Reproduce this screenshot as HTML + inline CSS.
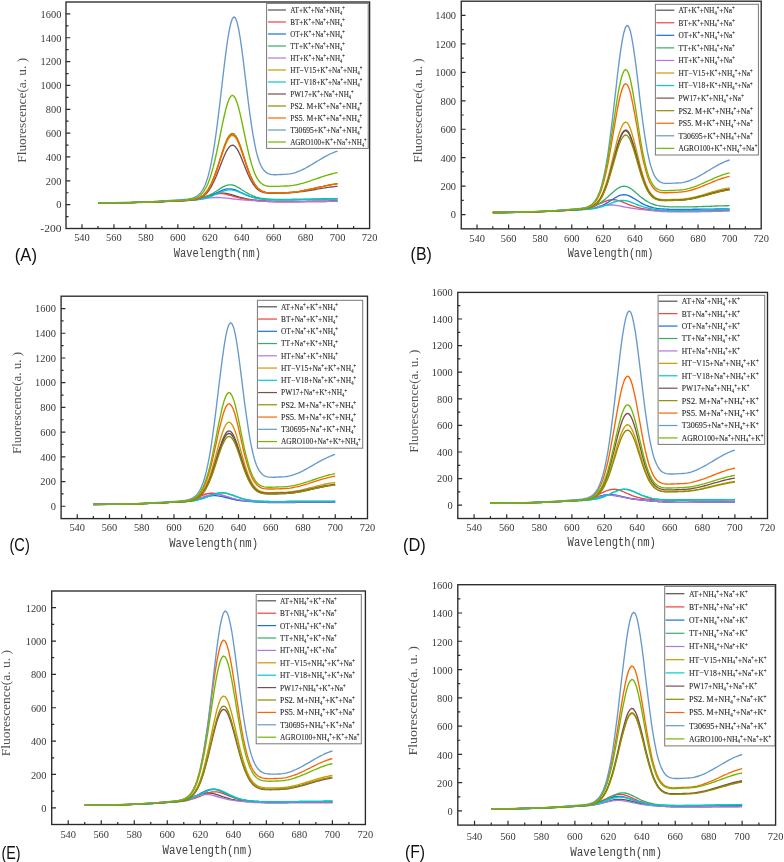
<!DOCTYPE html>
<html><head><meta charset="utf-8"><style>
html,body{margin:0;padding:0;background:#fff;}
svg{display:block;will-change:transform;}
.c{fill:none;stroke-width:1.35;stroke-linejoin:round;}
.fr{fill:none;stroke:#2a2a2a;stroke-width:1.35;}
.tk{fill:none;stroke:#2a2a2a;stroke-width:1.2;}
.tl{font-family:"Liberation Serif",serif;font-size:10px;fill:#383838;}
.yt{font-family:"Liberation Serif",serif;font-size:12.8px;fill:#505050;}
.xt{font-family:"Liberation Mono",monospace;font-size:12px;fill:#404040;}
.lab{font-family:"Liberation Sans",sans-serif;font-size:18.6px;fill:#111;}
.lg{fill:#fff;stroke:#787878;stroke-width:1;}
.ls{stroke-width:1.2;fill:none;}
.lt{font-family:"Liberation Serif",serif;fill:#2a2a2a;stroke:#2a2a2a;stroke-width:0.12px;}
.sp,.sb{font-size:62%;}
</style></head><body>
<svg width="784" height="862" viewBox="0 0 784 862">
<polyline class="c" stroke="#515151" points="98,203 105.9,202.9 113.9,202.9 121.9,202.8 129.9,202.6 137.9,202.4 145.9,202.2 153.9,201.9 161.9,201.6 169.9,201.3 177.9,200.8 179.5,200.7 181,200.7 182.6,200.6 184.2,200.5 185.8,200.4 187.4,200.3 189,200.2 190.6,200 192.2,199.9 193.8,199.6 195.4,199.4 197,199.1 198.6,198.8 200.2,198.5 201.8,198.1 203.4,197.7 205,197.2 206.6,196.7 208.2,196.2 209.8,195.7 211.4,195.2 213,194.7 214.6,194.2 216.2,193.8 217.8,193.5 219.4,193.3 221,193.1 222.6,193.1 224.2,193.2 225.8,193.4 227.4,193.7 229,194.1 230.6,194.5 232.2,194.9 233.8,195.4 235.4,195.9 237,196.4 238.6,196.9 240.2,197.3 241.8,197.7 243.4,198.1 245,198.5 246.6,198.8 248.2,199.1 249.8,199.4 251.4,199.6 253,199.9 254.6,200.1 256.1,200.2 257.7,200.4 259.3,200.5 260.9,200.7 262.5,200.8 264.1,200.9 265.7,201 267.3,201.1 268.9,201.1 270.5,201.2 272.1,201.3 273.7,201.3 275.3,201.3 276.9,201.4 278.5,201.4 280.1,201.4 281.7,201.4 283.3,201.4 284.9,201.4 286.5,201.4 288.1,201.4 289.7,201.4 291.3,201.4 292.9,201.4 294.5,201.4 296.1,201.4 297.7,201.3 299.3,201.3 300.9,201.3 302.5,201.3 304.1,201.3 305.7,201.3 307.3,201.2 308.9,201.2 310.5,201.2 312.1,201.2 313.7,201.2 315.3,201.2 316.9,201.2 318.5,201.1 320.1,201.1 321.7,201.1 323.3,201.1 324.9,201.1 326.5,201.1 328.1,201.1 329.7,201 331.3,201 332.8,201 334.4,201 336,200.9 337.6,200.9"/>
<polyline class="c" stroke="#F14040" points="98,203 105.9,202.9 113.9,202.9 121.9,202.8 129.9,202.6 137.9,202.4 145.9,202.2 153.9,201.9 161.9,201.6 169.9,201.2 177.9,200.8 179.5,200.7 181,200.6 182.6,200.5 184.2,200.4 185.8,200.3 187.4,200.2 189,200 190.6,199.8 192.2,199.6 193.8,199.4 195.4,199.1 197,198.8 198.6,198.4 200.2,198 201.8,197.6 203.4,197.2 205,196.7 206.6,196.2 208.2,195.7 209.8,195.2 211.4,194.8 213,194.3 214.6,194 216.2,193.7 217.8,193.5 219.4,193.5 221,193.5 222.6,193.6 224.2,193.9 225.8,194.2 227.4,194.6 229,195 230.6,195.4 232.2,195.9 233.8,196.4 235.4,196.8 237,197.3 238.6,197.7 240.2,198.1 241.8,198.4 243.4,198.7 245,199 246.6,199.3 248.2,199.6 249.8,199.8 251.4,200 253,200.2 254.6,200.4 256.1,200.5 257.7,200.7 259.3,200.8 260.9,201 262.5,201.1 264.1,201.2 265.7,201.3 267.3,201.4 268.9,201.5 270.5,201.5 272.1,201.6 273.7,201.6 275.3,201.7 276.9,201.7 278.5,201.7 280.1,201.8 281.7,201.8 283.3,201.8 284.9,201.8 286.5,201.8 288.1,201.8 289.7,201.8 291.3,201.8 292.9,201.7 294.5,201.7 296.1,201.7 297.7,201.7 299.3,201.7 300.9,201.7 302.5,201.6 304.1,201.6 305.7,201.6 307.3,201.6 308.9,201.6 310.5,201.6 312.1,201.6 313.7,201.5 315.3,201.5 316.9,201.5 318.5,201.5 320.1,201.5 321.7,201.5 323.3,201.5 324.9,201.5 326.5,201.4 328.1,201.4 329.7,201.4 331.3,201.4 332.8,201.4 334.4,201.3 336,201.3 337.6,201.3"/>
<polyline class="c" stroke="#1A6FDF" points="98,202.9 105.9,202.9 113.9,202.8 121.9,202.7 129.9,202.6 137.9,202.4 145.9,202.2 153.9,201.9 161.9,201.6 169.9,201.2 177.9,200.8 179.5,200.7 181,200.7 182.6,200.6 184.2,200.5 185.8,200.5 187.4,200.4 189,200.3 190.6,200.2 192.2,200.1 193.8,199.9 195.4,199.8 197,199.5 198.6,199.3 200.2,199 201.8,198.7 203.4,198.3 205,197.9 206.6,197.4 208.2,196.8 209.8,196.2 211.4,195.5 213,194.8 214.6,194 216.2,193.2 217.8,192.4 219.4,191.6 221,190.9 222.6,190.2 224.2,189.6 225.8,189.2 227.4,188.9 229,188.8 230.6,188.9 232.2,189.1 233.8,189.5 235.4,190 237,190.6 238.6,191.3 240.2,192.1 241.8,192.8 243.4,193.6 245,194.3 246.6,195 248.2,195.7 249.8,196.3 251.4,196.8 253,197.3 254.6,197.7 256.1,198.1 257.7,198.4 259.3,198.6 260.9,198.8 262.5,199 264.1,199.2 265.7,199.3 267.3,199.4 268.9,199.4 270.5,199.5 272.1,199.5 273.7,199.6 275.3,199.6 276.9,199.6 278.5,199.6 280.1,199.6 281.7,199.6 283.3,199.6 284.9,199.6 286.5,199.6 288.1,199.6 289.7,199.6 291.3,199.6 292.9,199.5 294.5,199.5 296.1,199.5 297.7,199.5 299.3,199.5 300.9,199.4 302.5,199.4 304.1,199.4 305.7,199.4 307.3,199.3 308.9,199.3 310.5,199.3 312.1,199.3 313.7,199.2 315.3,199.2 316.9,199.2 318.5,199.1 320.1,199.1 321.7,199.1 323.3,199 324.9,199 326.5,199 328.1,198.9 329.7,198.9 331.3,198.9 332.8,198.8 334.4,198.8 336,198.8 337.6,198.7"/>
<polyline class="c" stroke="#37AD6B" points="98,202.9 105.9,202.9 113.9,202.8 121.9,202.7 129.9,202.6 137.9,202.4 145.9,202.1 153.9,201.9 161.9,201.5 169.9,201.1 177.9,200.7 179.5,200.6 181,200.6 182.6,200.5 184.2,200.4 185.8,200.3 187.4,200.3 189,200.1 190.6,200 192.2,199.9 193.8,199.7 195.4,199.5 197,199.3 198.6,199 200.2,198.7 201.8,198.2 203.4,197.8 205,197.2 206.6,196.6 208.2,195.9 209.8,195.1 211.4,194.2 213,193.3 214.6,192.3 216.2,191.3 217.8,190.2 219.4,189.1 221,188.1 222.6,187.1 224.2,186.3 225.8,185.6 227.4,185.1 229,184.8 230.6,184.8 232.2,185 233.8,185.4 235.4,186 237,186.8 238.6,187.7 240.2,188.6 241.8,189.7 243.4,190.7 245,191.7 246.6,192.7 248.2,193.6 249.8,194.5 251.4,195.2 253,195.9 254.6,196.5 256.1,197.1 257.7,197.5 259.3,197.9 260.9,198.3 262.5,198.5 264.1,198.7 265.7,198.9 267.3,199.1 268.9,199.2 270.5,199.3 272.1,199.3 273.7,199.4 275.3,199.4 276.9,199.5 278.5,199.5 280.1,199.5 281.7,199.5 283.3,199.5 284.9,199.5 286.5,199.5 288.1,199.5 289.7,199.5 291.3,199.5 292.9,199.5 294.5,199.5 296.1,199.4 297.7,199.4 299.3,199.4 300.9,199.4 302.5,199.4 304.1,199.3 305.7,199.3 307.3,199.3 308.9,199.3 310.5,199.2 312.1,199.2 313.7,199.2 315.3,199.1 316.9,199.1 318.5,199.1 320.1,199.1 321.7,199 323.3,199 324.9,199 326.5,198.9 328.1,198.9 329.7,198.9 331.3,198.8 332.8,198.8 334.4,198.8 336,198.7 337.6,198.7"/>
<polyline class="c" stroke="#B177DE" points="98,203 105.9,203 113.9,202.9 121.9,202.8 129.9,202.7 137.9,202.5 145.9,202.3 153.9,202 161.9,201.7 169.9,201.3 177.9,200.9 179.5,200.9 181,200.8 182.6,200.7 184.2,200.7 185.8,200.6 187.4,200.5 189,200.4 190.6,200.3 192.2,200.1 193.8,200 195.4,199.8 197,199.6 198.6,199.4 200.2,199.2 201.8,199 203.4,198.8 205,198.6 206.6,198.3 208.2,198.1 209.8,197.9 211.4,197.8 213,197.6 214.6,197.6 216.2,197.5 217.8,197.5 219.4,197.5 221,197.6 222.6,197.8 224.2,197.9 225.8,198.1 227.4,198.2 229,198.4 230.6,198.6 232.2,198.8 233.8,199 235.4,199.2 237,199.3 238.6,199.5 240.2,199.6 241.8,199.8 243.4,199.9 245,200 246.6,200.2 248.2,200.3 249.8,200.4 251.4,200.5 253,200.6 254.6,200.7 256.1,200.8 257.7,201 259.3,201.1 260.9,201.2 262.5,201.3 264.1,201.4 265.7,201.4 267.3,201.5 268.9,201.6 270.5,201.6 272.1,201.7 273.7,201.7 275.3,201.8 276.9,201.8 278.5,201.8 280.1,201.8 281.7,201.8 283.3,201.9 284.9,201.9 286.5,201.9 288.1,201.8 289.7,201.8 291.3,201.8 292.9,201.8 294.5,201.8 296.1,201.8 297.7,201.7 299.3,201.7 300.9,201.7 302.5,201.7 304.1,201.7 305.7,201.7 307.3,201.6 308.9,201.6 310.5,201.6 312.1,201.6 313.7,201.6 315.3,201.6 316.9,201.6 318.5,201.5 320.1,201.5 321.7,201.5 323.3,201.5 324.9,201.5 326.5,201.5 328.1,201.4 329.7,201.4 331.3,201.4 332.8,201.4 334.4,201.4 336,201.3 337.6,201.3"/>
<polyline class="c" stroke="#CC9900" points="98,202.9 105.9,202.9 113.9,202.8 121.9,202.7 129.9,202.6 137.9,202.4 145.9,202.1 153.9,201.8 161.9,201.5 169.9,201.1 177.9,200.6 179.5,200.6 181,200.5 182.6,200.4 184.2,200.4 185.8,200.3 187.4,200.2 189,200 190.6,199.9 192.2,199.7 193.8,199.4 195.4,199.1 197,198.6 198.6,198 200.2,197.3 201.8,196.3 203.4,195.1 205,193.5 206.6,191.6 208.2,189.4 209.8,186.6 211.4,183.5 213,179.8 214.6,175.8 216.2,171.3 217.8,166.6 219.4,161.6 221,156.6 222.6,151.6 224.2,147 225.8,142.7 227.4,139.2 229,136.5 230.6,134.7 232.2,134 233.8,134.4 235.4,135.9 237,138.5 238.6,142 240.2,146.1 241.8,150.8 243.4,155.6 245,160.6 246.6,165.4 248.2,170 249.8,174.2 251.4,177.9 253,181.2 254.6,183.9 256.1,186.2 257.7,188 259.3,189.5 260.9,190.6 262.5,191.4 264.1,191.9 265.7,192.4 267.3,192.6 268.9,192.8 270.5,192.9 272.1,192.9 273.7,192.9 275.3,192.9 276.9,192.9 278.5,192.8 280.1,192.8 281.7,192.8 283.3,192.7 284.9,192.7 286.5,192.6 288.1,192.6 289.7,192.5 291.3,192.4 292.9,192.2 294.5,192.1 296.1,191.9 297.7,191.6 299.3,191.4 300.9,191.1 302.5,190.8 304.1,190.5 305.7,190.2 307.3,189.9 308.9,189.5 310.5,189.2 312.1,188.8 313.7,188.5 315.3,188.1 316.9,187.7 318.5,187.3 320.1,187 321.7,186.6 323.3,186.3 324.9,185.9 326.5,185.6 328.1,185.3 329.7,185 331.3,184.7 332.8,184.4 334.4,184.2 336,183.9 337.6,183.7"/>
<polyline class="c" stroke="#00CBCC" points="98,202.9 105.9,202.9 113.9,202.9 121.9,202.8 129.9,202.6 137.9,202.4 145.9,202.2 153.9,201.9 161.9,201.6 169.9,201.2 177.9,200.8 179.5,200.8 181,200.7 182.6,200.7 184.2,200.6 185.8,200.5 187.4,200.5 189,200.4 190.6,200.3 192.2,200.2 193.8,200.1 195.4,199.9 197,199.7 198.6,199.5 200.2,199.3 201.8,199 203.4,198.7 205,198.3 206.6,197.9 208.2,197.4 209.8,196.8 211.4,196.3 213,195.6 214.6,194.9 216.2,194.2 217.8,193.5 219.4,192.8 221,192.1 222.6,191.4 224.2,190.9 225.8,190.4 227.4,190.1 229,189.9 230.6,189.9 232.2,190 233.8,190.3 235.4,190.7 237,191.3 238.6,191.9 240.2,192.5 241.8,193.2 243.4,193.9 245,194.6 246.6,195.2 248.2,195.8 249.8,196.4 251.4,196.9 253,197.4 254.6,197.8 256.1,198.1 257.7,198.4 259.3,198.7 260.9,198.9 262.5,199.1 264.1,199.3 265.7,199.4 267.3,199.5 268.9,199.6 270.5,199.6 272.1,199.7 273.7,199.7 275.3,199.7 276.9,199.7 278.5,199.7 280.1,199.8 281.7,199.8 283.3,199.8 284.9,199.7 286.5,199.7 288.1,199.7 289.7,199.7 291.3,199.7 292.9,199.7 294.5,199.7 296.1,199.6 297.7,199.6 299.3,199.6 300.9,199.6 302.5,199.6 304.1,199.5 305.7,199.5 307.3,199.5 308.9,199.4 310.5,199.4 312.1,199.4 313.7,199.3 315.3,199.3 316.9,199.3 318.5,199.3 320.1,199.2 321.7,199.2 323.3,199.2 324.9,199.1 326.5,199.1 328.1,199.1 329.7,199 331.3,199 332.8,199 334.4,198.9 336,198.9 337.6,198.9"/>
<polyline class="c" stroke="#7D4E4E" points="98,202.9 105.9,202.9 113.9,202.8 121.9,202.7 129.9,202.6 137.9,202.4 145.9,202.1 153.9,201.9 161.9,201.5 169.9,201.2 177.9,200.7 179.5,200.7 181,200.6 182.6,200.5 184.2,200.5 185.8,200.4 187.4,200.3 189,200.2 190.6,200 192.2,199.9 193.8,199.6 195.4,199.3 197,199 198.6,198.5 200.2,197.8 201.8,197 203.4,196 205,194.7 206.6,193.2 208.2,191.3 209.8,189 211.4,186.4 213,183.3 214.6,180 216.2,176.3 217.8,172.3 219.4,168.2 221,164 222.6,159.9 224.2,156 225.8,152.5 227.4,149.6 229,147.3 230.6,145.8 232.2,145.2 233.8,145.5 235.4,146.8 237,148.9 238.6,151.7 240.2,155.1 241.8,158.9 243.4,162.9 245,167 246.6,170.9 248.2,174.7 249.8,178.1 251.4,181.2 253,183.8 254.6,186.1 256.1,187.9 257.7,189.4 259.3,190.6 260.9,191.4 262.5,192.1 264.1,192.5 265.7,192.8 267.3,193 268.9,193.2 270.5,193.2 272.1,193.2 273.7,193.2 275.3,193.2 276.9,193.2 278.5,193.1 280.1,193.1 281.7,193 283.3,193 284.9,193 286.5,192.9 288.1,192.9 289.7,192.8 291.3,192.7 292.9,192.6 294.5,192.4 296.1,192.3 297.7,192.1 299.3,191.9 300.9,191.7 302.5,191.5 304.1,191.3 305.7,191 307.3,190.8 308.9,190.5 310.5,190.3 312.1,190 313.7,189.8 315.3,189.5 316.9,189.2 318.5,188.9 320.1,188.7 321.7,188.4 323.3,188.1 324.9,187.9 326.5,187.6 328.1,187.4 329.7,187.2 331.3,187 332.8,186.8 334.4,186.6 336,186.4 337.6,186.3"/>
<polyline class="c" stroke="#8E8E00" points="98,202.9 105.9,202.9 113.9,202.8 121.9,202.7 129.9,202.6 137.9,202.4 145.9,202.1 153.9,201.8 161.9,201.5 169.9,201.1 177.9,200.6 179.5,200.6 181,200.5 182.6,200.4 184.2,200.4 185.8,200.3 187.4,200.2 189,200 190.6,199.9 192.2,199.7 193.8,199.4 195.4,199 197,198.6 198.6,198 200.2,197.2 201.8,196.3 203.4,195 205,193.5 206.6,191.6 208.2,189.3 209.8,186.5 211.4,183.3 213,179.6 214.6,175.6 216.2,171.1 217.8,166.3 219.4,161.2 221,156.2 222.6,151.2 224.2,146.5 225.8,142.2 227.4,138.6 229,135.9 230.6,134.1 232.2,133.4 233.8,133.8 235.4,135.4 237,138 238.6,141.5 240.2,145.7 241.8,150.3 243.4,155.3 245,160.3 246.6,165.1 248.2,169.7 249.8,174 251.4,177.7 253,181 254.6,183.8 256.1,186.1 257.7,188 259.3,189.4 260.9,190.5 262.5,191.3 264.1,191.9 265.7,192.3 267.3,192.6 268.9,192.8 270.5,192.9 272.1,192.9 273.7,192.9 275.3,192.9 276.9,192.9 278.5,192.8 280.1,192.8 281.7,192.8 283.3,192.7 284.9,192.7 286.5,192.6 288.1,192.6 289.7,192.5 291.3,192.4 292.9,192.2 294.5,192.1 296.1,191.9 297.7,191.6 299.3,191.4 300.9,191.1 302.5,190.8 304.1,190.5 305.7,190.2 307.3,189.9 308.9,189.5 310.5,189.2 312.1,188.8 313.7,188.4 315.3,188.1 316.9,187.7 318.5,187.3 320.1,187 321.7,186.6 323.3,186.3 324.9,185.9 326.5,185.6 328.1,185.3 329.7,185 331.3,184.7 332.8,184.4 334.4,184.2 336,183.9 337.6,183.7"/>
<polyline class="c" stroke="#FB6501" points="98,202.9 105.9,202.9 113.9,202.8 121.9,202.7 129.9,202.6 137.9,202.4 145.9,202.1 153.9,201.8 161.9,201.5 169.9,201.1 177.9,200.6 179.5,200.6 181,200.5 182.6,200.4 184.2,200.4 185.8,200.3 187.4,200.2 189,200 190.6,199.9 192.2,199.7 193.8,199.4 195.4,199.1 197,198.7 198.6,198.1 200.2,197.3 201.8,196.4 203.4,195.2 205,193.7 206.6,191.8 208.2,189.6 209.8,186.9 211.4,183.8 213,180.2 214.6,176.3 216.2,171.9 217.8,167.2 219.4,162.4 221,157.4 222.6,152.6 224.2,148 225.8,143.9 227.4,140.4 229,137.7 230.6,136 232.2,135.3 233.8,135.7 235.4,137.2 237,139.7 238.6,143.1 240.2,147.2 241.8,151.7 243.4,156.5 245,161.3 246.6,166.1 248.2,170.5 249.8,174.6 251.4,178.3 253,181.5 254.6,184.2 256.1,186.4 257.7,188.2 259.3,189.6 260.9,190.6 262.5,191.4 264.1,192 265.7,192.4 267.3,192.6 268.9,192.8 270.5,192.9 272.1,192.9 273.7,192.9 275.3,192.9 276.9,192.9 278.5,192.9 280.1,192.8 281.7,192.8 283.3,192.7 284.9,192.7 286.5,192.7 288.1,192.6 289.7,192.5 291.3,192.4 292.9,192.2 294.5,192.1 296.1,191.9 297.7,191.6 299.3,191.4 300.9,191.1 302.5,190.8 304.1,190.5 305.7,190.2 307.3,189.9 308.9,189.5 310.5,189.2 312.1,188.8 313.7,188.5 315.3,188.1 316.9,187.7 318.5,187.3 320.1,187 321.7,186.6 323.3,186.3 324.9,185.9 326.5,185.6 328.1,185.3 329.7,185 331.3,184.7 332.8,184.4 334.4,184.2 336,183.9 337.6,183.7"/>
<polyline class="c" stroke="#6699CC" points="98,202.8 105.9,202.7 113.9,202.6 121.9,202.5 129.9,202.3 137.9,202.1 145.9,201.8 153.9,201.5 161.9,201 169.9,200.5 177.9,199.9 179.5,199.8 181,199.7 182.6,199.6 184.2,199.4 185.8,199.3 187.4,199.1 189,198.8 190.6,198.5 192.2,198.1 193.8,197.6 195.4,196.9 197,196 198.6,194.8 200.2,193.3 201.8,191.2 203.4,188.6 205,185.3 206.6,181.1 208.2,175.9 209.8,169.7 211.4,162.2 213,153.5 214.6,143.6 216.2,132.5 217.8,120.2 219.4,107.2 221,93.5 222.6,79.7 224.2,66 225.8,53.2 227.4,41.5 229,31.7 230.6,24 232.2,19 233.8,16.9 235.4,17.9 237,21.9 238.6,28.8 240.2,38.1 241.8,49.2 243.4,61.6 245,74.8 246.6,88.1 248.2,101.1 249.8,113.4 251.4,124.6 253,134.7 254.6,143.4 256.1,150.8 257.7,156.8 259.3,161.7 260.9,165.5 262.5,168.4 264.1,170.6 265.7,172.1 267.3,173.2 268.9,173.9 270.5,174.3 272.1,174.6 273.7,174.7 275.3,174.7 276.9,174.7 278.5,174.6 280.1,174.5 281.7,174.5 283.3,174.4 284.9,174.3 286.5,174.2 288.1,174.1 289.7,173.9 291.3,173.6 292.9,173.3 294.5,172.8 296.1,172.3 297.7,171.7 299.3,171.1 300.9,170.4 302.5,169.6 304.1,168.8 305.7,168 307.3,167.1 308.9,166.2 310.5,165.3 312.1,164.3 313.7,163.4 315.3,162.4 316.9,161.4 318.5,160.5 320.1,159.5 321.7,158.6 323.3,157.6 324.9,156.7 326.5,155.9 328.1,155 329.7,154.2 331.3,153.5 332.8,152.8 334.4,152.2 336,151.6 337.6,151.1"/>
<polyline class="c" stroke="#6FB802" points="98,202.9 105.9,202.8 113.9,202.8 121.9,202.6 129.9,202.5 137.9,202.3 145.9,202 153.9,201.7 161.9,201.3 169.9,200.9 177.9,200.4 179.5,200.3 181,200.2 182.6,200.1 184.2,200 185.8,199.9 187.4,199.7 189,199.5 190.6,199.3 192.2,199 193.8,198.6 195.4,198.1 197,197.4 198.6,196.5 200.2,195.3 201.8,193.8 203.4,191.8 205,189.4 206.6,186.5 208.2,182.9 209.8,178.6 211.4,173.6 213,167.9 214.6,161.5 216.2,154.5 217.8,147 219.4,139.1 221,131.2 222.6,123.4 224.2,116 225.8,109.3 227.4,103.7 229,99.3 230.6,96.5 232.2,95.3 233.8,96 235.4,98.3 237,102.4 238.6,107.7 240.2,114.2 241.8,121.4 243.4,129 245,136.7 246.6,144.2 248.2,151.3 249.8,157.8 251.4,163.6 253,168.6 254.6,172.9 256.1,176.4 257.7,179.2 259.3,181.3 260.9,183 262.5,184.2 264.1,185.1 265.7,185.7 267.3,186 268.9,186.3 270.5,186.4 272.1,186.4 273.7,186.4 275.3,186.4 276.9,186.3 278.5,186.3 280.1,186.2 281.7,186.1 283.3,186.1 284.9,186 286.5,186 288.1,185.9 289.7,185.8 291.3,185.6 292.9,185.4 294.5,185.1 296.1,184.8 297.7,184.5 299.3,184.1 300.9,183.7 302.5,183.3 304.1,182.8 305.7,182.3 307.3,181.8 308.9,181.3 310.5,180.8 312.1,180.2 313.7,179.7 315.3,179.1 316.9,178.6 318.5,178 320.1,177.5 321.7,176.9 323.3,176.4 324.9,175.9 326.5,175.4 328.1,174.9 329.7,174.5 331.3,174 332.8,173.6 334.4,173.2 336,172.9 337.6,172.6"/>
<rect class="lg" x="266.60" y="3.40" width="101.60" height="145.00"/>
<path class="ls" stroke="#515151" d="M267.90 10.00H285.90"/>
<text class="lt" style="font-size:8.61px" x="290.20" y="12.90" textLength="54.5" lengthAdjust="spacingAndGlyphs"><tspan y="12.90">AT</tspan><tspan y="12.90">+K</tspan><tspan class="sp" y="10.00">+</tspan><tspan y="12.90">+Na</tspan><tspan class="sp" y="10.00">+</tspan><tspan y="12.90">+NH</tspan><tspan class="sb" y="14.50">4</tspan><tspan class="sp" y="10.00">+</tspan></text>
<path class="ls" stroke="#F14040" d="M267.90 22.00H285.90"/>
<text class="lt" style="font-size:8.61px" x="290.20" y="24.90" textLength="54.5" lengthAdjust="spacingAndGlyphs"><tspan y="24.90">BT</tspan><tspan y="24.90">+K</tspan><tspan class="sp" y="22.00">+</tspan><tspan y="24.90">+Na</tspan><tspan class="sp" y="22.00">+</tspan><tspan y="24.90">+NH</tspan><tspan class="sb" y="26.50">4</tspan><tspan class="sp" y="22.00">+</tspan></text>
<path class="ls" stroke="#1A6FDF" d="M267.90 34.00H285.90"/>
<text class="lt" style="font-size:8.61px" x="290.20" y="36.90" textLength="54.5" lengthAdjust="spacingAndGlyphs"><tspan y="36.90">OT</tspan><tspan y="36.90">+K</tspan><tspan class="sp" y="34.00">+</tspan><tspan y="36.90">+Na</tspan><tspan class="sp" y="34.00">+</tspan><tspan y="36.90">+NH</tspan><tspan class="sb" y="38.50">4</tspan><tspan class="sp" y="34.00">+</tspan></text>
<path class="ls" stroke="#37AD6B" d="M267.90 46.00H285.90"/>
<text class="lt" style="font-size:8.61px" x="290.20" y="48.90" textLength="54.5" lengthAdjust="spacingAndGlyphs"><tspan y="48.90">TT</tspan><tspan y="48.90">+K</tspan><tspan class="sp" y="46.00">+</tspan><tspan y="48.90">+Na</tspan><tspan class="sp" y="46.00">+</tspan><tspan y="48.90">+NH</tspan><tspan class="sb" y="50.50">4</tspan><tspan class="sp" y="46.00">+</tspan></text>
<path class="ls" stroke="#B177DE" d="M267.90 58.00H285.90"/>
<text class="lt" style="font-size:8.61px" x="290.20" y="60.90" textLength="54.5" lengthAdjust="spacingAndGlyphs"><tspan y="60.90">HT</tspan><tspan y="60.90">+K</tspan><tspan class="sp" y="58.00">+</tspan><tspan y="60.90">+Na</tspan><tspan class="sp" y="58.00">+</tspan><tspan y="60.90">+NH</tspan><tspan class="sb" y="62.50">4</tspan><tspan class="sp" y="58.00">+</tspan></text>
<path class="ls" stroke="#CC9900" d="M267.90 70.00H285.90"/>
<text class="lt" style="font-size:8.61px" x="290.20" y="72.90" textLength="72.0" lengthAdjust="spacingAndGlyphs"><tspan y="72.90">HT&#8722;V15</tspan><tspan y="72.90">+K</tspan><tspan class="sp" y="70.00">+</tspan><tspan y="72.90">+Na</tspan><tspan class="sp" y="70.00">+</tspan><tspan y="72.90">+NH</tspan><tspan class="sb" y="74.50">4</tspan><tspan class="sp" y="70.00">+</tspan></text>
<path class="ls" stroke="#00CBCC" d="M267.90 82.00H285.90"/>
<text class="lt" style="font-size:8.61px" x="290.20" y="84.90" textLength="72.0" lengthAdjust="spacingAndGlyphs"><tspan y="84.90">HT&#8722;V18</tspan><tspan y="84.90">+K</tspan><tspan class="sp" y="82.00">+</tspan><tspan y="84.90">+Na</tspan><tspan class="sp" y="82.00">+</tspan><tspan y="84.90">+NH</tspan><tspan class="sb" y="86.50">4</tspan><tspan class="sp" y="82.00">+</tspan></text>
<path class="ls" stroke="#7D4E4E" d="M267.90 94.00H285.90"/>
<text class="lt" style="font-size:8.61px" x="290.20" y="96.90" textLength="63.3" lengthAdjust="spacingAndGlyphs"><tspan y="96.90">PW17</tspan><tspan y="96.90">+K</tspan><tspan class="sp" y="94.00">+</tspan><tspan y="96.90">+Na</tspan><tspan class="sp" y="94.00">+</tspan><tspan y="96.90">+NH</tspan><tspan class="sb" y="98.50">4</tspan><tspan class="sp" y="94.00">+</tspan></text>
<path class="ls" stroke="#8E8E00" d="M267.90 106.00H285.90"/>
<text class="lt" style="font-size:8.61px" x="290.20" y="108.90" textLength="72.0" lengthAdjust="spacingAndGlyphs"><tspan y="108.90">PS2. M</tspan><tspan y="108.90">+K</tspan><tspan class="sp" y="106.00">+</tspan><tspan y="108.90">+Na</tspan><tspan class="sp" y="106.00">+</tspan><tspan y="108.90">+NH</tspan><tspan class="sb" y="110.50">4</tspan><tspan class="sp" y="106.00">+</tspan></text>
<path class="ls" stroke="#FB6501" d="M267.90 118.00H285.90"/>
<text class="lt" style="font-size:8.61px" x="290.20" y="120.90" textLength="72.0" lengthAdjust="spacingAndGlyphs"><tspan y="120.90">PS5. M</tspan><tspan y="120.90">+K</tspan><tspan class="sp" y="118.00">+</tspan><tspan y="120.90">+Na</tspan><tspan class="sp" y="118.00">+</tspan><tspan y="120.90">+NH</tspan><tspan class="sb" y="122.50">4</tspan><tspan class="sp" y="118.00">+</tspan></text>
<path class="ls" stroke="#6699CC" d="M267.90 130.00H285.90"/>
<text class="lt" style="font-size:8.61px" x="290.20" y="132.90" textLength="72.0" lengthAdjust="spacingAndGlyphs"><tspan y="132.90">T30695</tspan><tspan y="132.90">+K</tspan><tspan class="sp" y="130.00">+</tspan><tspan y="132.90">+Na</tspan><tspan class="sp" y="130.00">+</tspan><tspan y="132.90">+NH</tspan><tspan class="sb" y="134.50">4</tspan><tspan class="sp" y="130.00">+</tspan></text>
<path class="ls" stroke="#6FB802" d="M267.90 142.00H285.90"/>
<text class="lt" style="font-size:8.61px" x="290.20" y="144.90" textLength="76.4" lengthAdjust="spacingAndGlyphs"><tspan y="144.90">AGRO100</tspan><tspan y="144.90">+K</tspan><tspan class="sp" y="142.00">+</tspan><tspan y="144.90">+Na</tspan><tspan class="sp" y="142.00">+</tspan><tspan y="144.90">+NH</tspan><tspan class="sb" y="146.50">4</tspan><tspan class="sp" y="142.00">+</tspan></text>
<rect class="fr" x="66.00" y="2.00" width="303.60" height="226.50"/>
<path class="tk" d="M81.98 228.50v-4.3 M97.96 228.50v-2.5 M113.94 228.50v-4.3 M129.92 228.50v-2.5 M145.89 228.50v-4.3 M161.87 228.50v-2.5 M177.85 228.50v-4.3 M193.83 228.50v-2.5 M209.81 228.50v-4.3 M225.79 228.50v-2.5 M241.77 228.50v-4.3 M257.75 228.50v-2.5 M273.73 228.50v-4.3 M289.71 228.50v-2.5 M305.68 228.50v-4.3 M321.66 228.50v-2.5 M337.64 228.50v-4.3 M353.62 228.50v-2.5 M66.00 216.58h2.5 M66.00 204.66h4.3 M66.00 192.74h2.5 M66.00 180.82h4.3 M66.00 168.89h2.5 M66.00 156.97h4.3 M66.00 145.05h2.5 M66.00 133.13h4.3 M66.00 121.21h2.5 M66.00 109.29h4.3 M66.00 97.37h2.5 M66.00 85.45h4.3 M66.00 73.53h2.5 M66.00 61.61h4.3 M66.00 49.68h2.5 M66.00 37.76h4.3 M66.00 25.84h2.5 M66.00 13.92h4.3"/>
<text class="tl" style="font-size:10.0px" x="81.98" y="241.30" text-anchor="middle" textLength="15.6" lengthAdjust="spacingAndGlyphs">540</text>
<text class="tl" style="font-size:10.0px" x="113.94" y="241.30" text-anchor="middle" textLength="15.6" lengthAdjust="spacingAndGlyphs">560</text>
<text class="tl" style="font-size:10.0px" x="145.89" y="241.30" text-anchor="middle" textLength="15.6" lengthAdjust="spacingAndGlyphs">580</text>
<text class="tl" style="font-size:10.0px" x="177.85" y="241.30" text-anchor="middle" textLength="15.6" lengthAdjust="spacingAndGlyphs">600</text>
<text class="tl" style="font-size:10.0px" x="209.81" y="241.30" text-anchor="middle" textLength="15.6" lengthAdjust="spacingAndGlyphs">620</text>
<text class="tl" style="font-size:10.0px" x="241.77" y="241.30" text-anchor="middle" textLength="15.6" lengthAdjust="spacingAndGlyphs">640</text>
<text class="tl" style="font-size:10.0px" x="273.73" y="241.30" text-anchor="middle" textLength="15.6" lengthAdjust="spacingAndGlyphs">660</text>
<text class="tl" style="font-size:10.0px" x="305.68" y="241.30" text-anchor="middle" textLength="15.6" lengthAdjust="spacingAndGlyphs">680</text>
<text class="tl" style="font-size:10.0px" x="337.64" y="241.30" text-anchor="middle" textLength="15.6" lengthAdjust="spacingAndGlyphs">700</text>
<text class="tl" style="font-size:10.0px" x="369.60" y="241.30" text-anchor="middle" textLength="15.6" lengthAdjust="spacingAndGlyphs">720</text>
<text class="tl" style="font-size:10.0px" x="61.40" y="232.30" text-anchor="end" textLength="21.1" lengthAdjust="spacingAndGlyphs">-200</text>
<text class="tl" style="font-size:10.0px" x="61.40" y="208.46" text-anchor="end" textLength="5.2" lengthAdjust="spacingAndGlyphs">0</text>
<text class="tl" style="font-size:10.0px" x="61.40" y="184.62" text-anchor="end" textLength="15.6" lengthAdjust="spacingAndGlyphs">200</text>
<text class="tl" style="font-size:10.0px" x="61.40" y="160.77" text-anchor="end" textLength="15.6" lengthAdjust="spacingAndGlyphs">400</text>
<text class="tl" style="font-size:10.0px" x="61.40" y="136.93" text-anchor="end" textLength="15.6" lengthAdjust="spacingAndGlyphs">600</text>
<text class="tl" style="font-size:10.0px" x="61.40" y="113.09" text-anchor="end" textLength="15.6" lengthAdjust="spacingAndGlyphs">800</text>
<text class="tl" style="font-size:10.0px" x="61.40" y="89.25" text-anchor="end" textLength="20.8" lengthAdjust="spacingAndGlyphs">1000</text>
<text class="tl" style="font-size:10.0px" x="61.40" y="65.41" text-anchor="end" textLength="20.8" lengthAdjust="spacingAndGlyphs">1200</text>
<text class="tl" style="font-size:10.0px" x="61.40" y="41.56" text-anchor="end" textLength="20.8" lengthAdjust="spacingAndGlyphs">1400</text>
<text class="tl" style="font-size:10.0px" x="61.40" y="17.72" text-anchor="end" textLength="20.8" lengthAdjust="spacingAndGlyphs">1600</text>
<text class="yt" transform="translate(26.20 162.70) rotate(-90)" textLength="104.8" lengthAdjust="spacingAndGlyphs">Fluorescence(a. u. )</text>
<text class="xt" x="173.80" y="256.60" textLength="87.2" lengthAdjust="spacingAndGlyphs">Wavelength(nm)</text>
<text class="lab" x="14.80" y="260.50" textLength="22.2" lengthAdjust="spacingAndGlyphs">(A)</text>
<polyline class="c" stroke="#515151" points="492.8,212.5 500.7,212.5 508.6,212.4 516.5,212.3 524.4,212.1 532.3,211.9 540.2,211.6 548.1,211.3 556,210.8 563.9,210.4 571.8,209.8 573.3,209.7 574.9,209.7 576.5,209.6 578.1,209.5 579.7,209.4 581.2,209.3 582.8,209.1 584.4,208.9 586,208.7 587.5,208.4 589.1,208 590.7,207.4 592.3,206.7 593.9,205.8 595.4,204.7 597,203.2 598.6,201.4 600.2,199.1 601.8,196.4 603.3,193.2 604.9,189.4 606.5,185.1 608.1,180.3 609.6,175 611.2,169.4 612.8,163.5 614.4,157.5 616,151.7 617.5,146.1 619.1,141.1 620.7,136.9 622.3,133.6 623.9,131.5 625.4,130.7 627,131.2 628.6,133 630.2,136.1 631.7,140.2 633.3,145.1 634.9,150.5 636.5,156.3 638.1,162.2 639.6,167.9 641.2,173.3 642.8,178.2 644.4,182.7 646,186.5 647.5,189.8 649.1,192.5 650.7,194.6 652.3,196.3 653.8,197.6 655.4,198.5 657,199.2 658.6,199.7 660.2,200 661.7,200.2 663.3,200.3 664.9,200.4 666.5,200.4 668.1,200.3 669.6,200.3 671.2,200.3 672.8,200.2 674.4,200.2 676,200.1 677.5,200.1 679.1,200 680.7,199.9 682.3,199.8 683.8,199.7 685.4,199.5 687,199.3 688.6,199.1 690.2,198.8 691.7,198.5 693.3,198.2 694.9,197.9 696.5,197.5 698.1,197.1 699.6,196.7 701.2,196.3 702.8,195.9 704.4,195.5 705.9,195.1 707.5,194.6 709.1,194.2 710.7,193.8 712.3,193.3 713.8,192.9 715.4,192.5 717,192.1 718.6,191.7 720.2,191.3 721.7,191 723.3,190.6 724.9,190.3 726.5,190 728,189.7 729.6,189.5"/>
<polyline class="c" stroke="#F14040" points="492.8,212.6 500.7,212.5 508.6,212.5 516.5,212.3 524.4,212.2 532.3,212 540.2,211.7 548.1,211.3 556,211 563.9,210.5 571.8,209.9 573.3,209.8 574.9,209.7 576.5,209.6 578.1,209.5 579.7,209.3 581.2,209.1 582.8,208.9 584.4,208.7 586,208.4 587.5,208 589.1,207.6 590.7,207.2 592.3,206.7 593.9,206.1 595.4,205.5 597,204.9 598.6,204.2 600.2,203.5 601.8,202.8 603.3,202.2 604.9,201.5 606.5,200.9 608.1,200.4 609.6,200 611.2,199.8 612.8,199.7 614.4,199.7 616,199.9 617.5,200.3 619.1,200.7 620.7,201.3 622.3,201.9 623.9,202.5 625.4,203.2 627,203.8 628.6,204.5 630.2,205.1 631.7,205.7 633.3,206.2 634.9,206.7 636.5,207.2 638.1,207.6 639.6,208 641.2,208.3 642.8,208.6 644.4,208.9 646,209.2 647.5,209.4 649.1,209.6 650.7,209.8 652.3,210 653.8,210.1 655.4,210.3 657,210.4 658.6,210.5 660.2,210.7 661.7,210.8 663.3,210.8 664.9,210.9 666.5,211 668.1,211 669.6,211.1 671.2,211.1 672.8,211.1 674.4,211.1 676,211.2 677.5,211.2 679.1,211.2 680.7,211.2 682.3,211.2 683.8,211.1 685.4,211.1 687,211.1 688.6,211.1 690.2,211.1 691.7,211 693.3,211 694.9,211 696.5,211 698.1,210.9 699.6,210.9 701.2,210.9 702.8,210.9 704.4,210.8 705.9,210.8 707.5,210.8 709.1,210.7 710.7,210.7 712.3,210.7 713.8,210.6 715.4,210.6 717,210.6 718.6,210.5 720.2,210.5 721.7,210.5 723.3,210.4 724.9,210.4 726.5,210.4 728,210.3 729.6,210.3"/>
<polyline class="c" stroke="#1A6FDF" points="492.8,212.6 500.7,212.5 508.6,212.5 516.5,212.3 524.4,212.2 532.3,211.9 540.2,211.7 548.1,211.3 556,210.9 563.9,210.5 571.8,210 573.3,209.9 574.9,209.9 576.5,209.8 578.1,209.7 579.7,209.6 581.2,209.5 582.8,209.4 584.4,209.3 586,209.2 587.5,209 589.1,208.9 590.7,208.6 592.3,208.4 593.9,208.1 595.4,207.7 597,207.3 598.6,206.8 600.2,206.2 601.8,205.6 603.3,204.9 604.9,204.1 606.5,203.2 608.1,202.3 609.6,201.3 611.2,200.3 612.8,199.3 614.4,198.3 616,197.3 617.5,196.5 619.1,195.7 620.7,195.2 622.3,194.8 623.9,194.7 625.4,194.8 627,195.1 628.6,195.6 630.2,196.3 631.7,197.1 633.3,198.1 634.9,199 636.5,200 638.1,201 639.6,202 641.2,202.9 642.8,203.8 644.4,204.6 646,205.3 647.5,205.9 649.1,206.5 650.7,207 652.3,207.4 653.8,207.8 655.4,208.1 657,208.4 658.6,208.6 660.2,208.8 661.7,208.9 663.3,209 664.9,209.1 666.5,209.2 668.1,209.2 669.6,209.3 671.2,209.3 672.8,209.3 674.4,209.4 676,209.4 677.5,209.4 679.1,209.4 680.7,209.4 682.3,209.4 683.8,209.3 685.4,209.3 687,209.3 688.6,209.3 690.2,209.3 691.7,209.3 693.3,209.2 694.9,209.2 696.5,209.2 698.1,209.2 699.6,209.2 701.2,209.2 702.8,209.1 704.4,209.1 705.9,209.1 707.5,209.1 709.1,209.1 710.7,209.1 712.3,209.1 713.8,209.1 715.4,209 717,209 718.6,209 720.2,209 721.7,209 723.3,208.9 724.9,208.9 726.5,208.9 728,208.9 729.6,208.8"/>
<polyline class="c" stroke="#37AD6B" points="492.8,212.5 500.7,212.5 508.6,212.4 516.5,212.2 524.4,212.1 532.3,211.8 540.2,211.5 548.1,211.2 556,210.7 563.9,210.2 571.8,209.6 573.3,209.5 574.9,209.4 576.5,209.3 578.1,209.2 579.7,209.1 581.2,208.9 582.8,208.7 584.4,208.5 586,208.2 587.5,207.9 589.1,207.6 590.7,207.2 592.3,206.7 593.9,206.1 595.4,205.4 597,204.7 598.6,203.8 600.2,202.9 601.8,201.8 603.3,200.6 604.9,199.4 606.5,198.1 608.1,196.7 609.6,195.2 611.2,193.8 612.8,192.4 614.4,191 616,189.7 617.5,188.5 619.1,187.6 620.7,186.8 622.3,186.4 623.9,186.2 625.4,186.3 627,186.7 628.6,187.3 630.2,188.2 631.7,189.3 633.3,190.5 634.9,191.8 636.5,193.2 638.1,194.5 639.6,195.9 641.2,197.2 642.8,198.4 644.4,199.6 646,200.7 647.5,201.6 649.1,202.5 650.7,203.3 652.3,203.9 653.8,204.5 655.4,205 657,205.4 658.6,205.7 660.2,206 661.7,206.2 663.3,206.4 664.9,206.5 666.5,206.6 668.1,206.7 669.6,206.8 671.2,206.8 672.8,206.9 674.4,206.9 676,206.9 677.5,206.9 679.1,206.9 680.7,206.9 682.3,206.9 683.8,206.9 685.4,206.9 687,206.9 688.6,206.8 690.2,206.8 691.7,206.8 693.3,206.8 694.9,206.7 696.5,206.7 698.1,206.7 699.6,206.6 701.2,206.6 702.8,206.5 704.4,206.5 705.9,206.4 707.5,206.4 709.1,206.3 710.7,206.2 712.3,206.2 713.8,206.1 715.4,206 717,206 718.6,205.9 720.2,205.9 721.7,205.8 723.3,205.8 724.9,205.7 726.5,205.7 728,205.7 729.6,205.6"/>
<polyline class="c" stroke="#B177DE" points="492.8,212.6 500.7,212.6 508.6,212.5 516.5,212.4 524.4,212.2 532.3,212 540.2,211.7 548.1,211.4 556,211.1 563.9,210.6 571.8,210.1 573.3,210 574.9,209.9 576.5,209.8 578.1,209.7 579.7,209.6 581.2,209.5 582.8,209.3 584.4,209.1 586,208.9 587.5,208.7 589.1,208.5 590.7,208.2 592.3,207.9 593.9,207.6 595.4,207.2 597,206.9 598.6,206.5 600.2,206.2 601.8,205.9 603.3,205.6 604.9,205.3 606.5,205.1 608.1,205 609.6,204.9 611.2,205 612.8,205 614.4,205.2 616,205.4 617.5,205.6 619.1,205.9 620.7,206.2 622.3,206.5 623.9,206.8 625.4,207.1 627,207.4 628.6,207.7 630.2,208 631.7,208.2 633.3,208.5 634.9,208.7 636.5,208.9 638.1,209.1 639.6,209.3 641.2,209.5 642.8,209.6 644.4,209.8 646,210 647.5,210.2 649.1,210.3 650.7,210.5 652.3,210.7 653.8,210.8 655.4,211 657,211.1 658.6,211.2 660.2,211.4 661.7,211.5 663.3,211.6 664.9,211.6 666.5,211.7 668.1,211.8 669.6,211.8 671.2,211.9 672.8,211.9 674.4,211.9 676,211.9 677.5,211.9 679.1,211.9 680.7,211.9 682.3,211.9 683.8,211.9 685.4,211.9 687,211.9 688.6,211.9 690.2,211.8 691.7,211.8 693.3,211.8 694.9,211.8 696.5,211.7 698.1,211.7 699.6,211.7 701.2,211.6 702.8,211.6 704.4,211.6 705.9,211.5 707.5,211.5 709.1,211.5 710.7,211.5 712.3,211.4 713.8,211.4 715.4,211.4 717,211.3 718.6,211.3 720.2,211.2 721.7,211.2 723.3,211.2 724.9,211.1 726.5,211.1 728,211.1 729.6,211"/>
<polyline class="c" stroke="#CC9900" points="492.8,212.5 500.7,212.5 508.6,212.4 516.5,212.3 524.4,212.1 532.3,211.9 540.2,211.6 548.1,211.2 556,210.8 563.9,210.3 571.8,209.8 573.3,209.7 574.9,209.6 576.5,209.5 578.1,209.4 579.7,209.3 581.2,209.2 582.8,209 584.4,208.8 586,208.5 587.5,208.2 589.1,207.7 590.7,207.1 592.3,206.4 593.9,205.4 595.4,204.1 597,202.5 598.6,200.5 600.2,198 601.8,195 603.3,191.4 604.9,187.2 606.5,182.5 608.1,177.1 609.6,171.3 611.2,165 612.8,158.5 614.4,151.9 616,145.4 617.5,139.2 619.1,133.7 620.7,129 622.3,125.4 623.9,123.1 625.4,122.1 627,122.7 628.6,124.7 630.2,128.1 631.7,132.7 633.3,138.1 634.9,144.2 636.5,150.6 638.1,157.1 639.6,163.5 641.2,169.5 642.8,175 644.4,179.9 646,184.2 647.5,187.8 649.1,190.8 650.7,193.2 652.3,195.1 653.8,196.5 655.4,197.6 657,198.3 658.6,198.9 660.2,199.2 661.7,199.4 663.3,199.6 664.9,199.6 666.5,199.6 668.1,199.6 669.6,199.6 671.2,199.5 672.8,199.5 674.4,199.4 676,199.4 677.5,199.3 679.1,199.3 680.7,199.2 682.3,199.1 683.8,199 685.4,198.8 687,198.5 688.6,198.3 690.2,198 691.7,197.7 693.3,197.3 694.9,196.9 696.5,196.6 698.1,196.1 699.6,195.7 701.2,195.3 702.8,194.8 704.4,194.3 705.9,193.9 707.5,193.4 709.1,192.9 710.7,192.5 712.3,192 713.8,191.5 715.4,191.1 717,190.6 718.6,190.2 720.2,189.8 721.7,189.4 723.3,189 724.9,188.7 726.5,188.3 728,188.1 729.6,187.8"/>
<polyline class="c" stroke="#00CBCC" points="492.8,212.6 500.7,212.6 508.6,212.5 516.5,212.4 524.4,212.2 532.3,212 540.2,211.7 548.1,211.4 556,211 563.9,210.6 571.8,210.1 573.3,210.1 574.9,210 576.5,209.9 578.1,209.9 579.7,209.8 581.2,209.7 582.8,209.7 584.4,209.6 586,209.4 587.5,209.3 589.1,209.2 590.7,209 592.3,208.8 593.9,208.6 595.4,208.3 597,208 598.6,207.6 600.2,207.2 601.8,206.8 603.3,206.2 604.9,205.7 606.5,205.1 608.1,204.5 609.6,203.9 611.2,203.2 612.8,202.6 614.4,202 616,201.5 617.5,201 619.1,200.7 620.7,200.5 622.3,200.4 623.9,200.5 625.4,200.6 627,201 628.6,201.4 630.2,201.9 631.7,202.5 633.3,203.1 634.9,203.7 636.5,204.4 638.1,205 639.6,205.6 641.2,206.1 642.8,206.7 644.4,207.2 646,207.6 647.5,208 649.1,208.4 650.7,208.7 652.3,209 653.8,209.2 655.4,209.4 657,209.6 658.6,209.8 660.2,209.9 661.7,210 663.3,210.1 664.9,210.2 666.5,210.3 668.1,210.3 669.6,210.4 671.2,210.4 672.8,210.4 674.4,210.4 676,210.5 677.5,210.5 679.1,210.5 680.7,210.4 682.3,210.4 683.8,210.4 685.4,210.4 687,210.4 688.6,210.4 690.2,210.3 691.7,210.3 693.3,210.3 694.9,210.3 696.5,210.3 698.1,210.2 699.6,210.2 701.2,210.2 702.8,210.1 704.4,210.1 705.9,210.1 707.5,210 709.1,210 710.7,210 712.3,209.9 713.8,209.9 715.4,209.9 717,209.9 718.6,209.8 720.2,209.8 721.7,209.8 723.3,209.7 724.9,209.7 726.5,209.7 728,209.6 729.6,209.6"/>
<polyline class="c" stroke="#7D4E4E" points="492.8,212.5 500.7,212.5 508.6,212.4 516.5,212.3 524.4,212.1 532.3,211.9 540.2,211.6 548.1,211.2 556,210.8 563.9,210.4 571.8,209.8 573.3,209.7 574.9,209.7 576.5,209.6 578.1,209.5 579.7,209.4 581.2,209.3 582.8,209.1 584.4,208.9 586,208.7 587.5,208.3 589.1,207.9 590.7,207.4 592.3,206.7 593.9,205.8 595.4,204.6 597,203.2 598.6,201.3 600.2,199.1 601.8,196.3 603.3,193.1 604.9,189.3 606.5,184.9 608.1,180.1 609.6,174.7 611.2,169 612.8,163.1 614.4,157.1 616,151.1 617.5,145.5 619.1,140.5 620.7,136.2 622.3,132.9 623.9,130.8 625.4,130 627,130.5 628.6,132.3 630.2,135.4 631.7,139.5 633.3,144.5 634.9,150 636.5,155.9 638.1,161.8 639.6,167.5 641.2,173 642.8,178 644.4,182.5 646,186.4 647.5,189.6 649.1,192.4 650.7,194.5 652.3,196.2 653.8,197.5 655.4,198.5 657,199.2 658.6,199.7 660.2,200 661.7,200.2 663.3,200.3 664.9,200.3 666.5,200.4 668.1,200.3 669.6,200.3 671.2,200.3 672.8,200.2 674.4,200.2 676,200.1 677.5,200.1 679.1,200 680.7,199.9 682.3,199.8 683.8,199.7 685.4,199.5 687,199.3 688.6,199.1 690.2,198.8 691.7,198.5 693.3,198.2 694.9,197.8 696.5,197.4 698.1,197 699.6,196.6 701.2,196.2 702.8,195.8 704.4,195.4 705.9,194.9 707.5,194.5 709.1,194 710.7,193.6 712.3,193.2 713.8,192.7 715.4,192.3 717,191.9 718.6,191.5 720.2,191.1 721.7,190.7 723.3,190.4 724.9,190 726.5,189.7 728,189.5 729.6,189.2"/>
<polyline class="c" stroke="#8E8E00" points="492.8,212.5 500.7,212.5 508.6,212.4 516.5,212.3 524.4,212.1 532.3,211.9 540.2,211.6 548.1,211.3 556,210.9 563.9,210.4 571.8,209.8 573.3,209.8 574.9,209.7 576.5,209.6 578.1,209.5 579.7,209.4 581.2,209.3 582.8,209.2 584.4,209 586,208.7 587.5,208.4 589.1,208.1 590.7,207.6 592.3,206.9 593.9,206 595.4,205 597,203.6 598.6,201.8 600.2,199.7 601.8,197.2 603.3,194.1 604.9,190.5 606.5,186.5 608.1,181.9 609.6,176.9 611.2,171.6 612.8,166 614.4,160.4 616,154.8 617.5,149.6 619.1,144.8 620.7,140.8 622.3,137.8 623.9,135.8 625.4,134.9 627,135.4 628.6,137.1 630.2,140 631.7,143.9 633.3,148.5 634.9,153.7 636.5,159.1 638.1,164.7 639.6,170.1 641.2,175.2 642.8,179.8 644.4,184 646,187.6 647.5,190.7 649.1,193.2 650.7,195.3 652.3,196.9 653.8,198.1 655.4,199 657,199.6 658.6,200.1 660.2,200.3 661.7,200.5 663.3,200.6 664.9,200.7 666.5,200.7 668.1,200.6 669.6,200.6 671.2,200.5 672.8,200.5 674.4,200.4 676,200.4 677.5,200.4 679.1,200.3 680.7,200.2 682.3,200.1 683.8,200 685.4,199.8 687,199.6 688.6,199.4 690.2,199.1 691.7,198.8 693.3,198.5 694.9,198.2 696.5,197.8 698.1,197.5 699.6,197.1 701.2,196.7 702.8,196.3 704.4,195.8 705.9,195.4 707.5,195 709.1,194.6 710.7,194.1 712.3,193.7 713.8,193.3 715.4,192.9 717,192.5 718.6,192.1 720.2,191.7 721.7,191.4 723.3,191 724.9,190.7 726.5,190.4 728,190.2 729.6,189.9"/>
<polyline class="c" stroke="#FB6501" points="492.8,212.5 500.7,212.4 508.6,212.4 516.5,212.2 524.4,212 532.3,211.8 540.2,211.5 548.1,211.1 556,210.7 563.9,210.1 571.8,209.5 573.3,209.4 574.9,209.3 576.5,209.2 578.1,209.1 579.7,208.9 581.2,208.7 582.8,208.5 584.4,208.2 586,207.9 587.5,207.4 589.1,206.7 590.7,205.9 592.3,204.8 593.9,203.4 595.4,201.6 597,199.3 598.6,196.4 600.2,192.9 601.8,188.5 603.3,183.4 604.9,177.4 606.5,170.6 608.1,162.9 609.6,154.5 611.2,145.5 612.8,136.2 614.4,126.6 616,117.3 617.5,108.5 619.1,100.5 620.7,93.7 622.3,88.5 623.9,85.1 625.4,83.7 627,84.5 628.6,87.3 630.2,92.1 631.7,98.6 633.3,106.3 634.9,114.9 636.5,124 638.1,133.2 639.6,142.2 641.2,150.7 642.8,158.5 644.4,165.4 646,171.4 647.5,176.5 649.1,180.7 650.7,184 652.3,186.7 653.8,188.6 655.4,190.1 657,191.1 658.6,191.8 660.2,192.3 661.7,192.5 663.3,192.7 664.9,192.7 666.5,192.7 668.1,192.7 669.6,192.6 671.2,192.5 672.8,192.5 674.4,192.4 676,192.3 677.5,192.3 679.1,192.2 680.7,192.1 682.3,191.9 683.8,191.7 685.4,191.5 687,191.2 688.6,190.8 690.2,190.4 691.7,190 693.3,189.5 694.9,189 696.5,188.4 698.1,187.9 699.6,187.3 701.2,186.7 702.8,186 704.4,185.4 705.9,184.7 707.5,184.1 709.1,183.4 710.7,182.8 712.3,182.1 713.8,181.5 715.4,180.9 717,180.2 718.6,179.7 720.2,179.1 721.7,178.5 723.3,178 724.9,177.6 726.5,177.1 728,176.7 729.6,176.4"/>
<polyline class="c" stroke="#6699CC" points="492.8,212.4 500.7,212.4 508.6,212.3 516.5,212.1 524.4,211.9 532.3,211.6 540.2,211.3 548.1,210.9 556,210.5 563.9,209.9 571.8,209.2 573.3,209.1 574.9,208.9 576.5,208.8 578.1,208.7 579.7,208.5 581.2,208.3 582.8,208 584.4,207.7 586,207.3 587.5,206.8 589.1,206.1 590.7,205.2 592.3,204 593.9,202.4 595.4,200.4 597,197.8 598.6,194.4 600.2,190.2 601.8,185 603.3,178.7 604.9,171.3 606.5,162.5 608.1,152.6 609.6,141.4 611.2,129.1 612.8,116 614.4,102.3 616,88.4 617.5,74.7 619.1,61.8 620.7,50.1 622.3,40.2 623.9,32.5 625.4,27.5 627,25.4 628.6,26.4 630.2,30.4 631.7,37.3 633.3,46.6 634.9,57.8 636.5,70.2 638.1,83.4 639.6,96.7 641.2,109.7 642.8,122 644.4,133.3 646,143.4 647.5,152.1 649.1,159.5 650.7,165.6 652.3,170.5 653.8,174.3 655.4,177.2 657,179.3 658.6,180.9 660.2,181.9 661.7,182.6 663.3,183.1 664.9,183.3 666.5,183.4 668.1,183.4 669.6,183.4 671.2,183.3 672.8,183.2 674.4,183.1 676,183.1 677.5,183 679.1,182.9 680.7,182.8 682.3,182.6 683.8,182.3 685.4,181.9 687,181.5 688.6,181 690.2,180.4 691.7,179.7 693.3,179 694.9,178.3 696.5,177.5 698.1,176.7 699.6,175.8 701.2,174.9 702.8,174 704.4,173.1 705.9,172.1 707.5,171.2 709.1,170.2 710.7,169.3 712.3,168.3 713.8,167.4 715.4,166.5 717,165.6 718.6,164.7 720.2,163.9 721.7,163.1 723.3,162.4 724.9,161.7 726.5,161 728,160.5 729.6,160"/>
<polyline class="c" stroke="#6FB802" points="492.8,212.5 500.7,212.4 508.6,212.3 516.5,212.2 524.4,212 532.3,211.7 540.2,211.4 548.1,211 556,210.6 563.9,210.1 571.8,209.4 573.3,209.3 574.9,209.2 576.5,209.1 578.1,208.9 579.7,208.8 581.2,208.6 582.8,208.3 584.4,208 586,207.6 587.5,207.1 589.1,206.4 590.7,205.5 592.3,204.3 593.9,202.7 595.4,200.7 597,198.1 598.6,194.9 600.2,190.9 601.8,186.2 603.3,180.5 604.9,173.8 606.5,166.2 608.1,157.6 609.6,148.3 611.2,138.3 612.8,127.9 614.4,117.3 616,106.9 617.5,97 619.1,88.2 620.7,80.6 622.3,74.8 623.9,71.1 625.4,69.5 627,70.3 628.6,73.5 630.2,78.8 631.7,86 633.3,94.6 634.9,104.2 636.5,114.3 638.1,124.5 639.6,134.5 641.2,144 642.8,152.6 644.4,160.3 646,167 647.5,172.6 649.1,177.3 650.7,181 652.3,183.9 653.8,186.1 655.4,187.7 657,188.9 658.6,189.6 660.2,190.1 661.7,190.4 663.3,190.6 664.9,190.6 666.5,190.6 668.1,190.6 669.6,190.5 671.2,190.4 672.8,190.4 674.4,190.3 676,190.2 677.5,190.1 679.1,190.1 680.7,190 682.3,189.8 683.8,189.6 685.4,189.3 687,188.9 688.6,188.6 690.2,188.1 691.7,187.6 693.3,187.1 694.9,186.6 696.5,186 698.1,185.3 699.6,184.7 701.2,184 702.8,183.3 704.4,182.6 705.9,181.9 707.5,181.2 709.1,180.5 710.7,179.8 712.3,179.1 713.8,178.4 715.4,177.7 717,177 718.6,176.4 720.2,175.8 721.7,175.2 723.3,174.6 724.9,174.1 726.5,173.6 728,173.2 729.6,172.8"/>
<rect class="lg" x="655.40" y="4.30" width="103.00" height="150.70"/>
<path class="ls" stroke="#515151" d="M656.30 10.20H674.30"/>
<text class="lt" style="font-size:8.88px" x="678.40" y="13.10" textLength="56.3" lengthAdjust="spacingAndGlyphs"><tspan y="13.10">AT</tspan><tspan y="13.10">+K</tspan><tspan class="sp" y="10.20">+</tspan><tspan y="13.10">+NH</tspan><tspan class="sb" y="14.70">4</tspan><tspan class="sp" y="10.20">+</tspan><tspan y="13.10">+Na</tspan><tspan class="sp" y="10.20">+</tspan></text>
<path class="ls" stroke="#F14040" d="M656.30 22.76H674.30"/>
<text class="lt" style="font-size:8.88px" x="678.40" y="25.66" textLength="56.3" lengthAdjust="spacingAndGlyphs"><tspan y="25.66">BT</tspan><tspan y="25.66">+K</tspan><tspan class="sp" y="22.76">+</tspan><tspan y="25.66">+NH</tspan><tspan class="sb" y="27.26">4</tspan><tspan class="sp" y="22.76">+</tspan><tspan y="25.66">+Na</tspan><tspan class="sp" y="22.76">+</tspan></text>
<path class="ls" stroke="#1A6FDF" d="M656.30 35.32H674.30"/>
<text class="lt" style="font-size:8.88px" x="678.40" y="38.22" textLength="56.3" lengthAdjust="spacingAndGlyphs"><tspan y="38.22">OT</tspan><tspan y="38.22">+K</tspan><tspan class="sp" y="35.32">+</tspan><tspan y="38.22">+NH</tspan><tspan class="sb" y="39.82">4</tspan><tspan class="sp" y="35.32">+</tspan><tspan y="38.22">+Na</tspan><tspan class="sp" y="35.32">+</tspan></text>
<path class="ls" stroke="#37AD6B" d="M656.30 47.88H674.30"/>
<text class="lt" style="font-size:8.88px" x="678.40" y="50.78" textLength="56.3" lengthAdjust="spacingAndGlyphs"><tspan y="50.78">TT</tspan><tspan y="50.78">+K</tspan><tspan class="sp" y="47.88">+</tspan><tspan y="50.78">+NH</tspan><tspan class="sb" y="52.38">4</tspan><tspan class="sp" y="47.88">+</tspan><tspan y="50.78">+Na</tspan><tspan class="sp" y="47.88">+</tspan></text>
<path class="ls" stroke="#B177DE" d="M656.30 60.44H674.30"/>
<text class="lt" style="font-size:8.88px" x="678.40" y="63.34" textLength="56.3" lengthAdjust="spacingAndGlyphs"><tspan y="63.34">HT</tspan><tspan y="63.34">+K</tspan><tspan class="sp" y="60.44">+</tspan><tspan y="63.34">+NH</tspan><tspan class="sb" y="64.94">4</tspan><tspan class="sp" y="60.44">+</tspan><tspan y="63.34">+Na</tspan><tspan class="sp" y="60.44">+</tspan></text>
<path class="ls" stroke="#CC9900" d="M656.30 73.00H674.30"/>
<text class="lt" style="font-size:8.88px" x="678.40" y="75.90" textLength="74.3" lengthAdjust="spacingAndGlyphs"><tspan y="75.90">HT&#8722;V15</tspan><tspan y="75.90">+K</tspan><tspan class="sp" y="73.00">+</tspan><tspan y="75.90">+NH</tspan><tspan class="sb" y="77.50">4</tspan><tspan class="sp" y="73.00">+</tspan><tspan y="75.90">+Na</tspan><tspan class="sp" y="73.00">+</tspan></text>
<path class="ls" stroke="#00CBCC" d="M656.30 85.56H674.30"/>
<text class="lt" style="font-size:8.88px" x="678.40" y="88.46" textLength="74.3" lengthAdjust="spacingAndGlyphs"><tspan y="88.46">HT&#8722;V18</tspan><tspan y="88.46">+K</tspan><tspan class="sp" y="85.56">+</tspan><tspan y="88.46">+NH</tspan><tspan class="sb" y="90.06">4</tspan><tspan class="sp" y="85.56">+</tspan><tspan y="88.46">+Na</tspan><tspan class="sp" y="85.56">+</tspan></text>
<path class="ls" stroke="#7D4E4E" d="M656.30 98.12H674.30"/>
<text class="lt" style="font-size:8.88px" x="678.40" y="101.02" textLength="65.3" lengthAdjust="spacingAndGlyphs"><tspan y="101.02">PW17</tspan><tspan y="101.02">+K</tspan><tspan class="sp" y="98.12">+</tspan><tspan y="101.02">+NH</tspan><tspan class="sb" y="102.62">4</tspan><tspan class="sp" y="98.12">+</tspan><tspan y="101.02">+Na</tspan><tspan class="sp" y="98.12">+</tspan></text>
<path class="ls" stroke="#8E8E00" d="M656.30 110.68H674.30"/>
<text class="lt" style="font-size:8.88px" x="678.40" y="113.58" textLength="74.3" lengthAdjust="spacingAndGlyphs"><tspan y="113.58">PS2. M</tspan><tspan y="113.58">+K</tspan><tspan class="sp" y="110.68">+</tspan><tspan y="113.58">+NH</tspan><tspan class="sb" y="115.18">4</tspan><tspan class="sp" y="110.68">+</tspan><tspan y="113.58">+Na</tspan><tspan class="sp" y="110.68">+</tspan></text>
<path class="ls" stroke="#FB6501" d="M656.30 123.24H674.30"/>
<text class="lt" style="font-size:8.88px" x="678.40" y="126.14" textLength="74.3" lengthAdjust="spacingAndGlyphs"><tspan y="126.14">PS5. M</tspan><tspan y="126.14">+K</tspan><tspan class="sp" y="123.24">+</tspan><tspan y="126.14">+NH</tspan><tspan class="sb" y="127.74">4</tspan><tspan class="sp" y="123.24">+</tspan><tspan y="126.14">+Na</tspan><tspan class="sp" y="123.24">+</tspan></text>
<path class="ls" stroke="#6699CC" d="M656.30 135.80H674.30"/>
<text class="lt" style="font-size:8.88px" x="678.40" y="138.70" textLength="74.3" lengthAdjust="spacingAndGlyphs"><tspan y="138.70">T30695</tspan><tspan y="138.70">+K</tspan><tspan class="sp" y="135.80">+</tspan><tspan y="138.70">+NH</tspan><tspan class="sb" y="140.30">4</tspan><tspan class="sp" y="135.80">+</tspan><tspan y="138.70">+Na</tspan><tspan class="sp" y="135.80">+</tspan></text>
<path class="ls" stroke="#6FB802" d="M656.30 148.36H674.30"/>
<text class="lt" style="font-size:8.88px" x="678.40" y="151.26" textLength="78.8" lengthAdjust="spacingAndGlyphs"><tspan y="151.26">AGRO100</tspan><tspan y="151.26">+K</tspan><tspan class="sp" y="148.36">+</tspan><tspan y="151.26">+NH</tspan><tspan class="sb" y="152.86">4</tspan><tspan class="sp" y="148.36">+</tspan><tspan y="151.26">+Na</tspan><tspan class="sp" y="148.36">+</tspan></text>
<rect class="fr" x="461.25" y="1.20" width="299.95" height="227.65"/>
<path class="tk" d="M477.04 228.85v-4.3 M492.82 228.85v-2.5 M508.61 228.85v-4.3 M524.40 228.85v-2.5 M540.18 228.85v-4.3 M555.97 228.85v-2.5 M571.76 228.85v-4.3 M587.54 228.85v-2.5 M603.33 228.85v-4.3 M619.12 228.85v-2.5 M634.91 228.85v-4.3 M650.69 228.85v-2.5 M666.48 228.85v-4.3 M682.27 228.85v-2.5 M698.05 228.85v-4.3 M713.84 228.85v-2.5 M729.63 228.85v-4.3 M745.41 228.85v-2.5 M461.25 214.62h4.3 M461.25 200.39h2.5 M461.25 186.17h4.3 M461.25 171.94h2.5 M461.25 157.71h4.3 M461.25 143.48h2.5 M461.25 129.25h4.3 M461.25 115.02h2.5 M461.25 100.80h4.3 M461.25 86.57h2.5 M461.25 72.34h4.3 M461.25 58.11h2.5 M461.25 43.88h4.3 M461.25 29.66h2.5 M461.25 15.43h4.3"/>
<text class="tl" style="font-size:10.0px" x="477.04" y="241.65" text-anchor="middle" textLength="15.6" lengthAdjust="spacingAndGlyphs">540</text>
<text class="tl" style="font-size:10.0px" x="508.61" y="241.65" text-anchor="middle" textLength="15.6" lengthAdjust="spacingAndGlyphs">560</text>
<text class="tl" style="font-size:10.0px" x="540.18" y="241.65" text-anchor="middle" textLength="15.6" lengthAdjust="spacingAndGlyphs">580</text>
<text class="tl" style="font-size:10.0px" x="571.76" y="241.65" text-anchor="middle" textLength="15.6" lengthAdjust="spacingAndGlyphs">600</text>
<text class="tl" style="font-size:10.0px" x="603.33" y="241.65" text-anchor="middle" textLength="15.6" lengthAdjust="spacingAndGlyphs">620</text>
<text class="tl" style="font-size:10.0px" x="634.91" y="241.65" text-anchor="middle" textLength="15.6" lengthAdjust="spacingAndGlyphs">640</text>
<text class="tl" style="font-size:10.0px" x="666.48" y="241.65" text-anchor="middle" textLength="15.6" lengthAdjust="spacingAndGlyphs">660</text>
<text class="tl" style="font-size:10.0px" x="698.05" y="241.65" text-anchor="middle" textLength="15.6" lengthAdjust="spacingAndGlyphs">680</text>
<text class="tl" style="font-size:10.0px" x="729.63" y="241.65" text-anchor="middle" textLength="15.6" lengthAdjust="spacingAndGlyphs">700</text>
<text class="tl" style="font-size:10.0px" x="761.20" y="241.65" text-anchor="middle" textLength="15.6" lengthAdjust="spacingAndGlyphs">720</text>
<text class="tl" style="font-size:10.0px" x="456.05" y="218.42" text-anchor="end" textLength="5.2" lengthAdjust="spacingAndGlyphs">0</text>
<text class="tl" style="font-size:10.0px" x="456.05" y="189.97" text-anchor="end" textLength="15.6" lengthAdjust="spacingAndGlyphs">200</text>
<text class="tl" style="font-size:10.0px" x="456.05" y="161.51" text-anchor="end" textLength="15.6" lengthAdjust="spacingAndGlyphs">400</text>
<text class="tl" style="font-size:10.0px" x="456.05" y="133.05" text-anchor="end" textLength="15.6" lengthAdjust="spacingAndGlyphs">600</text>
<text class="tl" style="font-size:10.0px" x="456.05" y="104.60" text-anchor="end" textLength="15.6" lengthAdjust="spacingAndGlyphs">800</text>
<text class="tl" style="font-size:10.0px" x="456.05" y="76.14" text-anchor="end" textLength="20.8" lengthAdjust="spacingAndGlyphs">1000</text>
<text class="tl" style="font-size:10.0px" x="456.05" y="47.68" text-anchor="end" textLength="20.8" lengthAdjust="spacingAndGlyphs">1200</text>
<text class="tl" style="font-size:10.0px" x="456.05" y="19.23" text-anchor="end" textLength="20.8" lengthAdjust="spacingAndGlyphs">1400</text>
<text class="yt" transform="translate(421.50 162.70) rotate(-90)" textLength="104.5" lengthAdjust="spacingAndGlyphs">Fluorescence(a. u. )</text>
<text class="xt" x="567.70" y="257.20" textLength="85.7" lengthAdjust="spacingAndGlyphs">Wavelength(nm)</text>
<text class="lab" x="410.60" y="260.10" textLength="21.2" lengthAdjust="spacingAndGlyphs">(B)</text>
<polyline class="c" stroke="#515151" points="93.4,504.4 101.4,504.4 109.5,504.3 117.5,504.2 125.6,504.1 133.7,503.9 141.7,503.6 149.8,503.3 157.9,503 165.9,502.6 174,502.1 175.6,502 177.2,501.9 178.8,501.9 180.4,501.8 182,501.7 183.7,501.6 185.3,501.5 186.9,501.3 188.5,501.1 190.1,500.8 191.7,500.5 193.3,500 194.9,499.4 196.6,498.6 198.2,497.6 199.8,496.3 201.4,494.8 203,492.8 204.6,490.5 206.2,487.6 207.8,484.4 209.5,480.6 211.1,476.5 212.7,471.9 214.3,467 215.9,461.8 217.5,456.7 219.1,451.6 220.8,446.8 222.4,442.4 224,438.7 225.6,435.9 227.2,434.1 228.8,433.3 230.4,433.8 232,435.4 233.7,438 235.3,441.6 236.9,445.8 238.5,450.6 240.1,455.6 241.7,460.7 243.3,465.7 244.9,470.4 246.6,474.7 248.2,478.5 249.8,481.8 251.4,484.7 253,487 254.6,488.9 256.2,490.3 257.8,491.5 259.5,492.3 261.1,492.9 262.7,493.3 264.3,493.6 265.9,493.7 267.5,493.8 269.1,493.9 270.7,493.9 272.4,493.8 274,493.8 275.6,493.8 277.2,493.7 278.8,493.7 280.4,493.6 282,493.6 283.6,493.6 285.3,493.5 286.9,493.4 288.5,493.3 290.1,493.1 291.7,493 293.3,492.8 294.9,492.5 296.5,492.3 298.2,492 299.8,491.8 301.4,491.5 303,491.1 304.6,490.8 306.2,490.5 307.8,490.1 309.4,489.8 311.1,489.4 312.7,489.1 314.3,488.7 315.9,488.3 317.5,488 319.1,487.6 320.7,487.3 322.3,487 324,486.6 325.6,486.3 327.2,486 328.8,485.7 330.4,485.5 332,485.2 333.6,485 335.2,484.8"/>
<polyline class="c" stroke="#F14040" points="93.4,504.5 101.4,504.4 109.5,504.4 117.5,504.3 125.6,504.1 133.7,503.9 141.7,503.7 149.8,503.4 157.9,503 165.9,502.6 174,502 175.6,501.9 177.2,501.8 178.8,501.6 180.4,501.4 182,501.2 183.7,501 185.3,500.7 186.9,500.4 188.5,500 190.1,499.6 191.7,499.1 193.3,498.6 194.9,498.1 196.6,497.5 198.2,496.9 199.8,496.3 201.4,495.7 203,495.1 204.6,494.5 206.2,494 207.8,493.6 209.5,493.3 211.1,493.2 212.7,493.2 214.3,493.3 215.9,493.5 217.5,493.8 219.1,494.3 220.8,494.8 222.4,495.3 224,495.9 225.6,496.4 227.2,497 228.8,497.5 230.4,498 232,498.5 233.7,498.9 235.3,499.3 236.9,499.6 238.5,499.9 240.1,500.2 241.7,500.4 243.3,500.6 244.9,500.7 246.6,500.8 248.2,501 249.8,501.1 251.4,501.2 253,501.2 254.6,501.3 256.2,501.4 257.8,501.4 259.5,501.5 261.1,501.5 262.7,501.5 264.3,501.6 265.9,501.6 267.5,501.6 269.1,501.6 270.7,501.6 272.4,501.7 274,501.7 275.6,501.7 277.2,501.7 278.8,501.6 280.4,501.6 282,501.6 283.6,501.6 285.3,501.6 286.9,501.6 288.5,501.6 290.1,501.5 291.7,501.5 293.3,501.5 294.9,501.5 296.5,501.4 298.2,501.4 299.8,501.4 301.4,501.4 303,501.4 304.6,501.4 306.2,501.4 307.8,501.4 309.4,501.4 311.1,501.4 312.7,501.4 314.3,501.4 315.9,501.4 317.5,501.4 319.1,501.4 320.7,501.4 322.3,501.4 324,501.4 325.6,501.4 327.2,501.4 328.8,501.3 330.4,501.3 332,501.3 333.6,501.3 335.2,501.3"/>
<polyline class="c" stroke="#1A6FDF" points="93.4,504.5 101.4,504.5 109.5,504.4 117.5,504.3 125.6,504.1 133.7,503.9 141.7,503.7 149.8,503.4 157.9,503.1 165.9,502.7 174,502.2 175.6,502.1 177.2,502 178.8,501.9 180.4,501.8 182,501.7 183.7,501.5 185.3,501.3 186.9,501.1 188.5,500.9 190.1,500.6 191.7,500.3 193.3,500 194.9,499.6 196.6,499.2 198.2,498.8 199.8,498.3 201.4,497.9 203,497.5 204.6,497 206.2,496.6 207.8,496.3 209.5,496 211.1,495.8 212.7,495.6 214.3,495.6 215.9,495.7 217.5,495.9 219.1,496.1 220.8,496.4 222.4,496.7 224,497.1 225.6,497.5 227.2,497.9 228.8,498.3 230.4,498.7 232,499.1 233.7,499.4 235.3,499.8 236.9,500 238.5,500.3 240.1,500.5 241.7,500.8 243.3,500.9 244.9,501.1 246.6,501.3 248.2,501.4 249.8,501.5 251.4,501.7 253,501.8 254.6,501.9 256.2,502 257.8,502.1 259.5,502.1 261.1,502.2 262.7,502.3 264.3,502.3 265.9,502.4 267.5,502.5 269.1,502.5 270.7,502.5 272.4,502.5 274,502.6 275.6,502.6 277.2,502.6 278.8,502.6 280.4,502.6 282,502.6 283.6,502.6 285.3,502.6 286.9,502.6 288.5,502.5 290.1,502.5 291.7,502.5 293.3,502.5 294.9,502.5 296.5,502.4 298.2,502.4 299.8,502.4 301.4,502.4 303,502.4 304.6,502.4 306.2,502.4 307.8,502.4 309.4,502.4 311.1,502.4 312.7,502.4 314.3,502.4 315.9,502.4 317.5,502.4 319.1,502.4 320.7,502.4 322.3,502.4 324,502.4 325.6,502.4 327.2,502.4 328.8,502.3 330.4,502.3 332,502.3 333.6,502.3 335.2,502.3"/>
<polyline class="c" stroke="#37AD6B" points="93.4,504.5 101.4,504.4 109.5,504.4 117.5,504.3 125.6,504.1 133.7,503.9 141.7,503.7 149.8,503.4 157.9,503.1 165.9,502.7 174,502.2 175.6,502.2 177.2,502.1 178.8,502.1 180.4,502 182,501.9 183.7,501.8 185.3,501.7 186.9,501.6 188.5,501.4 190.1,501.2 191.7,501 193.3,500.7 194.9,500.5 196.6,500.1 198.2,499.7 199.8,499.3 201.4,498.8 203,498.3 204.6,497.7 206.2,497.1 207.8,496.5 209.5,495.9 211.1,495.2 212.7,494.6 214.3,494.1 215.9,493.6 217.5,493.1 219.1,492.8 220.8,492.7 222.4,492.7 224,492.8 225.6,493 227.2,493.4 228.8,493.8 230.4,494.4 232,494.9 233.7,495.5 235.3,496.1 236.9,496.7 238.5,497.3 240.1,497.8 241.7,498.3 243.3,498.8 244.9,499.2 246.6,499.6 248.2,499.9 249.8,500.2 251.4,500.4 253,500.6 254.6,500.8 256.2,501 257.8,501.1 259.5,501.2 261.1,501.3 262.7,501.4 264.3,501.4 265.9,501.5 267.5,501.5 269.1,501.5 270.7,501.6 272.4,501.6 274,501.6 275.6,501.6 277.2,501.6 278.8,501.6 280.4,501.6 282,501.6 283.6,501.6 285.3,501.5 286.9,501.5 288.5,501.5 290.1,501.5 291.7,501.5 293.3,501.5 294.9,501.4 296.5,501.4 298.2,501.4 299.8,501.4 301.4,501.4 303,501.4 304.6,501.4 306.2,501.4 307.8,501.4 309.4,501.4 311.1,501.4 312.7,501.4 314.3,501.4 315.9,501.4 317.5,501.4 319.1,501.4 320.7,501.4 322.3,501.4 324,501.4 325.6,501.4 327.2,501.3 328.8,501.3 330.4,501.3 332,501.3 333.6,501.3 335.2,501.2"/>
<polyline class="c" stroke="#B177DE" points="93.4,504.5 101.4,504.5 109.5,504.4 117.5,504.3 125.6,504.1 133.7,503.9 141.7,503.7 149.8,503.4 157.9,503.1 165.9,502.7 174,502.2 175.6,502.1 177.2,502 178.8,501.9 180.4,501.8 182,501.7 183.7,501.5 185.3,501.3 186.9,501.1 188.5,500.9 190.1,500.6 191.7,500.2 193.3,499.9 194.9,499.5 196.6,499 198.2,498.6 199.8,498 201.4,497.5 203,497 204.6,496.4 206.2,495.9 207.8,495.5 209.5,495 211.1,494.7 212.7,494.4 214.3,494.3 215.9,494.3 217.5,494.4 219.1,494.6 220.8,494.8 222.4,495.2 224,495.7 225.6,496.1 227.2,496.6 228.8,497.1 230.4,497.6 232,498.1 233.7,498.5 235.3,498.9 236.9,499.3 238.5,499.6 240.1,500 241.7,500.2 243.3,500.5 244.9,500.7 246.6,500.9 248.2,501 249.8,501.2 251.4,501.3 253,501.4 254.6,501.5 256.2,501.6 257.8,501.7 259.5,501.8 261.1,501.8 262.7,501.9 264.3,501.9 265.9,502 267.5,502 269.1,502 270.7,502.1 272.4,502.1 274,502.1 275.6,502.1 277.2,502.1 278.8,502.1 280.4,502.1 282,502.1 283.6,502.1 285.3,502.1 286.9,502.1 288.5,502 290.1,502 291.7,502 293.3,502 294.9,502 296.5,501.9 298.2,501.9 299.8,501.9 301.4,501.9 303,501.9 304.6,501.9 306.2,501.9 307.8,501.9 309.4,501.9 311.1,501.9 312.7,501.9 314.3,501.9 315.9,501.9 317.5,501.9 319.1,501.9 320.7,501.9 322.3,501.9 324,501.9 325.6,501.9 327.2,501.9 328.8,501.8 330.4,501.8 332,501.8 333.6,501.8 335.2,501.8"/>
<polyline class="c" stroke="#CC9900" points="93.4,504.4 101.4,504.4 109.5,504.3 117.5,504.2 125.6,504 133.7,503.8 141.7,503.6 149.8,503.3 157.9,502.9 165.9,502.5 174,502 175.6,501.9 177.2,501.9 178.8,501.8 180.4,501.7 182,501.6 183.7,501.5 185.3,501.3 186.9,501.1 188.5,500.9 190.1,500.6 191.7,500.2 193.3,499.6 194.9,498.9 196.6,498 198.2,496.9 199.8,495.4 201.4,493.6 203,491.3 204.6,488.6 206.2,485.3 207.8,481.5 209.5,477.2 211.1,472.3 212.7,467 214.3,461.3 215.9,455.3 217.5,449.3 219.1,443.4 220.8,437.8 222.4,432.8 224,428.5 225.6,425.2 227.2,423.1 228.8,422.2 230.4,422.7 232,424.6 233.7,427.7 235.3,431.8 236.9,436.8 238.5,442.3 240.1,448.1 241.7,454 243.3,459.8 244.9,465.3 246.6,470.3 248.2,474.7 249.8,478.6 251.4,481.9 253,484.6 254.6,486.8 256.2,488.5 257.8,489.8 259.5,490.8 261.1,491.5 262.7,491.9 264.3,492.3 265.9,492.5 267.5,492.6 269.1,492.6 270.7,492.6 272.4,492.6 274,492.6 275.6,492.5 277.2,492.5 278.8,492.4 280.4,492.4 282,492.4 283.6,492.3 285.3,492.3 286.9,492.2 288.5,492 290.1,491.9 291.7,491.7 293.3,491.4 294.9,491.2 296.5,490.9 298.2,490.6 299.8,490.3 301.4,489.9 303,489.6 304.6,489.2 306.2,488.8 307.8,488.4 309.4,488 311.1,487.6 312.7,487.2 314.3,486.8 315.9,486.4 317.5,486 319.1,485.6 320.7,485.2 322.3,484.8 324,484.4 325.6,484 327.2,483.7 328.8,483.4 330.4,483.1 332,482.8 333.6,482.6 335.2,482.3"/>
<polyline class="c" stroke="#00CBCC" points="93.4,504.5 101.4,504.4 109.5,504.4 117.5,504.3 125.6,504.1 133.7,503.9 141.7,503.7 149.8,503.4 157.9,503.1 165.9,502.7 174,502.3 175.6,502.2 177.2,502.1 178.8,502.1 180.4,502 182,501.9 183.7,501.8 185.3,501.7 186.9,501.6 188.5,501.4 190.1,501.2 191.7,501 193.3,500.8 194.9,500.5 196.6,500.2 198.2,499.8 199.8,499.4 201.4,498.9 203,498.4 204.6,497.8 206.2,497.3 207.8,496.7 209.5,496 211.1,495.4 212.7,494.8 214.3,494.3 215.9,493.8 217.5,493.4 219.1,493.1 220.8,492.9 222.4,492.9 224,493 225.6,493.3 227.2,493.6 228.8,494.1 230.4,494.6 232,495.1 233.7,495.7 235.3,496.3 236.9,496.9 238.5,497.4 240.1,497.9 241.7,498.4 243.3,498.9 244.9,499.3 246.6,499.6 248.2,499.9 249.8,500.2 251.4,500.5 253,500.7 254.6,500.8 256.2,501 257.8,501.1 259.5,501.2 261.1,501.3 262.7,501.4 264.3,501.4 265.9,501.5 267.5,501.5 269.1,501.5 270.7,501.6 272.4,501.6 274,501.6 275.6,501.6 277.2,501.6 278.8,501.6 280.4,501.6 282,501.6 283.6,501.6 285.3,501.6 286.9,501.5 288.5,501.5 290.1,501.5 291.7,501.5 293.3,501.5 294.9,501.4 296.5,501.4 298.2,501.4 299.8,501.4 301.4,501.4 303,501.4 304.6,501.4 306.2,501.4 307.8,501.4 309.4,501.4 311.1,501.4 312.7,501.4 314.3,501.4 315.9,501.4 317.5,501.4 319.1,501.4 320.7,501.4 322.3,501.4 324,501.4 325.6,501.4 327.2,501.3 328.8,501.3 330.4,501.3 332,501.3 333.6,501.3 335.2,501.3"/>
<polyline class="c" stroke="#7D4E4E" points="93.4,504.4 101.4,504.4 109.5,504.3 117.5,504.2 125.6,504.1 133.7,503.9 141.7,503.6 149.8,503.3 157.9,503 165.9,502.5 174,502.1 175.6,502 177.2,501.9 178.8,501.9 180.4,501.8 182,501.7 183.7,501.6 185.3,501.4 186.9,501.3 188.5,501 190.1,500.8 191.7,500.4 193.3,499.9 194.9,499.3 196.6,498.5 198.2,497.4 199.8,496.1 201.4,494.5 203,492.5 204.6,490 206.2,487.1 207.8,483.8 209.5,479.9 211.1,475.5 212.7,470.8 214.3,465.7 215.9,460.4 217.5,455 219.1,449.8 220.8,444.8 222.4,440.3 224,436.5 225.6,433.5 227.2,431.6 228.8,430.9 230.4,431.3 232,432.9 233.7,435.7 235.3,439.4 236.9,443.8 238.5,448.7 240.1,453.9 241.7,459.1 243.3,464.2 244.9,469.1 246.6,473.5 248.2,477.5 249.8,480.9 251.4,483.8 253,486.2 254.6,488.2 256.2,489.7 257.8,490.8 259.5,491.7 261.1,492.3 262.7,492.7 264.3,493 265.9,493.1 267.5,493.2 269.1,493.3 270.7,493.3 272.4,493.2 274,493.2 275.6,493.2 277.2,493.1 278.8,493.1 280.4,493 282,493 283.6,492.9 285.3,492.9 286.9,492.8 288.5,492.7 290.1,492.5 291.7,492.4 293.3,492.2 294.9,491.9 296.5,491.7 298.2,491.4 299.8,491.1 301.4,490.8 303,490.5 304.6,490.2 306.2,489.9 307.8,489.5 309.4,489.2 311.1,488.8 312.7,488.4 314.3,488.1 315.9,487.7 317.5,487.4 319.1,487 320.7,486.7 322.3,486.3 324,486 325.6,485.7 327.2,485.4 328.8,485.1 330.4,484.9 332,484.6 333.6,484.4 335.2,484.2"/>
<polyline class="c" stroke="#8E8E00" points="93.4,504.4 101.4,504.4 109.5,504.3 117.5,504.2 125.6,504.1 133.7,503.9 141.7,503.6 149.8,503.3 157.9,503 165.9,502.6 174,502.1 175.6,502 177.2,502 178.8,501.9 180.4,501.8 182,501.7 183.7,501.6 185.3,501.5 186.9,501.3 188.5,501.1 190.1,500.9 191.7,500.5 193.3,500.1 194.9,499.5 196.6,498.8 198.2,497.8 199.8,496.6 201.4,495.1 203,493.2 204.6,491 206.2,488.3 207.8,485.2 209.5,481.6 211.1,477.6 212.7,473.2 214.3,468.6 215.9,463.7 217.5,458.7 219.1,453.9 220.8,449.3 222.4,445.1 224,441.6 225.6,438.9 227.2,437.1 228.8,436.4 230.4,436.8 232,438.3 233.7,440.9 235.3,444.2 236.9,448.3 238.5,452.8 240.1,457.6 241.7,462.4 243.3,467.2 244.9,471.6 246.6,475.7 248.2,479.4 249.8,482.5 251.4,485.2 253,487.4 254.6,489.2 256.2,490.6 257.8,491.6 259.5,492.4 261.1,493 262.7,493.4 264.3,493.6 265.9,493.8 267.5,493.8 269.1,493.9 270.7,493.9 272.4,493.9 274,493.8 275.6,493.8 277.2,493.7 278.8,493.7 280.4,493.6 282,493.6 283.6,493.6 285.3,493.5 286.9,493.4 288.5,493.3 290.1,493.2 291.7,493 293.3,492.8 294.9,492.6 296.5,492.3 298.2,492 299.8,491.8 301.4,491.5 303,491.1 304.6,490.8 306.2,490.5 307.8,490.1 309.4,489.8 311.1,489.4 312.7,489.1 314.3,488.7 315.9,488.4 317.5,488 319.1,487.6 320.7,487.3 322.3,487 324,486.6 325.6,486.3 327.2,486 328.8,485.7 330.4,485.5 332,485.2 333.6,485 335.2,484.8"/>
<polyline class="c" stroke="#FB6501" points="93.4,504.4 101.4,504.4 109.5,504.3 117.5,504.2 125.6,504 133.7,503.8 141.7,503.5 149.8,503.2 157.9,502.8 165.9,502.4 174,501.9 175.6,501.8 177.2,501.7 178.8,501.6 180.4,501.5 182,501.4 183.7,501.3 185.3,501.1 186.9,500.9 188.5,500.6 190.1,500.2 191.7,499.7 193.3,499 194.9,498.2 196.6,497.1 198.2,495.7 199.8,493.9 201.4,491.6 203,488.8 204.6,485.5 206.2,481.5 207.8,476.8 209.5,471.5 211.1,465.5 212.7,458.9 214.3,451.9 215.9,444.6 217.5,437.2 219.1,429.9 220.8,423 222.4,416.8 224,411.5 225.6,407.4 227.2,404.8 228.8,403.7 230.4,404.3 232,406.5 233.7,410.3 235.3,415.3 236.9,421.4 238.5,428.1 240.1,435.2 241.7,442.4 243.3,449.5 244.9,456.1 246.6,462.2 248.2,467.6 249.8,472.3 251.4,476.3 253,479.6 254.6,482.2 256.2,484.2 257.8,485.8 259.5,486.9 261.1,487.8 262.7,488.3 264.3,488.7 265.9,488.9 267.5,489 269.1,489 270.7,489 272.4,489 274,489 275.6,488.9 277.2,488.8 278.8,488.8 280.4,488.7 282,488.7 283.6,488.6 285.3,488.5 286.9,488.4 288.5,488.3 290.1,488.1 291.7,487.8 293.3,487.5 294.9,487.2 296.5,486.9 298.2,486.5 299.8,486.1 301.4,485.6 303,485.2 304.6,484.7 306.2,484.2 307.8,483.8 309.4,483.2 311.1,482.7 312.7,482.2 314.3,481.7 315.9,481.2 317.5,480.7 319.1,480.2 320.7,479.7 322.3,479.2 324,478.7 325.6,478.3 327.2,477.8 328.8,477.4 330.4,477.1 332,476.7 333.6,476.4 335.2,476.1"/>
<polyline class="c" stroke="#6699CC" points="93.4,504.3 101.4,504.3 109.5,504.2 117.5,504 125.6,503.9 133.7,503.6 141.7,503.3 149.8,503 157.9,502.5 165.9,502 174,501.4 175.6,501.3 177.2,501.2 178.8,501.1 180.4,500.9 182,500.8 183.7,500.6 185.3,500.3 186.9,500 188.5,499.6 190.1,499.1 191.7,498.5 193.3,497.6 194.9,496.4 196.6,494.9 198.2,492.9 199.8,490.3 201.4,487.1 203,483 204.6,478 206.2,471.9 207.8,464.6 209.5,456.1 211.1,446.4 212.7,435.5 214.3,423.6 215.9,410.8 217.5,397.5 219.1,384 220.8,370.7 222.4,358.1 224,346.8 225.6,337.1 227.2,329.7 228.8,324.8 230.4,322.8 232,323.7 233.7,327.7 235.3,334.4 236.9,343.5 238.5,354.4 240.1,366.6 241.7,379.4 243.3,392.4 244.9,405.1 246.6,417.2 248.2,428.2 249.8,438 251.4,446.5 253,453.7 254.6,459.7 256.2,464.5 257.8,468.2 259.5,471.1 261.1,473.2 262.7,474.7 264.3,475.8 265.9,476.4 267.5,476.9 269.1,477.1 270.7,477.2 272.4,477.3 274,477.2 275.6,477.2 277.2,477.1 278.8,477 280.4,477 282,476.9 283.6,476.8 285.3,476.7 286.9,476.5 288.5,476.2 290.1,475.9 291.7,475.4 293.3,474.9 294.9,474.4 296.5,473.7 298.2,473.1 299.8,472.3 301.4,471.6 303,470.8 304.6,469.9 306.2,469.1 307.8,468.2 309.4,467.2 311.1,466.3 312.7,465.4 314.3,464.4 315.9,463.5 317.5,462.6 319.1,461.7 320.7,460.8 322.3,459.9 324,459.1 325.6,458.3 327.2,457.5 328.8,456.8 330.4,456.1 332,455.5 333.6,454.9 335.2,454.4"/>
<polyline class="c" stroke="#6FB802" points="93.4,504.4 101.4,504.4 109.5,504.3 117.5,504.2 125.6,504 133.7,503.8 141.7,503.5 149.8,503.2 157.9,502.8 165.9,502.3 174,501.8 175.6,501.7 177.2,501.6 178.8,501.5 180.4,501.4 182,501.3 183.7,501.1 185.3,500.9 186.9,500.7 188.5,500.4 190.1,500 191.7,499.4 193.3,498.7 194.9,497.7 196.6,496.5 198.2,494.9 199.8,492.9 201.4,490.4 203,487.3 204.6,483.6 206.2,479.1 207.8,474 209.5,468 211.1,461.4 212.7,454.1 214.3,446.2 215.9,438.1 217.5,429.8 219.1,421.7 220.8,414.1 222.4,407.1 224,401.3 225.6,396.7 227.2,393.8 228.8,392.6 230.4,393.2 232,395.7 233.7,399.9 235.3,405.5 236.9,412.2 238.5,419.7 240.1,427.6 241.7,435.6 243.3,443.4 244.9,450.8 246.6,457.5 248.2,463.5 249.8,468.7 251.4,473.2 253,476.8 254.6,479.7 256.2,482 257.8,483.7 259.5,484.9 261.1,485.8 262.7,486.4 264.3,486.8 265.9,487.1 267.5,487.2 269.1,487.2 270.7,487.2 272.4,487.2 274,487.1 275.6,487.1 277.2,487 278.8,486.9 280.4,486.9 282,486.8 283.6,486.8 285.3,486.7 286.9,486.6 288.5,486.4 290.1,486.2 291.7,485.9 293.3,485.6 294.9,485.3 296.5,484.9 298.2,484.5 299.8,484.1 301.4,483.6 303,483.2 304.6,482.7 306.2,482.2 307.8,481.7 309.4,481.1 311.1,480.6 312.7,480 314.3,479.5 315.9,479 317.5,478.4 319.1,477.9 320.7,477.4 322.3,476.9 324,476.4 325.6,475.9 327.2,475.5 328.8,475 330.4,474.6 332,474.3 333.6,473.9 335.2,473.7"/>
<rect class="lg" x="257.40" y="300.30" width="105.30" height="147.90"/>
<path class="ls" stroke="#515151" d="M258.10 306.80H277.00"/>
<text class="lt" style="font-size:8.98px" x="281.00" y="309.70" textLength="56.9" lengthAdjust="spacingAndGlyphs"><tspan y="309.70">AT</tspan><tspan y="309.70">+Na</tspan><tspan class="sp" y="306.80">+</tspan><tspan y="309.70">+K</tspan><tspan class="sp" y="306.80">+</tspan><tspan y="309.70">+NH</tspan><tspan class="sb" y="311.30">4</tspan><tspan class="sp" y="306.80">+</tspan></text>
<path class="ls" stroke="#F14040" d="M258.10 319.05H277.00"/>
<text class="lt" style="font-size:8.98px" x="281.00" y="321.95" textLength="56.9" lengthAdjust="spacingAndGlyphs"><tspan y="321.95">BT</tspan><tspan y="321.95">+Na</tspan><tspan class="sp" y="319.05">+</tspan><tspan y="321.95">+K</tspan><tspan class="sp" y="319.05">+</tspan><tspan y="321.95">+NH</tspan><tspan class="sb" y="323.55">4</tspan><tspan class="sp" y="319.05">+</tspan></text>
<path class="ls" stroke="#1A6FDF" d="M258.10 331.30H277.00"/>
<text class="lt" style="font-size:8.98px" x="281.00" y="334.20" textLength="56.9" lengthAdjust="spacingAndGlyphs"><tspan y="334.20">OT</tspan><tspan y="334.20">+Na</tspan><tspan class="sp" y="331.30">+</tspan><tspan y="334.20">+K</tspan><tspan class="sp" y="331.30">+</tspan><tspan y="334.20">+NH</tspan><tspan class="sb" y="335.80">4</tspan><tspan class="sp" y="331.30">+</tspan></text>
<path class="ls" stroke="#37AD6B" d="M258.10 343.55H277.00"/>
<text class="lt" style="font-size:8.98px" x="281.00" y="346.45" textLength="56.9" lengthAdjust="spacingAndGlyphs"><tspan y="346.45">TT</tspan><tspan y="346.45">+Na</tspan><tspan class="sp" y="343.55">+</tspan><tspan y="346.45">+K</tspan><tspan class="sp" y="343.55">+</tspan><tspan y="346.45">+NH</tspan><tspan class="sb" y="348.05">4</tspan><tspan class="sp" y="343.55">+</tspan></text>
<path class="ls" stroke="#B177DE" d="M258.10 355.80H277.00"/>
<text class="lt" style="font-size:8.98px" x="281.00" y="358.70" textLength="56.9" lengthAdjust="spacingAndGlyphs"><tspan y="358.70">HT</tspan><tspan y="358.70">+Na</tspan><tspan class="sp" y="355.80">+</tspan><tspan y="358.70">+K</tspan><tspan class="sp" y="355.80">+</tspan><tspan y="358.70">+NH</tspan><tspan class="sb" y="360.30">4</tspan><tspan class="sp" y="355.80">+</tspan></text>
<path class="ls" stroke="#CC9900" d="M258.10 368.05H277.00"/>
<text class="lt" style="font-size:8.98px" x="281.00" y="370.95" textLength="75.1" lengthAdjust="spacingAndGlyphs"><tspan y="370.95">HT&#8722;V15</tspan><tspan y="370.95">+Na</tspan><tspan class="sp" y="368.05">+</tspan><tspan y="370.95">+K</tspan><tspan class="sp" y="368.05">+</tspan><tspan y="370.95">+NH</tspan><tspan class="sb" y="372.55">4</tspan><tspan class="sp" y="368.05">+</tspan></text>
<path class="ls" stroke="#00CBCC" d="M258.10 380.30H277.00"/>
<text class="lt" style="font-size:8.98px" x="281.00" y="383.20" textLength="75.1" lengthAdjust="spacingAndGlyphs"><tspan y="383.20">HT&#8722;V18</tspan><tspan y="383.20">+Na</tspan><tspan class="sp" y="380.30">+</tspan><tspan y="383.20">+K</tspan><tspan class="sp" y="380.30">+</tspan><tspan y="383.20">+NH</tspan><tspan class="sb" y="384.80">4</tspan><tspan class="sp" y="380.30">+</tspan></text>
<path class="ls" stroke="#7D4E4E" d="M258.10 392.55H277.00"/>
<text class="lt" style="font-size:8.98px" x="281.00" y="395.45" textLength="66.0" lengthAdjust="spacingAndGlyphs"><tspan y="395.45">PW17</tspan><tspan y="395.45">+Na</tspan><tspan class="sp" y="392.55">+</tspan><tspan y="395.45">+K</tspan><tspan class="sp" y="392.55">+</tspan><tspan y="395.45">+NH</tspan><tspan class="sb" y="397.05">4</tspan><tspan class="sp" y="392.55">+</tspan></text>
<path class="ls" stroke="#8E8E00" d="M258.10 404.80H277.00"/>
<text class="lt" style="font-size:8.98px" x="281.00" y="407.70" textLength="75.1" lengthAdjust="spacingAndGlyphs"><tspan y="407.70">PS2. M</tspan><tspan y="407.70">+Na</tspan><tspan class="sp" y="404.80">+</tspan><tspan y="407.70">+K</tspan><tspan class="sp" y="404.80">+</tspan><tspan y="407.70">+NH</tspan><tspan class="sb" y="409.30">4</tspan><tspan class="sp" y="404.80">+</tspan></text>
<path class="ls" stroke="#FB6501" d="M258.10 417.05H277.00"/>
<text class="lt" style="font-size:8.98px" x="281.00" y="419.95" textLength="75.1" lengthAdjust="spacingAndGlyphs"><tspan y="419.95">PS5. M</tspan><tspan y="419.95">+Na</tspan><tspan class="sp" y="417.05">+</tspan><tspan y="419.95">+K</tspan><tspan class="sp" y="417.05">+</tspan><tspan y="419.95">+NH</tspan><tspan class="sb" y="421.55">4</tspan><tspan class="sp" y="417.05">+</tspan></text>
<path class="ls" stroke="#6699CC" d="M258.10 429.30H277.00"/>
<text class="lt" style="font-size:8.98px" x="281.00" y="432.20" textLength="75.1" lengthAdjust="spacingAndGlyphs"><tspan y="432.20">T30695</tspan><tspan y="432.20">+Na</tspan><tspan class="sp" y="429.30">+</tspan><tspan y="432.20">+K</tspan><tspan class="sp" y="429.30">+</tspan><tspan y="432.20">+NH</tspan><tspan class="sb" y="433.80">4</tspan><tspan class="sp" y="429.30">+</tspan></text>
<path class="ls" stroke="#6FB802" d="M258.10 441.55H277.00"/>
<text class="lt" style="font-size:8.98px" x="281.00" y="444.45" textLength="79.7" lengthAdjust="spacingAndGlyphs"><tspan y="444.45">AGRO100</tspan><tspan y="444.45">+Na</tspan><tspan class="sp" y="441.55">+</tspan><tspan y="444.45">+K</tspan><tspan class="sp" y="441.55">+</tspan><tspan y="444.45">+NH</tspan><tspan class="sb" y="446.05">4</tspan><tspan class="sp" y="441.55">+</tspan></text>
<rect class="fr" x="61.10" y="296.20" width="306.40" height="222.40"/>
<path class="tk" d="M77.23 518.60v-4.3 M93.35 518.60v-2.5 M109.48 518.60v-4.3 M125.61 518.60v-2.5 M141.73 518.60v-4.3 M157.86 518.60v-2.5 M173.98 518.60v-4.3 M190.11 518.60v-2.5 M206.24 518.60v-4.3 M222.36 518.60v-2.5 M238.49 518.60v-4.3 M254.62 518.60v-2.5 M270.74 518.60v-4.3 M286.87 518.60v-2.5 M302.99 518.60v-4.3 M319.12 518.60v-2.5 M335.25 518.60v-4.3 M351.37 518.60v-2.5 M61.10 506.24h4.3 M61.10 493.89h2.5 M61.10 481.53h4.3 M61.10 469.18h2.5 M61.10 456.82h4.3 M61.10 444.47h2.5 M61.10 432.11h4.3 M61.10 419.76h2.5 M61.10 407.40h4.3 M61.10 395.04h2.5 M61.10 382.69h4.3 M61.10 370.33h2.5 M61.10 357.98h4.3 M61.10 345.62h2.5 M61.10 333.27h4.3 M61.10 320.91h2.5 M61.10 308.56h4.3"/>
<text class="tl" style="font-size:10.0px" x="77.23" y="531.40" text-anchor="middle" textLength="15.6" lengthAdjust="spacingAndGlyphs">540</text>
<text class="tl" style="font-size:10.0px" x="109.48" y="531.40" text-anchor="middle" textLength="15.6" lengthAdjust="spacingAndGlyphs">560</text>
<text class="tl" style="font-size:10.0px" x="141.73" y="531.40" text-anchor="middle" textLength="15.6" lengthAdjust="spacingAndGlyphs">580</text>
<text class="tl" style="font-size:10.0px" x="173.98" y="531.40" text-anchor="middle" textLength="15.6" lengthAdjust="spacingAndGlyphs">600</text>
<text class="tl" style="font-size:10.0px" x="206.24" y="531.40" text-anchor="middle" textLength="15.6" lengthAdjust="spacingAndGlyphs">620</text>
<text class="tl" style="font-size:10.0px" x="238.49" y="531.40" text-anchor="middle" textLength="15.6" lengthAdjust="spacingAndGlyphs">640</text>
<text class="tl" style="font-size:10.0px" x="270.74" y="531.40" text-anchor="middle" textLength="15.6" lengthAdjust="spacingAndGlyphs">660</text>
<text class="tl" style="font-size:10.0px" x="302.99" y="531.40" text-anchor="middle" textLength="15.6" lengthAdjust="spacingAndGlyphs">680</text>
<text class="tl" style="font-size:10.0px" x="335.25" y="531.40" text-anchor="middle" textLength="15.6" lengthAdjust="spacingAndGlyphs">700</text>
<text class="tl" style="font-size:10.0px" x="367.50" y="531.40" text-anchor="middle" textLength="15.6" lengthAdjust="spacingAndGlyphs">720</text>
<text class="tl" style="font-size:10.0px" x="55.90" y="510.04" text-anchor="end" textLength="5.2" lengthAdjust="spacingAndGlyphs">0</text>
<text class="tl" style="font-size:10.0px" x="55.90" y="485.33" text-anchor="end" textLength="15.6" lengthAdjust="spacingAndGlyphs">200</text>
<text class="tl" style="font-size:10.0px" x="55.90" y="460.62" text-anchor="end" textLength="15.6" lengthAdjust="spacingAndGlyphs">400</text>
<text class="tl" style="font-size:10.0px" x="55.90" y="435.91" text-anchor="end" textLength="15.6" lengthAdjust="spacingAndGlyphs">600</text>
<text class="tl" style="font-size:10.0px" x="55.90" y="411.20" text-anchor="end" textLength="15.6" lengthAdjust="spacingAndGlyphs">800</text>
<text class="tl" style="font-size:10.0px" x="55.90" y="386.49" text-anchor="end" textLength="20.8" lengthAdjust="spacingAndGlyphs">1000</text>
<text class="tl" style="font-size:10.0px" x="55.90" y="361.78" text-anchor="end" textLength="20.8" lengthAdjust="spacingAndGlyphs">1200</text>
<text class="tl" style="font-size:10.0px" x="55.90" y="337.07" text-anchor="end" textLength="20.8" lengthAdjust="spacingAndGlyphs">1400</text>
<text class="tl" style="font-size:10.0px" x="55.90" y="312.36" text-anchor="end" textLength="20.8" lengthAdjust="spacingAndGlyphs">1600</text>
<text class="yt" transform="translate(20.90 454.00) rotate(-90)" textLength="102.1" lengthAdjust="spacingAndGlyphs">Fluorescence(a. u. )</text>
<text class="xt" x="169.20" y="546.50" textLength="88.8" lengthAdjust="spacingAndGlyphs">Wavelength(nm)</text>
<text class="lab" x="9.50" y="550.60" textLength="20.3" lengthAdjust="spacingAndGlyphs">(C)</text>
<polyline class="c" stroke="#515151" points="490.4,503.3 498.6,503.3 506.7,503.2 514.9,503.1 523,502.9 531.1,502.7 539.3,502.5 547.5,502.2 555.6,501.8 563.8,501.4 571.9,500.9 573.5,500.8 575.2,500.7 576.8,500.6 578.4,500.4 580,500.3 581.7,500.1 583.3,499.9 584.9,499.7 586.6,499.4 588.2,499.2 589.8,498.8 591.5,498.5 593.1,498.2 594.7,497.8 596.4,497.4 598,497 599.6,496.6 601.2,496.3 602.9,495.9 604.5,495.7 606.1,495.4 607.8,495.3 609.4,495.2 611,495.2 612.6,495.3 614.3,495.5 615.9,495.7 617.5,496 619.2,496.3 620.8,496.7 622.4,497 624.1,497.3 625.7,497.7 627.3,498 629,498.3 630.6,498.6 632.2,498.9 633.8,499.1 635.5,499.3 637.1,499.5 638.7,499.7 640.4,499.9 642,500.1 643.6,500.2 645.2,500.4 646.9,500.6 648.5,500.7 650.1,500.8 651.8,501 653.4,501.1 655,501.3 656.7,501.4 658.3,501.5 659.9,501.6 661.5,501.7 663.2,501.8 664.8,501.9 666.4,502 668.1,502.1 669.7,502.1 671.3,502.2 673,502.2 674.6,502.2 676.2,502.3 677.9,502.3 679.5,502.3 681.1,502.3 682.7,502.3 684.4,502.3 686,502.3 687.6,502.3 689.3,502.3 690.9,502.2 692.5,502.2 694.1,502.2 695.8,502.2 697.4,502.2 699,502.1 700.7,502.1 702.3,502.1 703.9,502.1 705.6,502.1 707.2,502.1 708.8,502.1 710.5,502.1 712.1,502.1 713.7,502.1 715.3,502 717,502 718.6,502 720.2,502 721.9,502 723.5,502 725.1,502 726.8,502 728.4,501.9 730,501.9 731.6,501.9 733.3,501.9 734.9,501.8"/>
<polyline class="c" stroke="#F14040" points="490.4,503.3 498.6,503.3 506.7,503.2 514.9,503.1 523,502.9 531.1,502.7 539.3,502.4 547.5,502.1 555.6,501.7 563.8,501.3 571.9,500.7 573.5,500.6 575.2,500.5 576.8,500.3 578.4,500.2 580,500 581.7,499.8 583.3,499.5 584.9,499.2 586.6,498.8 588.2,498.4 589.8,498 591.5,497.4 593.1,496.8 594.7,496.2 596.4,495.5 598,494.8 599.6,494 601.2,493.2 602.9,492.4 604.5,491.7 606.1,491 607.8,490.3 609.4,489.8 611,489.5 612.6,489.3 614.3,489.2 615.9,489.4 617.5,489.7 619.2,490.1 620.8,490.7 622.4,491.3 624.1,492 625.7,492.8 627.3,493.5 629,494.2 630.6,494.9 632.2,495.6 633.8,496.2 635.5,496.7 637.1,497.2 638.7,497.6 640.4,498 642,498.3 643.6,498.6 645.2,498.9 646.9,499.1 648.5,499.2 650.1,499.4 651.8,499.5 653.4,499.6 655,499.7 656.7,499.8 658.3,499.8 659.9,499.9 661.5,499.9 663.2,500 664.8,500 666.4,500 668.1,500.1 669.7,500.1 671.3,500.1 673,500.1 674.6,500.1 676.2,500.1 677.9,500.1 679.5,500.1 681.1,500.1 682.7,500 684.4,500 686,500 687.6,500 689.3,500 690.9,499.9 692.5,499.9 694.1,499.9 695.8,499.9 697.4,499.9 699,499.8 700.7,499.8 702.3,499.8 703.9,499.8 705.6,499.8 707.2,499.8 708.8,499.8 710.5,499.9 712.1,499.9 713.7,499.9 715.3,499.9 717,499.9 718.6,499.9 720.2,499.9 721.9,499.9 723.5,499.9 725.1,499.9 726.8,499.9 728.4,499.9 730,499.9 731.6,499.9 733.3,499.8 734.9,499.8"/>
<polyline class="c" stroke="#1A6FDF" points="490.4,503.3 498.6,503.3 506.7,503.2 514.9,503.1 523,502.9 531.1,502.7 539.3,502.5 547.5,502.2 555.6,501.8 563.8,501.4 571.9,500.8 573.5,500.7 575.2,500.6 576.8,500.5 578.4,500.4 580,500.2 581.7,500 583.3,499.8 584.9,499.5 586.6,499.2 588.2,498.9 589.8,498.6 591.5,498.2 593.1,497.8 594.7,497.4 596.4,497 598,496.5 599.6,496.1 601.2,495.7 602.9,495.4 604.5,495 606.1,494.8 607.8,494.6 609.4,494.6 611,494.6 612.6,494.7 614.3,494.9 615.9,495.1 617.5,495.5 619.2,495.8 620.8,496.2 622.4,496.6 624.1,497 625.7,497.3 627.3,497.7 629,498.1 630.6,498.4 632.2,498.7 633.8,499 635.5,499.2 637.1,499.4 638.7,499.6 640.4,499.8 642,500 643.6,500.2 645.2,500.4 646.9,500.5 648.5,500.7 650.1,500.8 651.8,501 653.4,501.1 655,501.2 656.7,501.4 658.3,501.5 659.9,501.6 661.5,501.7 663.2,501.8 664.8,501.9 666.4,502 668.1,502.1 669.7,502.1 671.3,502.2 673,502.2 674.6,502.2 676.2,502.3 677.9,502.3 679.5,502.3 681.1,502.3 682.7,502.3 684.4,502.3 686,502.3 687.6,502.3 689.3,502.2 690.9,502.2 692.5,502.2 694.1,502.2 695.8,502.2 697.4,502.1 699,502.1 700.7,502.1 702.3,502.1 703.9,502.1 705.6,502.1 707.2,502.1 708.8,502.1 710.5,502.1 712.1,502.1 713.7,502 715.3,502 717,502 718.6,502 720.2,502 721.9,502 723.5,502 725.1,502 726.8,502 728.4,501.9 730,501.9 731.6,501.9 733.3,501.9 734.9,501.8"/>
<polyline class="c" stroke="#37AD6B" points="490.4,503.3 498.6,503.3 506.7,503.2 514.9,503.1 523,502.9 531.1,502.7 539.3,502.5 547.5,502.2 555.6,501.8 563.8,501.4 571.9,500.9 573.5,500.9 575.2,500.8 576.8,500.7 578.4,500.7 580,500.6 581.7,500.5 583.3,500.4 584.9,500.3 586.6,500.2 588.2,500 589.8,499.9 591.5,499.7 593.1,499.4 594.7,499.2 596.4,498.8 598,498.5 599.6,498 601.2,497.5 602.9,497 604.5,496.4 606.1,495.7 607.8,495 609.4,494.3 611,493.5 612.6,492.7 614.3,492 615.9,491.3 617.5,490.6 619.2,490.1 620.8,489.6 622.4,489.3 624.1,489.2 625.7,489.3 627.3,489.5 629,489.9 630.6,490.4 632.2,491 633.8,491.7 635.5,492.4 637.1,493.2 638.7,493.9 640.4,494.6 642,495.3 643.6,495.9 645.2,496.5 646.9,497 648.5,497.5 650.1,497.9 651.8,498.3 653.4,498.6 655,498.9 656.7,499.1 658.3,499.3 659.9,499.5 661.5,499.6 663.2,499.7 664.8,499.8 666.4,499.8 668.1,499.9 669.7,499.9 671.3,500 673,500 674.6,500 676.2,500 677.9,500 679.5,500 681.1,500 682.7,500 684.4,500 686,500 687.6,499.9 689.3,499.9 690.9,499.9 692.5,499.9 694.1,499.9 695.8,499.8 697.4,499.8 699,499.8 700.7,499.8 702.3,499.8 703.9,499.8 705.6,499.8 707.2,499.7 708.8,499.7 710.5,499.7 712.1,499.7 713.7,499.7 715.3,499.7 717,499.7 718.6,499.7 720.2,499.7 721.9,499.7 723.5,499.7 725.1,499.7 726.8,499.7 728.4,499.6 730,499.6 731.6,499.6 733.3,499.6 734.9,499.5"/>
<polyline class="c" stroke="#B177DE" points="490.4,503.3 498.6,503.3 506.7,503.2 514.9,503.1 523,502.9 531.1,502.7 539.3,502.5 547.5,502.2 555.6,501.8 563.8,501.4 571.9,500.9 573.5,500.8 575.2,500.7 576.8,500.6 578.4,500.4 580,500.3 581.7,500.1 583.3,499.9 584.9,499.7 586.6,499.4 588.2,499.2 589.8,498.8 591.5,498.5 593.1,498.2 594.7,497.8 596.4,497.4 598,497 599.6,496.6 601.2,496.3 602.9,495.9 604.5,495.7 606.1,495.4 607.8,495.3 609.4,495.2 611,495.2 612.6,495.3 614.3,495.5 615.9,495.7 617.5,496 619.2,496.3 620.8,496.7 622.4,497 624.1,497.3 625.7,497.7 627.3,498 629,498.3 630.6,498.6 632.2,498.9 633.8,499.1 635.5,499.3 637.1,499.5 638.7,499.7 640.4,499.9 642,500.1 643.6,500.2 645.2,500.4 646.9,500.6 648.5,500.7 650.1,500.8 651.8,501 653.4,501.1 655,501.3 656.7,501.4 658.3,501.5 659.9,501.6 661.5,501.7 663.2,501.8 664.8,501.9 666.4,502 668.1,502.1 669.7,502.1 671.3,502.2 673,502.2 674.6,502.2 676.2,502.3 677.9,502.3 679.5,502.3 681.1,502.3 682.7,502.3 684.4,502.3 686,502.3 687.6,502.3 689.3,502.3 690.9,502.2 692.5,502.2 694.1,502.2 695.8,502.2 697.4,502.2 699,502.1 700.7,502.1 702.3,502.1 703.9,502.1 705.6,502.1 707.2,502.1 708.8,502.1 710.5,502.1 712.1,502.1 713.7,502.1 715.3,502 717,502 718.6,502 720.2,502 721.9,502 723.5,502 725.1,502 726.8,502 728.4,501.9 730,501.9 731.6,501.9 733.3,501.9 734.9,501.8"/>
<polyline class="c" stroke="#CC9900" points="490.4,503.3 498.6,503.2 506.7,503.1 514.9,503 523,502.8 531.1,502.6 539.3,502.4 547.5,502 555.6,501.7 563.8,501.2 571.9,500.7 573.5,500.6 575.2,500.6 576.8,500.5 578.4,500.4 580,500.3 581.7,500.2 583.3,500 584.9,499.8 586.6,499.6 588.2,499.3 589.8,498.9 591.5,498.4 593.1,497.7 594.7,496.9 596.4,495.8 598,494.4 599.6,492.6 601.2,490.5 602.9,487.9 604.5,484.8 606.1,481.2 607.8,477 609.4,472.4 611,467.3 612.6,461.9 614.3,456.2 615.9,450.5 617.5,444.9 619.2,439.6 620.8,434.8 622.4,430.7 624.1,427.6 625.7,425.6 627.3,424.7 629,425.2 630.6,427 632.2,429.9 633.8,433.8 635.5,438.5 637.1,443.8 638.7,449.3 640.4,455 642,460.5 643.6,465.6 645.2,470.4 646.9,474.6 648.5,478.3 650.1,481.4 651.8,484 653.4,486.1 655,487.7 656.7,489 658.3,489.9 659.9,490.5 661.5,491 663.2,491.3 664.8,491.5 666.4,491.6 668.1,491.6 669.7,491.6 671.3,491.6 673,491.5 674.6,491.5 676.2,491.5 677.9,491.4 679.5,491.4 681.1,491.3 682.7,491.3 684.4,491.2 686,491.1 687.6,491 689.3,490.8 690.9,490.6 692.5,490.4 694.1,490.2 695.8,489.9 697.4,489.6 699,489.3 700.7,488.9 702.3,488.6 703.9,488.2 705.6,487.8 707.2,487.4 708.8,487 710.5,486.6 712.1,486.2 713.7,485.8 715.3,485.4 717,485 718.6,484.6 720.2,484.2 721.9,483.9 723.5,483.5 725.1,483.2 726.8,482.8 728.4,482.5 730,482.2 731.6,481.9 733.3,481.7 734.9,481.5"/>
<polyline class="c" stroke="#00CBCC" points="490.4,503.3 498.6,503.3 506.7,503.2 514.9,503.1 523,502.9 531.1,502.7 539.3,502.5 547.5,502.2 555.6,501.8 563.8,501.4 571.9,500.9 573.5,500.9 575.2,500.8 576.8,500.7 578.4,500.7 580,500.6 581.7,500.5 583.3,500.4 584.9,500.3 586.6,500.2 588.2,500 589.8,499.9 591.5,499.7 593.1,499.4 594.7,499.2 596.4,498.8 598,498.5 599.6,498 601.2,497.5 602.9,497 604.5,496.4 606.1,495.7 607.8,495 609.4,494.3 611,493.5 612.6,492.7 614.3,492 615.9,491.3 617.5,490.6 619.2,490.1 620.8,489.6 622.4,489.3 624.1,489.2 625.7,489.3 627.3,489.5 629,489.9 630.6,490.4 632.2,491 633.8,491.7 635.5,492.4 637.1,493.2 638.7,493.9 640.4,494.6 642,495.3 643.6,495.9 645.2,496.5 646.9,497 648.5,497.5 650.1,497.9 651.8,498.3 653.4,498.6 655,498.9 656.7,499.1 658.3,499.3 659.9,499.5 661.5,499.6 663.2,499.7 664.8,499.8 666.4,499.8 668.1,499.9 669.7,499.9 671.3,500 673,500 674.6,500 676.2,500 677.9,500 679.5,500 681.1,500 682.7,500 684.4,500 686,500 687.6,499.9 689.3,499.9 690.9,499.9 692.5,499.9 694.1,499.9 695.8,499.8 697.4,499.8 699,499.8 700.7,499.8 702.3,499.8 703.9,499.8 705.6,499.8 707.2,499.7 708.8,499.7 710.5,499.7 712.1,499.7 713.7,499.7 715.3,499.7 717,499.7 718.6,499.7 720.2,499.7 721.9,499.7 723.5,499.7 725.1,499.7 726.8,499.7 728.4,499.6 730,499.6 731.6,499.6 733.3,499.6 734.9,499.5"/>
<polyline class="c" stroke="#7D4E4E" points="490.4,503.2 498.6,503.2 506.7,503.1 514.9,503 523,502.8 531.1,502.6 539.3,502.3 547.5,502 555.6,501.6 563.8,501.2 571.9,500.6 573.5,500.5 575.2,500.5 576.8,500.4 578.4,500.3 580,500.2 581.7,500 583.3,499.9 584.9,499.7 586.6,499.4 588.2,499.1 589.8,498.6 591.5,498 593.1,497.3 594.7,496.3 596.4,495 598,493.4 599.6,491.4 601.2,489 602.9,486 604.5,482.4 606.1,478.3 607.8,473.5 609.4,468.2 611,462.4 612.6,456.1 614.3,449.7 615.9,443.1 617.5,436.6 619.2,430.5 620.8,425 622.4,420.3 624.1,416.7 625.7,414.4 627.3,413.4 629,414 630.6,416 632.2,419.3 633.8,423.8 635.5,429.2 637.1,435.3 638.7,441.6 640.4,448 642,454.3 643.6,460.3 645.2,465.7 646.9,470.6 648.5,474.8 650.1,478.4 651.8,481.3 653.4,483.7 655,485.5 656.7,486.9 658.3,488 659.9,488.7 661.5,489.2 663.2,489.5 664.8,489.8 666.4,489.9 668.1,489.9 669.7,489.9 671.3,489.9 673,489.8 674.6,489.8 676.2,489.7 677.9,489.7 679.5,489.6 681.1,489.6 682.7,489.5 684.4,489.5 686,489.4 687.6,489.2 689.3,489 690.9,488.8 692.5,488.5 694.1,488.2 695.8,487.9 697.4,487.6 699,487.2 700.7,486.8 702.3,486.4 703.9,486 705.6,485.5 707.2,485.1 708.8,484.6 710.5,484.2 712.1,483.7 713.7,483.2 715.3,482.7 717,482.3 718.6,481.8 720.2,481.4 721.9,480.9 723.5,480.5 725.1,480.1 726.8,479.7 728.4,479.3 730,479 731.6,478.7 733.3,478.4 734.9,478.1"/>
<polyline class="c" stroke="#8E8E00" points="490.4,503.3 498.6,503.2 506.7,503.1 514.9,503 523,502.9 531.1,502.6 539.3,502.4 547.5,502.1 555.6,501.7 563.8,501.2 571.9,500.7 573.5,500.7 575.2,500.6 576.8,500.5 578.4,500.4 580,500.3 581.7,500.2 583.3,500.1 584.9,499.9 586.6,499.7 588.2,499.4 589.8,499.1 591.5,498.6 593.1,498 594.7,497.2 596.4,496.1 598,494.8 599.6,493.2 601.2,491.2 602.9,488.8 604.5,485.9 606.1,482.5 607.8,478.7 609.4,474.4 611,469.7 612.6,464.6 614.3,459.4 615.9,454 617.5,448.8 619.2,443.9 620.8,439.4 622.4,435.6 624.1,432.7 625.7,430.8 627.3,430.1 629,430.5 630.6,432.1 632.2,434.8 633.8,438.5 635.5,442.8 637.1,447.7 638.7,452.8 640.4,458 642,463.1 643.6,467.9 645.2,472.3 646.9,476.3 648.5,479.7 650.1,482.6 651.8,484.9 653.4,486.9 655,488.3 656.7,489.5 658.3,490.3 659.9,490.9 661.5,491.3 663.2,491.6 664.8,491.8 666.4,491.9 668.1,491.9 669.7,491.9 671.3,491.9 673,491.8 674.6,491.8 676.2,491.7 677.9,491.7 679.5,491.6 681.1,491.6 682.7,491.6 684.4,491.5 686,491.4 687.6,491.3 689.3,491.1 690.9,490.9 692.5,490.7 694.1,490.5 695.8,490.2 697.4,489.9 699,489.6 700.7,489.3 702.3,489 703.9,488.6 705.6,488.2 707.2,487.9 708.8,487.5 710.5,487.1 712.1,486.7 713.7,486.3 715.3,485.9 717,485.6 718.6,485.2 720.2,484.8 721.9,484.4 723.5,484.1 725.1,483.8 726.8,483.4 728.4,483.1 730,482.8 731.6,482.6 733.3,482.3 734.9,482.1"/>
<polyline class="c" stroke="#FB6501" points="490.4,503.2 498.6,503.2 506.7,503.1 514.9,502.9 523,502.8 531.1,502.5 539.3,502.2 547.5,501.9 555.6,501.5 563.8,501 571.9,500.4 573.5,500.3 575.2,500.2 576.8,500.1 578.4,499.9 580,499.8 581.7,499.6 583.3,499.4 584.9,499.1 586.6,498.8 588.2,498.3 589.8,497.7 591.5,496.9 593.1,495.8 594.7,494.4 596.4,492.6 598,490.3 599.6,487.5 601.2,484 602.9,479.7 604.5,474.6 606.1,468.7 607.8,462 609.4,454.4 611,446.1 612.6,437.2 614.3,428 615.9,418.6 617.5,409.3 619.2,400.6 620.8,392.7 622.4,386.1 624.1,380.9 625.7,377.6 627.3,376.2 629,376.9 630.6,379.7 632.2,384.5 633.8,390.9 635.5,398.5 637.1,407 638.7,416 640.4,425.2 642,434.1 643.6,442.5 645.2,450.2 646.9,457 648.5,463 650.1,468 651.8,472.1 653.4,475.4 655,478 656.7,480 658.3,481.4 659.9,482.4 661.5,483.1 663.2,483.6 664.8,483.9 666.4,484 668.1,484.1 669.7,484.1 671.3,484 673,484 674.6,483.9 676.2,483.8 677.9,483.7 679.5,483.7 681.1,483.6 682.7,483.6 684.4,483.5 686,483.3 687.6,483.1 689.3,482.9 690.9,482.6 692.5,482.2 694.1,481.8 695.8,481.4 697.4,480.9 699,480.4 700.7,479.9 702.3,479.3 703.9,478.8 705.6,478.2 707.2,477.6 708.8,476.9 710.5,476.3 712.1,475.6 713.7,475 715.3,474.4 717,473.7 718.6,473.1 720.2,472.5 721.9,471.9 723.5,471.3 725.1,470.8 726.8,470.2 728.4,469.7 730,469.3 731.6,468.8 733.3,468.5 734.9,468.1"/>
<polyline class="c" stroke="#6699CC" points="490.4,503.1 498.6,503.1 506.7,503 514.9,502.8 523,502.6 531.1,502.4 539.3,502.1 547.5,501.7 555.6,501.2 563.8,500.7 571.9,500 573.5,499.9 575.2,499.8 576.8,499.6 578.4,499.5 580,499.3 581.7,499.1 583.3,498.9 584.9,498.5 586.6,498.1 588.2,497.6 589.8,496.9 591.5,496 593.1,494.7 594.7,493.1 596.4,491 598,488.3 599.6,484.9 601.2,480.5 602.9,475.2 604.5,468.7 606.1,461.1 607.8,452.1 609.4,441.8 611,430.3 612.6,417.7 614.3,404.2 615.9,390.1 617.5,375.8 619.2,361.7 620.8,348.4 622.4,336.4 624.1,326.2 625.7,318.4 627.3,313.2 629,311 630.6,312 632.2,316.2 633.8,323.3 635.5,332.9 637.1,344.4 638.7,357.2 640.4,370.8 642,384.6 643.6,398 645.2,410.7 646.9,422.3 648.5,432.7 650.1,441.7 651.8,449.3 653.4,455.6 655,460.6 656.7,464.5 658.3,467.5 659.9,469.8 661.5,471.4 663.2,472.5 664.8,473.2 666.4,473.6 668.1,473.9 669.7,474 671.3,474 673,474 674.6,473.9 676.2,473.9 677.9,473.8 679.5,473.7 681.1,473.6 682.7,473.5 684.4,473.4 686,473.2 687.6,472.9 689.3,472.5 690.9,472.1 692.5,471.6 694.1,471 695.8,470.3 697.4,469.6 699,468.8 700.7,468 702.3,467.2 703.9,466.3 705.6,465.4 707.2,464.5 708.8,463.5 710.5,462.5 712.1,461.6 713.7,460.6 715.3,459.6 717,458.6 718.6,457.7 720.2,456.7 721.9,455.8 723.5,454.9 725.1,454.1 726.8,453.3 728.4,452.5 730,451.8 731.6,451.2 733.3,450.6 734.9,450.1"/>
<polyline class="c" stroke="#6FB802" points="490.4,503.2 498.6,503.2 506.7,503.1 514.9,503 523,502.8 531.1,502.6 539.3,502.3 547.5,502 555.6,501.6 563.8,501.1 571.9,500.6 573.5,500.5 575.2,500.4 576.8,500.3 578.4,500.2 580,500.1 581.7,499.9 583.3,499.8 584.9,499.5 586.6,499.3 588.2,498.9 589.8,498.4 591.5,497.8 593.1,496.9 594.7,495.9 596.4,494.5 598,492.7 599.6,490.5 601.2,487.8 602.9,484.5 604.5,480.6 606.1,476.1 607.8,470.8 609.4,465 611,458.6 612.6,451.8 614.3,444.6 615.9,437.4 617.5,430.3 619.2,423.6 620.8,417.5 622.4,412.4 624.1,408.4 625.7,405.8 627.3,404.8 629,405.3 630.6,407.5 632.2,411.2 633.8,416.1 635.5,422 637.1,428.6 638.7,435.5 640.4,442.5 642,449.4 643.6,455.9 645.2,461.8 646.9,467.1 648.5,471.7 650.1,475.6 651.8,478.8 653.4,481.3 655,483.3 656.7,484.8 658.3,486 659.9,486.7 661.5,487.3 663.2,487.6 664.8,487.8 666.4,488 668.1,488 669.7,488 671.3,488 673,487.9 674.6,487.8 676.2,487.8 677.9,487.7 679.5,487.7 681.1,487.6 682.7,487.6 684.4,487.5 686,487.4 687.6,487.2 689.3,487 690.9,486.8 692.5,486.5 694.1,486.2 695.8,485.8 697.4,485.5 699,485.1 700.7,484.7 702.3,484.2 703.9,483.8 705.6,483.3 707.2,482.8 708.8,482.3 710.5,481.9 712.1,481.4 713.7,480.9 715.3,480.4 717,479.9 718.6,479.4 720.2,478.9 721.9,478.4 723.5,478 725.1,477.5 726.8,477.1 728.4,476.7 730,476.4 731.6,476 733.3,475.7 734.9,475.5"/>
<rect class="lg" x="658.10" y="295.30" width="106.60" height="149.10"/>
<path class="ls" stroke="#515151" d="M658.70 301.20H677.50"/>
<text class="lt" style="font-size:9.18px" x="681.80" y="304.10" textLength="58.2" lengthAdjust="spacingAndGlyphs"><tspan y="304.10">AT</tspan><tspan y="304.10">+Na</tspan><tspan class="sp" y="301.20">+</tspan><tspan y="304.10">+NH</tspan><tspan class="sb" y="305.70">4</tspan><tspan class="sp" y="301.20">+</tspan><tspan y="304.10">+K</tspan><tspan class="sp" y="301.20">+</tspan></text>
<path class="ls" stroke="#F14040" d="M658.70 313.63H677.50"/>
<text class="lt" style="font-size:9.18px" x="681.80" y="316.53" textLength="58.2" lengthAdjust="spacingAndGlyphs"><tspan y="316.53">BT</tspan><tspan y="316.53">+Na</tspan><tspan class="sp" y="313.63">+</tspan><tspan y="316.53">+NH</tspan><tspan class="sb" y="318.13">4</tspan><tspan class="sp" y="313.63">+</tspan><tspan y="316.53">+K</tspan><tspan class="sp" y="313.63">+</tspan></text>
<path class="ls" stroke="#1A6FDF" d="M658.70 326.06H677.50"/>
<text class="lt" style="font-size:9.18px" x="681.80" y="328.96" textLength="58.2" lengthAdjust="spacingAndGlyphs"><tspan y="328.96">OT</tspan><tspan y="328.96">+Na</tspan><tspan class="sp" y="326.06">+</tspan><tspan y="328.96">+NH</tspan><tspan class="sb" y="330.56">4</tspan><tspan class="sp" y="326.06">+</tspan><tspan y="328.96">+K</tspan><tspan class="sp" y="326.06">+</tspan></text>
<path class="ls" stroke="#37AD6B" d="M658.70 338.49H677.50"/>
<text class="lt" style="font-size:9.18px" x="681.80" y="341.39" textLength="58.2" lengthAdjust="spacingAndGlyphs"><tspan y="341.39">TT</tspan><tspan y="341.39">+Na</tspan><tspan class="sp" y="338.49">+</tspan><tspan y="341.39">+NH</tspan><tspan class="sb" y="342.99">4</tspan><tspan class="sp" y="338.49">+</tspan><tspan y="341.39">+K</tspan><tspan class="sp" y="338.49">+</tspan></text>
<path class="ls" stroke="#B177DE" d="M658.70 350.92H677.50"/>
<text class="lt" style="font-size:9.18px" x="681.80" y="353.82" textLength="58.2" lengthAdjust="spacingAndGlyphs"><tspan y="353.82">HT</tspan><tspan y="353.82">+Na</tspan><tspan class="sp" y="350.92">+</tspan><tspan y="353.82">+NH</tspan><tspan class="sb" y="355.42">4</tspan><tspan class="sp" y="350.92">+</tspan><tspan y="353.82">+K</tspan><tspan class="sp" y="350.92">+</tspan></text>
<path class="ls" stroke="#CC9900" d="M658.70 363.35H677.50"/>
<text class="lt" style="font-size:9.18px" x="681.80" y="366.25" textLength="76.8" lengthAdjust="spacingAndGlyphs"><tspan y="366.25">HT&#8722;V15</tspan><tspan y="366.25">+Na</tspan><tspan class="sp" y="363.35">+</tspan><tspan y="366.25">+NH</tspan><tspan class="sb" y="367.85">4</tspan><tspan class="sp" y="363.35">+</tspan><tspan y="366.25">+K</tspan><tspan class="sp" y="363.35">+</tspan></text>
<path class="ls" stroke="#00CBCC" d="M658.70 375.78H677.50"/>
<text class="lt" style="font-size:9.18px" x="681.80" y="378.68" textLength="76.8" lengthAdjust="spacingAndGlyphs"><tspan y="378.68">HT&#8722;V18</tspan><tspan y="378.68">+Na</tspan><tspan class="sp" y="375.78">+</tspan><tspan y="378.68">+NH</tspan><tspan class="sb" y="380.28">4</tspan><tspan class="sp" y="375.78">+</tspan><tspan y="378.68">+K</tspan><tspan class="sp" y="375.78">+</tspan></text>
<path class="ls" stroke="#7D4E4E" d="M658.70 388.21H677.50"/>
<text class="lt" style="font-size:9.18px" x="681.80" y="391.11" textLength="67.5" lengthAdjust="spacingAndGlyphs"><tspan y="391.11">PW17</tspan><tspan y="391.11">+Na</tspan><tspan class="sp" y="388.21">+</tspan><tspan y="391.11">+NH</tspan><tspan class="sb" y="392.71">4</tspan><tspan class="sp" y="388.21">+</tspan><tspan y="391.11">+K</tspan><tspan class="sp" y="388.21">+</tspan></text>
<path class="ls" stroke="#8E8E00" d="M658.70 400.64H677.50"/>
<text class="lt" style="font-size:9.18px" x="681.80" y="403.54" textLength="76.8" lengthAdjust="spacingAndGlyphs"><tspan y="403.54">PS2. M</tspan><tspan y="403.54">+Na</tspan><tspan class="sp" y="400.64">+</tspan><tspan y="403.54">+NH</tspan><tspan class="sb" y="405.14">4</tspan><tspan class="sp" y="400.64">+</tspan><tspan y="403.54">+K</tspan><tspan class="sp" y="400.64">+</tspan></text>
<path class="ls" stroke="#FB6501" d="M658.70 413.07H677.50"/>
<text class="lt" style="font-size:9.18px" x="681.80" y="415.97" textLength="76.8" lengthAdjust="spacingAndGlyphs"><tspan y="415.97">PS5. M</tspan><tspan y="415.97">+Na</tspan><tspan class="sp" y="413.07">+</tspan><tspan y="415.97">+NH</tspan><tspan class="sb" y="417.57">4</tspan><tspan class="sp" y="413.07">+</tspan><tspan y="415.97">+K</tspan><tspan class="sp" y="413.07">+</tspan></text>
<path class="ls" stroke="#6699CC" d="M658.70 425.50H677.50"/>
<text class="lt" style="font-size:9.18px" x="681.80" y="428.40" textLength="76.8" lengthAdjust="spacingAndGlyphs"><tspan y="428.40">T30695</tspan><tspan y="428.40">+Na</tspan><tspan class="sp" y="425.50">+</tspan><tspan y="428.40">+NH</tspan><tspan class="sb" y="430.00">4</tspan><tspan class="sp" y="425.50">+</tspan><tspan y="428.40">+K</tspan><tspan class="sp" y="425.50">+</tspan></text>
<path class="ls" stroke="#6FB802" d="M658.70 437.93H677.50"/>
<text class="lt" style="font-size:9.18px" x="681.80" y="440.83" textLength="81.5" lengthAdjust="spacingAndGlyphs"><tspan y="440.83">AGRO100</tspan><tspan y="440.83">+Na</tspan><tspan class="sp" y="437.93">+</tspan><tspan y="440.83">+NH</tspan><tspan class="sb" y="442.43">4</tspan><tspan class="sp" y="437.93">+</tspan><tspan y="440.83">+K</tspan><tspan class="sp" y="437.93">+</tspan></text>
<rect class="fr" x="457.80" y="292.40" width="309.70" height="226.10"/>
<path class="tk" d="M474.10 518.50v-4.3 M490.40 518.50v-2.5 M506.70 518.50v-4.3 M523.00 518.50v-2.5 M539.30 518.50v-4.3 M555.60 518.50v-2.5 M571.90 518.50v-4.3 M588.20 518.50v-2.5 M604.50 518.50v-4.3 M620.80 518.50v-2.5 M637.10 518.50v-4.3 M653.40 518.50v-2.5 M669.70 518.50v-4.3 M686.00 518.50v-2.5 M702.30 518.50v-4.3 M718.60 518.50v-2.5 M734.90 518.50v-4.3 M751.20 518.50v-2.5 M457.80 505.20h4.3 M457.80 491.90h2.5 M457.80 478.60h4.3 M457.80 465.30h2.5 M457.80 452.00h4.3 M457.80 438.70h2.5 M457.80 425.40h4.3 M457.80 412.10h2.5 M457.80 398.80h4.3 M457.80 385.50h2.5 M457.80 372.20h4.3 M457.80 358.90h2.5 M457.80 345.60h4.3 M457.80 332.30h2.5 M457.80 319.00h4.3 M457.80 305.70h2.5"/>
<text class="tl" style="font-size:10.0px" x="474.10" y="531.30" text-anchor="middle" textLength="15.6" lengthAdjust="spacingAndGlyphs">540</text>
<text class="tl" style="font-size:10.0px" x="506.70" y="531.30" text-anchor="middle" textLength="15.6" lengthAdjust="spacingAndGlyphs">560</text>
<text class="tl" style="font-size:10.0px" x="539.30" y="531.30" text-anchor="middle" textLength="15.6" lengthAdjust="spacingAndGlyphs">580</text>
<text class="tl" style="font-size:10.0px" x="571.90" y="531.30" text-anchor="middle" textLength="15.6" lengthAdjust="spacingAndGlyphs">600</text>
<text class="tl" style="font-size:10.0px" x="604.50" y="531.30" text-anchor="middle" textLength="15.6" lengthAdjust="spacingAndGlyphs">620</text>
<text class="tl" style="font-size:10.0px" x="637.10" y="531.30" text-anchor="middle" textLength="15.6" lengthAdjust="spacingAndGlyphs">640</text>
<text class="tl" style="font-size:10.0px" x="669.70" y="531.30" text-anchor="middle" textLength="15.6" lengthAdjust="spacingAndGlyphs">660</text>
<text class="tl" style="font-size:10.0px" x="702.30" y="531.30" text-anchor="middle" textLength="15.6" lengthAdjust="spacingAndGlyphs">680</text>
<text class="tl" style="font-size:10.0px" x="734.90" y="531.30" text-anchor="middle" textLength="15.6" lengthAdjust="spacingAndGlyphs">700</text>
<text class="tl" style="font-size:10.0px" x="767.50" y="531.30" text-anchor="middle" textLength="15.6" lengthAdjust="spacingAndGlyphs">720</text>
<text class="tl" style="font-size:10.0px" x="452.60" y="509.00" text-anchor="end" textLength="5.2" lengthAdjust="spacingAndGlyphs">0</text>
<text class="tl" style="font-size:10.0px" x="452.60" y="482.40" text-anchor="end" textLength="15.6" lengthAdjust="spacingAndGlyphs">200</text>
<text class="tl" style="font-size:10.0px" x="452.60" y="455.80" text-anchor="end" textLength="15.6" lengthAdjust="spacingAndGlyphs">400</text>
<text class="tl" style="font-size:10.0px" x="452.60" y="429.20" text-anchor="end" textLength="15.6" lengthAdjust="spacingAndGlyphs">600</text>
<text class="tl" style="font-size:10.0px" x="452.60" y="402.60" text-anchor="end" textLength="15.6" lengthAdjust="spacingAndGlyphs">800</text>
<text class="tl" style="font-size:10.0px" x="452.60" y="376.00" text-anchor="end" textLength="20.8" lengthAdjust="spacingAndGlyphs">1000</text>
<text class="tl" style="font-size:10.0px" x="452.60" y="349.40" text-anchor="end" textLength="20.8" lengthAdjust="spacingAndGlyphs">1200</text>
<text class="tl" style="font-size:10.0px" x="452.60" y="322.80" text-anchor="end" textLength="20.8" lengthAdjust="spacingAndGlyphs">1400</text>
<text class="tl" style="font-size:10.0px" x="452.60" y="296.20" text-anchor="end" textLength="20.8" lengthAdjust="spacingAndGlyphs">1600</text>
<text class="yt" transform="translate(417.50 452.80) rotate(-90)" textLength="103.1" lengthAdjust="spacingAndGlyphs">Fluorescence(a. u. )</text>
<text class="xt" x="567.60" y="546.20" textLength="88.2" lengthAdjust="spacingAndGlyphs">Wavelength(nm)</text>
<text class="lab" x="403.00" y="550.50" textLength="22.8" lengthAdjust="spacingAndGlyphs">(D)</text>
<polyline class="c" stroke="#515151" points="84.7,805.4 93,805.4 101.2,805.3 109.5,805.2 117.7,805 126,804.7 134.3,804.4 142.5,804 150.8,803.6 159,803 167.3,802.3 168.9,802.2 170.6,802.1 172.2,802 173.9,801.8 175.5,801.6 177.2,801.4 178.8,801.1 180.5,800.8 182.1,800.5 183.8,800.1 185.4,799.7 187.1,799.2 188.7,798.7 190.4,798.1 192,797.5 193.7,796.9 195.3,796.2 197,795.6 198.6,795 200.3,794.4 201.9,793.9 203.6,793.5 205.2,793.2 206.9,793 208.6,793 210.2,793.1 211.9,793.3 213.5,793.7 215.2,794.1 216.8,794.6 218.5,795.1 220.1,795.7 221.8,796.3 223.4,796.9 225.1,797.4 226.7,797.9 228.4,798.4 230,798.9 231.7,799.3 233.3,799.6 235,800 236.6,800.3 238.3,800.5 239.9,800.7 241.6,801 243.2,801.1 244.9,801.3 246.5,801.5 248.2,801.6 249.8,801.7 251.5,801.8 253.1,802 254.8,802.1 256.4,802.2 258.1,802.2 259.7,802.3 261.4,802.4 263,802.4 264.7,802.5 266.3,802.5 268,802.5 269.6,802.6 271.3,802.6 272.9,802.6 274.6,802.6 276.2,802.6 277.9,802.6 279.5,802.5 281.2,802.5 282.8,802.5 284.5,802.5 286.1,802.5 287.8,802.4 289.5,802.4 291.1,802.4 292.8,802.4 294.4,802.3 296.1,802.3 297.7,802.3 299.4,802.3 301,802.3 302.7,802.3 304.3,802.3 306,802.3 307.6,802.3 309.3,802.3 310.9,802.3 312.6,802.4 314.2,802.4 315.9,802.4 317.5,802.4 319.2,802.4 320.8,802.4 322.5,802.4 324.1,802.4 325.8,802.4 327.4,802.4 329.1,802.3 330.7,802.3 332.4,802.3"/>
<polyline class="c" stroke="#F14040" points="84.7,805.4 93,805.4 101.2,805.3 109.5,805.2 117.7,805 126,804.7 134.3,804.4 142.5,804 150.8,803.6 159,803.1 167.3,802.5 168.9,802.4 170.6,802.3 172.2,802.2 173.9,802.1 175.5,802 177.2,801.9 178.8,801.7 180.5,801.5 182.1,801.3 183.8,801.1 185.4,800.8 187.1,800.5 188.7,800.1 190.4,799.7 192,799.2 193.7,798.7 195.3,798.1 197,797.4 198.6,796.8 200.3,796.1 201.9,795.4 203.6,794.7 205.2,794 206.9,793.4 208.6,792.8 210.2,792.4 211.9,792 213.5,791.8 215.2,791.8 216.8,791.9 218.5,792.2 220.1,792.6 221.8,793.1 223.4,793.7 225.1,794.3 226.7,795 228.4,795.6 230,796.3 231.7,796.9 233.3,797.5 235,798.1 236.6,798.6 238.3,799.1 239.9,799.5 241.6,799.9 243.2,800.2 244.9,800.5 246.5,800.7 248.2,801 249.8,801.2 251.5,801.3 253.1,801.5 254.8,801.6 256.4,801.7 258.1,801.8 259.7,801.9 261.4,802 263,802.1 264.7,802.1 266.3,802.1 268,802.2 269.6,802.2 271.3,802.2 272.9,802.2 274.6,802.2 276.2,802.2 277.9,802.2 279.5,802.2 281.2,802.2 282.8,802.2 284.5,802.1 286.1,802.1 287.8,802.1 289.5,802.1 291.1,802 292.8,802 294.4,802 296.1,802 297.7,801.9 299.4,801.9 301,801.9 302.7,801.9 304.3,801.9 306,801.9 307.6,801.9 309.3,801.9 310.9,801.9 312.6,801.9 314.2,801.9 315.9,801.9 317.5,801.9 319.2,801.9 320.8,801.9 322.5,801.9 324.1,801.9 325.8,801.9 327.4,801.9 329.1,801.8 330.7,801.8 332.4,801.8"/>
<polyline class="c" stroke="#1A6FDF" points="84.7,805.4 93,805.4 101.2,805.3 109.5,805.2 117.7,804.9 126,804.7 134.3,804.4 142.5,804 150.8,803.5 159,803 167.3,802.3 168.9,802.2 170.6,802.1 172.2,802 173.9,801.9 175.5,801.7 177.2,801.5 178.8,801.3 180.5,801.1 182.1,800.8 183.8,800.4 185.4,800 187.1,799.5 188.7,799 190.4,798.4 192,797.7 193.7,797 195.3,796.2 197,795.4 198.6,794.5 200.3,793.6 201.9,792.7 203.6,791.9 205.2,791.1 206.9,790.4 208.6,789.8 210.2,789.4 211.9,789.2 213.5,789.1 215.2,789.3 216.8,789.7 218.5,790.2 220.1,790.8 221.8,791.5 223.4,792.3 225.1,793.1 226.7,794 228.4,794.8 230,795.6 231.7,796.3 233.3,797 235,797.7 236.6,798.3 238.3,798.8 239.9,799.2 241.6,799.6 243.2,800 244.9,800.3 246.5,800.5 248.2,800.7 249.8,800.9 251.5,801.1 253.1,801.2 254.8,801.4 256.4,801.5 258.1,801.5 259.7,801.6 261.4,801.7 263,801.7 264.7,801.8 266.3,801.8 268,801.8 269.6,801.8 271.3,801.9 272.9,801.9 274.6,801.9 276.2,801.9 277.9,801.8 279.5,801.8 281.2,801.8 282.8,801.8 284.5,801.8 286.1,801.7 287.8,801.7 289.5,801.7 291.1,801.7 292.8,801.6 294.4,801.6 296.1,801.6 297.7,801.6 299.4,801.6 301,801.6 302.7,801.6 304.3,801.6 306,801.6 307.6,801.6 309.3,801.6 310.9,801.6 312.6,801.6 314.2,801.6 315.9,801.6 317.5,801.6 319.2,801.6 320.8,801.6 322.5,801.6 324.1,801.5 325.8,801.5 327.4,801.5 329.1,801.5 330.7,801.4 332.4,801.4"/>
<polyline class="c" stroke="#37AD6B" points="84.7,805.4 93,805.4 101.2,805.3 109.5,805.2 117.7,805 126,804.7 134.3,804.4 142.5,804 150.8,803.5 159,803 167.3,802.4 168.9,802.3 170.6,802.2 172.2,802.1 173.9,802 175.5,801.8 177.2,801.6 178.8,801.4 180.5,801.2 182.1,800.9 183.8,800.6 185.4,800.3 187.1,799.8 188.7,799.4 190.4,798.8 192,798.2 193.7,797.5 195.3,796.8 197,796 198.6,795.1 200.3,794.3 201.9,793.4 203.6,792.6 205.2,791.7 206.9,791 208.6,790.4 210.2,789.9 211.9,789.6 213.5,789.5 215.2,789.5 216.8,789.8 218.5,790.2 220.1,790.8 221.8,791.4 223.4,792.2 225.1,793 226.7,793.8 228.4,794.6 230,795.4 231.7,796.1 233.3,796.8 235,797.5 236.6,798.1 238.3,798.6 239.9,799.1 241.6,799.5 243.2,799.9 244.9,800.2 246.5,800.5 248.2,800.7 249.8,800.9 251.5,801.1 253.1,801.2 254.8,801.3 256.4,801.4 258.1,801.5 259.7,801.6 261.4,801.7 263,801.7 264.7,801.8 266.3,801.8 268,801.8 269.6,801.8 271.3,801.9 272.9,801.9 274.6,801.9 276.2,801.9 277.9,801.8 279.5,801.8 281.2,801.8 282.8,801.8 284.5,801.8 286.1,801.7 287.8,801.7 289.5,801.7 291.1,801.7 292.8,801.6 294.4,801.6 296.1,801.6 297.7,801.6 299.4,801.5 301,801.5 302.7,801.5 304.3,801.5 306,801.5 307.6,801.4 309.3,801.4 310.9,801.4 312.6,801.4 314.2,801.4 315.9,801.4 317.5,801.3 319.2,801.3 320.8,801.3 322.5,801.3 324.1,801.2 325.8,801.2 327.4,801.2 329.1,801.2 330.7,801.1 332.4,801.1"/>
<polyline class="c" stroke="#B177DE" points="84.7,805.4 93,805.4 101.2,805.3 109.5,805.2 117.7,805 126,804.7 134.3,804.4 142.5,804 150.8,803.6 159,803.1 167.3,802.3 168.9,802.2 170.6,802.1 172.2,801.9 173.9,801.7 175.5,801.5 177.2,801.3 178.8,801 180.5,800.7 182.1,800.4 183.8,800 185.4,799.5 187.1,799.1 188.7,798.6 190.4,798.1 192,797.5 193.7,797 195.3,796.4 197,795.9 198.6,795.5 200.3,795.1 201.9,794.8 203.6,794.6 205.2,794.5 206.9,794.5 208.6,794.6 210.2,794.9 211.9,795.2 213.5,795.6 215.2,796 216.8,796.5 218.5,797 220.1,797.5 221.8,797.9 223.4,798.4 225.1,798.8 226.7,799.2 228.4,799.5 230,799.9 231.7,800.1 233.3,800.4 235,800.6 236.6,800.9 238.3,801 239.9,801.2 241.6,801.4 243.2,801.5 244.9,801.7 246.5,801.8 248.2,802 249.8,802.1 251.5,802.2 253.1,802.3 254.8,802.5 256.4,802.6 258.1,802.6 259.7,802.7 261.4,802.8 263,802.9 264.7,802.9 266.3,803 268,803 269.6,803 271.3,803.1 272.9,803.1 274.6,803.1 276.2,803.1 277.9,803.1 279.5,803.1 281.2,803 282.8,803 284.5,803 286.1,803 287.8,803 289.5,802.9 291.1,802.9 292.8,802.9 294.4,802.8 296.1,802.8 297.7,802.8 299.4,802.8 301,802.8 302.7,802.8 304.3,802.8 306,802.8 307.6,802.8 309.3,802.8 310.9,802.9 312.6,802.9 314.2,802.9 315.9,802.9 317.5,802.9 319.2,802.9 320.8,802.9 322.5,802.9 324.1,802.9 325.8,802.9 327.4,802.9 329.1,802.8 330.7,802.8 332.4,802.8"/>
<polyline class="c" stroke="#CC9900" points="84.7,805.4 93,805.3 101.2,805.2 109.5,805.1 117.7,804.8 126,804.6 134.3,804.2 142.5,803.8 150.8,803.3 159,802.8 167.3,802.1 168.9,802 170.6,801.9 172.2,801.8 173.9,801.7 175.5,801.5 177.2,801.4 178.8,801.2 180.5,800.9 182.1,800.6 183.8,800.2 185.4,799.7 187.1,798.9 188.7,798 190.4,796.8 192,795.3 193.7,793.3 195.3,790.9 197,787.9 198.6,784.2 200.3,779.9 201.9,774.9 203.6,769.1 205.2,762.6 206.9,755.5 208.6,748 210.2,740.1 211.9,732.1 213.5,724.2 215.2,716.8 216.8,710.1 218.5,704.4 220.1,700 221.8,697.2 223.4,696.1 225.1,696.7 226.7,698.9 228.4,702.5 230,707.5 231.7,713.4 233.3,720.1 235,727.1 236.6,734.4 238.3,741.5 239.9,748.4 241.6,754.8 243.2,760.6 244.9,765.8 246.5,770.4 248.2,774.3 249.8,777.5 251.5,780.1 253.1,782.2 254.8,783.9 256.4,785.1 258.1,786.1 259.7,786.7 261.4,787.2 263,787.5 264.7,787.7 266.3,787.8 268,787.9 269.6,787.9 271.3,787.9 272.9,787.9 274.6,787.9 276.2,787.8 277.9,787.8 279.5,787.8 281.2,787.7 282.8,787.6 284.5,787.4 286.1,787.2 287.8,787 289.5,786.7 291.1,786.4 292.8,786 294.4,785.7 296.1,785.3 297.7,784.9 299.4,784.4 301,783.9 302.7,783.5 304.3,783 306,782.5 307.6,782 309.3,781.5 310.9,780.9 312.6,780.4 314.2,779.9 315.9,779.4 317.5,778.9 319.2,778.4 320.8,778 322.5,777.5 324.1,777.1 325.8,776.7 327.4,776.3 329.1,776 330.7,775.7 332.4,775.4"/>
<polyline class="c" stroke="#00CBCC" points="84.7,805.4 93,805.4 101.2,805.3 109.5,805.2 117.7,805 126,804.7 134.3,804.4 142.5,804 150.8,803.5 159,803 167.3,802.4 168.9,802.3 170.6,802.2 172.2,802.1 173.9,802 175.5,801.8 177.2,801.7 178.8,801.5 180.5,801.3 182.1,801 183.8,800.7 185.4,800.4 187.1,800 188.7,799.5 190.4,799 192,798.4 193.7,797.7 195.3,797 197,796.2 198.6,795.4 200.3,794.5 201.9,793.6 203.6,792.7 205.2,791.9 206.9,791.1 208.6,790.4 210.2,789.8 211.9,789.4 213.5,789.2 215.2,789.2 216.8,789.3 218.5,789.7 220.1,790.2 221.8,790.8 223.4,791.5 225.1,792.3 226.7,793.2 228.4,794 230,794.8 231.7,795.6 233.3,796.4 235,797.1 236.6,797.7 238.3,798.3 239.9,798.8 241.6,799.3 243.2,799.7 244.9,800 246.5,800.3 248.2,800.6 249.8,800.8 251.5,801 253.1,801.1 254.8,801.3 256.4,801.4 258.1,801.5 259.7,801.6 261.4,801.7 263,801.7 264.7,801.8 266.3,801.8 268,801.8 269.6,801.8 271.3,801.8 272.9,801.8 274.6,801.8 276.2,801.8 277.9,801.8 279.5,801.8 281.2,801.8 282.8,801.8 284.5,801.8 286.1,801.7 287.8,801.7 289.5,801.7 291.1,801.7 292.8,801.6 294.4,801.6 296.1,801.6 297.7,801.6 299.4,801.5 301,801.5 302.7,801.5 304.3,801.5 306,801.5 307.6,801.4 309.3,801.4 310.9,801.4 312.6,801.4 314.2,801.4 315.9,801.3 317.5,801.3 319.2,801.3 320.8,801.3 322.5,801.3 324.1,801.2 325.8,801.2 327.4,801.2 329.1,801.2 330.7,801.1 332.4,801.1"/>
<polyline class="c" stroke="#7D4E4E" points="84.7,805.4 93,805.3 101.2,805.2 109.5,805.1 117.7,804.9 126,804.6 134.3,804.3 142.5,803.9 150.8,803.4 159,802.8 167.3,802.2 168.9,802.1 170.6,802 172.2,801.9 173.9,801.8 175.5,801.7 177.2,801.5 178.8,801.4 180.5,801.1 182.1,800.8 183.8,800.5 185.4,800 187.1,799.4 188.7,798.6 190.4,797.5 192,796.1 193.7,794.4 195.3,792.3 197,789.7 198.6,786.5 200.3,782.7 201.9,778.3 203.6,773.2 205.2,767.6 206.9,761.4 208.6,754.8 210.2,747.9 211.9,740.9 213.5,734 215.2,727.5 216.8,721.6 218.5,716.7 220.1,712.9 221.8,710.4 223.4,709.4 225.1,709.9 226.7,711.8 228.4,715.1 230,719.4 231.7,724.6 233.3,730.4 235,736.5 236.6,742.9 238.3,749.1 239.9,755.1 241.6,760.7 243.2,765.8 244.9,770.4 246.5,774.3 248.2,777.7 249.8,780.6 251.5,782.9 253.1,784.7 254.8,786.1 256.4,787.2 258.1,788 259.7,788.6 261.4,789 263,789.3 264.7,789.5 266.3,789.6 268,789.6 269.6,789.7 271.3,789.7 272.9,789.6 274.6,789.6 276.2,789.6 277.9,789.5 279.5,789.5 281.2,789.4 282.8,789.3 284.5,789.2 286.1,789 287.8,788.8 289.5,788.5 291.1,788.2 292.8,787.9 294.4,787.5 296.1,787.2 297.7,786.8 299.4,786.3 301,785.9 302.7,785.5 304.3,785 306,784.5 307.6,784.1 309.3,783.6 310.9,783.1 312.6,782.6 314.2,782.2 315.9,781.7 317.5,781.2 319.2,780.8 320.8,780.3 322.5,779.9 324.1,779.5 325.8,779.2 327.4,778.8 329.1,778.5 330.7,778.2 332.4,777.9"/>
<polyline class="c" stroke="#8E8E00" points="84.7,805.4 93,805.3 101.2,805.2 109.5,805.1 117.7,804.9 126,804.6 134.3,804.3 142.5,803.9 150.8,803.4 159,802.8 167.3,802.2 168.9,802.1 170.6,802 172.2,801.9 173.9,801.8 175.5,801.6 177.2,801.5 178.8,801.3 180.5,801.1 182.1,800.8 183.8,800.4 185.4,799.9 187.1,799.3 188.7,798.4 190.4,797.3 192,795.9 193.7,794.2 195.3,791.9 197,789.2 198.6,785.9 200.3,782 201.9,777.4 203.6,772.2 205.2,766.3 206.9,759.9 208.6,753.1 210.2,745.9 211.9,738.7 213.5,731.5 215.2,724.8 216.8,718.7 218.5,713.6 220.1,709.7 221.8,707.1 223.4,706.1 225.1,706.6 226.7,708.6 228.4,711.9 230,716.4 231.7,721.8 233.3,727.8 235,734.2 236.6,740.7 238.3,747.2 239.9,753.4 241.6,759.2 243.2,764.5 244.9,769.2 246.5,773.3 248.2,776.8 249.8,779.7 251.5,782.1 253.1,784 254.8,785.5 256.4,786.6 258.1,787.5 259.7,788.1 261.4,788.5 263,788.8 264.7,789 266.3,789.1 268,789.1 269.6,789.2 271.3,789.1 272.9,789.1 274.6,789.1 276.2,789 277.9,789 279.5,789 281.2,788.9 282.8,788.8 284.5,788.6 286.1,788.5 287.8,788.2 289.5,788 291.1,787.7 292.8,787.3 294.4,787 296.1,786.6 297.7,786.2 299.4,785.7 301,785.3 302.7,784.8 304.3,784.4 306,783.9 307.6,783.4 309.3,782.9 310.9,782.4 312.6,781.9 314.2,781.4 315.9,781 317.5,780.5 319.2,780 320.8,779.6 322.5,779.1 324.1,778.7 325.8,778.3 327.4,778 329.1,777.7 330.7,777.3 332.4,777.1"/>
<polyline class="c" stroke="#FB6501" points="84.7,805.3 93,805.2 101.2,805.1 109.5,805 117.7,804.7 126,804.4 134.3,804.1 142.5,803.6 150.8,803.1 159,802.5 167.3,801.7 168.9,801.6 170.6,801.5 172.2,801.3 173.9,801.2 175.5,801 177.2,800.8 178.8,800.5 180.5,800.1 182.1,799.6 183.8,799 185.4,798.2 187.1,797.1 188.7,795.8 190.4,793.9 192,791.6 193.7,788.6 195.3,784.9 197,780.4 198.6,774.8 200.3,768.2 201.9,760.5 203.6,751.7 205.2,741.9 206.9,731.1 208.6,719.5 210.2,707.5 211.9,695.2 213.5,683.2 215.2,671.9 216.8,661.6 218.5,653 220.1,646.3 221.8,642 223.4,640.2 225.1,641 226.7,644.4 228.4,649.9 230,657.4 231.7,666.4 233.3,676.5 235,687.2 236.6,698.1 238.3,708.9 239.9,719.3 241.6,729 243.2,737.9 244.9,745.7 246.5,752.6 248.2,758.4 249.8,763.2 251.5,767.2 253.1,770.3 254.8,772.8 256.4,774.6 258.1,776 259.7,777 261.4,777.6 263,778.1 264.7,778.4 266.3,778.5 268,778.6 269.6,778.6 271.3,778.6 272.9,778.6 274.6,778.5 276.2,778.5 277.9,778.4 279.5,778.4 281.2,778.3 282.8,778.1 284.5,777.9 286.1,777.6 287.8,777.2 289.5,776.7 291.1,776.2 292.8,775.7 294.4,775.1 296.1,774.5 297.7,773.8 299.4,773.1 301,772.3 302.7,771.5 304.3,770.8 306,770 307.6,769.1 309.3,768.3 310.9,767.5 312.6,766.6 314.2,765.8 315.9,765 317.5,764.2 319.2,763.5 320.8,762.7 322.5,762 324.1,761.3 325.8,760.7 327.4,760.1 329.1,759.5 330.7,759 332.4,758.6"/>
<polyline class="c" stroke="#6699CC" points="84.7,805.3 93,805.2 101.2,805.1 109.5,804.9 117.7,804.7 126,804.4 134.3,804 142.5,803.6 150.8,803 159,802.4 167.3,801.6 168.9,801.5 170.6,801.3 172.2,801.2 173.9,801 175.5,800.9 177.2,800.6 178.8,800.4 180.5,800 182.1,799.6 183.8,799.1 185.4,798.4 187.1,797.4 188.7,796.2 190.4,794.5 192,792.4 193.7,789.6 195.3,786.2 197,781.8 198.6,776.4 200.3,769.9 201.9,762.1 203.6,753.1 205.2,742.7 206.9,731.1 208.6,718.3 210.2,704.7 211.9,690.5 213.5,676.1 215.2,661.9 216.8,648.5 218.5,636.4 220.1,626.2 221.8,618.3 223.4,613.1 225.1,611 226.7,611.9 228.4,615.8 230,622.3 231.7,631 233.3,641.5 235,653.3 236.6,665.9 238.3,678.7 239.9,691.4 241.6,703.6 243.2,715 244.9,725.4 246.5,734.7 248.2,742.8 249.8,749.6 251.5,755.4 253.1,760.1 254.8,763.8 256.4,766.7 258.1,769 259.7,770.6 261.4,771.9 263,772.7 264.7,773.3 266.3,773.7 268,773.9 269.6,774 271.3,774.1 272.9,774.1 274.6,774.1 276.2,774.1 277.9,774 279.5,774 281.2,773.9 282.8,773.7 284.5,773.4 286.1,773.1 287.8,772.6 289.5,772.1 291.1,771.6 292.8,770.9 294.4,770.2 296.1,769.5 297.7,768.7 299.4,767.9 301,767 302.7,766.1 304.3,765.2 306,764.2 307.6,763.3 309.3,762.3 310.9,761.4 312.6,760.4 314.2,759.4 315.9,758.5 317.5,757.6 319.2,756.7 320.8,755.8 322.5,755 324.1,754.2 325.8,753.4 327.4,752.7 329.1,752.1 330.7,751.5 332.4,751"/>
<polyline class="c" stroke="#6FB802" points="84.7,805.3 93,805.3 101.2,805.2 109.5,805 117.7,804.8 126,804.5 134.3,804.1 142.5,803.7 150.8,803.2 159,802.6 167.3,801.8 168.9,801.7 170.6,801.6 172.2,801.5 173.9,801.3 175.5,801.1 177.2,800.9 178.8,800.7 180.5,800.3 182.1,799.9 183.8,799.4 185.4,798.6 187.1,797.7 188.7,796.4 190.4,794.8 192,792.6 193.7,790 195.3,786.6 197,782.5 198.6,777.5 200.3,771.5 201.9,764.6 203.6,756.7 205.2,747.8 206.9,738 208.6,727.6 210.2,716.7 211.9,705.7 213.5,694.8 215.2,684.6 216.8,675.4 218.5,667.6 220.1,661.5 221.8,657.6 223.4,656 225.1,656.8 226.7,659.8 228.4,664.8 230,671.6 231.7,679.7 233.3,688.8 235,698.5 236.6,708.4 238.3,718.1 239.9,727.5 241.6,736.3 243.2,744.3 244.9,751.4 246.5,757.6 248.2,762.8 249.8,767.2 251.5,770.8 253.1,773.6 254.8,775.8 256.4,777.5 258.1,778.8 259.7,779.7 261.4,780.3 263,780.7 264.7,780.9 266.3,781.1 268,781.2 269.6,781.2 271.3,781.2 272.9,781.1 274.6,781.1 276.2,781 277.9,781 279.5,780.9 281.2,780.9 282.8,780.7 284.5,780.5 286.1,780.2 287.8,779.9 289.5,779.5 291.1,779.1 292.8,778.6 294.4,778.1 296.1,777.5 297.7,776.9 299.4,776.3 301,775.6 302.7,775 304.3,774.3 306,773.6 307.6,772.8 309.3,772.1 310.9,771.4 312.6,770.7 314.2,770 315.9,769.3 317.5,768.6 319.2,767.9 320.8,767.2 322.5,766.6 324.1,766 325.8,765.4 327.4,764.9 329.1,764.4 330.7,764 332.4,763.6"/>
<rect class="lg" x="256.20" y="594.50" width="105.10" height="149.30"/>
<path class="ls" stroke="#515151" d="M257.40 600.80H276.10"/>
<text class="lt" style="font-size:8.94px" x="280.00" y="603.70" textLength="56.7" lengthAdjust="spacingAndGlyphs"><tspan y="603.70">AT</tspan><tspan y="603.70">+NH</tspan><tspan class="sb" y="605.30">4</tspan><tspan class="sp" y="600.80">+</tspan><tspan y="603.70">+K</tspan><tspan class="sp" y="600.80">+</tspan><tspan y="603.70">+Na</tspan><tspan class="sp" y="600.80">+</tspan></text>
<path class="ls" stroke="#F14040" d="M257.40 613.20H276.10"/>
<text class="lt" style="font-size:8.94px" x="280.00" y="616.10" textLength="56.7" lengthAdjust="spacingAndGlyphs"><tspan y="616.10">BT</tspan><tspan y="616.10">+NH</tspan><tspan class="sb" y="617.70">4</tspan><tspan class="sp" y="613.20">+</tspan><tspan y="616.10">+K</tspan><tspan class="sp" y="613.20">+</tspan><tspan y="616.10">+Na</tspan><tspan class="sp" y="613.20">+</tspan></text>
<path class="ls" stroke="#1A6FDF" d="M257.40 625.60H276.10"/>
<text class="lt" style="font-size:8.94px" x="280.00" y="628.50" textLength="56.7" lengthAdjust="spacingAndGlyphs"><tspan y="628.50">OT</tspan><tspan y="628.50">+NH</tspan><tspan class="sb" y="630.10">4</tspan><tspan class="sp" y="625.60">+</tspan><tspan y="628.50">+K</tspan><tspan class="sp" y="625.60">+</tspan><tspan y="628.50">+Na</tspan><tspan class="sp" y="625.60">+</tspan></text>
<path class="ls" stroke="#37AD6B" d="M257.40 638.00H276.10"/>
<text class="lt" style="font-size:8.94px" x="280.00" y="640.90" textLength="56.7" lengthAdjust="spacingAndGlyphs"><tspan y="640.90">TT</tspan><tspan y="640.90">+NH</tspan><tspan class="sb" y="642.50">4</tspan><tspan class="sp" y="638.00">+</tspan><tspan y="640.90">+K</tspan><tspan class="sp" y="638.00">+</tspan><tspan y="640.90">+Na</tspan><tspan class="sp" y="638.00">+</tspan></text>
<path class="ls" stroke="#B177DE" d="M257.40 650.40H276.10"/>
<text class="lt" style="font-size:8.94px" x="280.00" y="653.30" textLength="56.7" lengthAdjust="spacingAndGlyphs"><tspan y="653.30">HT</tspan><tspan y="653.30">+NH</tspan><tspan class="sb" y="654.90">4</tspan><tspan class="sp" y="650.40">+</tspan><tspan y="653.30">+K</tspan><tspan class="sp" y="650.40">+</tspan><tspan y="653.30">+Na</tspan><tspan class="sp" y="650.40">+</tspan></text>
<path class="ls" stroke="#CC9900" d="M257.40 662.80H276.10"/>
<text class="lt" style="font-size:8.94px" x="280.00" y="665.70" textLength="74.8" lengthAdjust="spacingAndGlyphs"><tspan y="665.70">HT&#8722;V15</tspan><tspan y="665.70">+NH</tspan><tspan class="sb" y="667.30">4</tspan><tspan class="sp" y="662.80">+</tspan><tspan y="665.70">+K</tspan><tspan class="sp" y="662.80">+</tspan><tspan y="665.70">+Na</tspan><tspan class="sp" y="662.80">+</tspan></text>
<path class="ls" stroke="#00CBCC" d="M257.40 675.20H276.10"/>
<text class="lt" style="font-size:8.94px" x="280.00" y="678.10" textLength="74.8" lengthAdjust="spacingAndGlyphs"><tspan y="678.10">HT&#8722;V18</tspan><tspan y="678.10">+NH</tspan><tspan class="sb" y="679.70">4</tspan><tspan class="sp" y="675.20">+</tspan><tspan y="678.10">+K</tspan><tspan class="sp" y="675.20">+</tspan><tspan y="678.10">+Na</tspan><tspan class="sp" y="675.20">+</tspan></text>
<path class="ls" stroke="#7D4E4E" d="M257.40 687.60H276.10"/>
<text class="lt" style="font-size:8.94px" x="280.00" y="690.50" textLength="65.7" lengthAdjust="spacingAndGlyphs"><tspan y="690.50">PW17</tspan><tspan y="690.50">+NH</tspan><tspan class="sb" y="692.10">4</tspan><tspan class="sp" y="687.60">+</tspan><tspan y="690.50">+K</tspan><tspan class="sp" y="687.60">+</tspan><tspan y="690.50">+Na</tspan><tspan class="sp" y="687.60">+</tspan></text>
<path class="ls" stroke="#8E8E00" d="M257.40 700.00H276.10"/>
<text class="lt" style="font-size:8.94px" x="280.00" y="702.90" textLength="74.8" lengthAdjust="spacingAndGlyphs"><tspan y="702.90">PS2. M</tspan><tspan y="702.90">+NH</tspan><tspan class="sb" y="704.50">4</tspan><tspan class="sp" y="700.00">+</tspan><tspan y="702.90">+K</tspan><tspan class="sp" y="700.00">+</tspan><tspan y="702.90">+Na</tspan><tspan class="sp" y="700.00">+</tspan></text>
<path class="ls" stroke="#FB6501" d="M257.40 712.40H276.10"/>
<text class="lt" style="font-size:8.94px" x="280.00" y="715.30" textLength="74.8" lengthAdjust="spacingAndGlyphs"><tspan y="715.30">PS5. M</tspan><tspan y="715.30">+NH</tspan><tspan class="sb" y="716.90">4</tspan><tspan class="sp" y="712.40">+</tspan><tspan y="715.30">+K</tspan><tspan class="sp" y="712.40">+</tspan><tspan y="715.30">+Na</tspan><tspan class="sp" y="712.40">+</tspan></text>
<path class="ls" stroke="#6699CC" d="M257.40 724.80H276.10"/>
<text class="lt" style="font-size:8.94px" x="280.00" y="727.70" textLength="74.8" lengthAdjust="spacingAndGlyphs"><tspan y="727.70">T30695</tspan><tspan y="727.70">+NH</tspan><tspan class="sb" y="729.30">4</tspan><tspan class="sp" y="724.80">+</tspan><tspan y="727.70">+K</tspan><tspan class="sp" y="724.80">+</tspan><tspan y="727.70">+Na</tspan><tspan class="sp" y="724.80">+</tspan></text>
<path class="ls" stroke="#6FB802" d="M257.40 737.20H276.10"/>
<text class="lt" style="font-size:8.94px" x="280.00" y="740.10" textLength="79.4" lengthAdjust="spacingAndGlyphs"><tspan y="740.10">AGRO100</tspan><tspan y="740.10">+NH</tspan><tspan class="sb" y="741.70">4</tspan><tspan class="sp" y="737.20">+</tspan><tspan y="740.10">+K</tspan><tspan class="sp" y="737.20">+</tspan><tspan y="740.10">+Na</tspan><tspan class="sp" y="737.20">+</tspan></text>
<rect class="fr" x="51.70" y="591.00" width="313.70" height="233.50"/>
<path class="tk" d="M68.21 824.50v-4.3 M84.72 824.50v-2.5 M101.23 824.50v-4.3 M117.74 824.50v-2.5 M134.25 824.50v-4.3 M150.76 824.50v-2.5 M167.27 824.50v-4.3 M183.78 824.50v-2.5 M200.29 824.50v-4.3 M216.81 824.50v-2.5 M233.32 824.50v-4.3 M249.83 824.50v-2.5 M266.34 824.50v-4.3 M282.85 824.50v-2.5 M299.36 824.50v-4.3 M315.87 824.50v-2.5 M332.38 824.50v-4.3 M348.89 824.50v-2.5 M51.70 807.82h4.3 M51.70 791.14h2.5 M51.70 774.46h4.3 M51.70 757.79h2.5 M51.70 741.11h4.3 M51.70 724.43h2.5 M51.70 707.75h4.3 M51.70 691.07h2.5 M51.70 674.39h4.3 M51.70 657.71h2.5 M51.70 641.04h4.3 M51.70 624.36h2.5 M51.70 607.68h4.3"/>
<text class="tl" style="font-size:10.8px" x="68.21" y="838.00" text-anchor="middle" textLength="15.6" lengthAdjust="spacingAndGlyphs">540</text>
<text class="tl" style="font-size:10.8px" x="101.23" y="838.00" text-anchor="middle" textLength="15.6" lengthAdjust="spacingAndGlyphs">560</text>
<text class="tl" style="font-size:10.8px" x="134.25" y="838.00" text-anchor="middle" textLength="15.6" lengthAdjust="spacingAndGlyphs">580</text>
<text class="tl" style="font-size:10.8px" x="167.27" y="838.00" text-anchor="middle" textLength="15.6" lengthAdjust="spacingAndGlyphs">600</text>
<text class="tl" style="font-size:10.8px" x="200.29" y="838.00" text-anchor="middle" textLength="15.6" lengthAdjust="spacingAndGlyphs">620</text>
<text class="tl" style="font-size:10.8px" x="233.32" y="838.00" text-anchor="middle" textLength="15.6" lengthAdjust="spacingAndGlyphs">640</text>
<text class="tl" style="font-size:10.8px" x="266.34" y="838.00" text-anchor="middle" textLength="15.6" lengthAdjust="spacingAndGlyphs">660</text>
<text class="tl" style="font-size:10.8px" x="299.36" y="838.00" text-anchor="middle" textLength="15.6" lengthAdjust="spacingAndGlyphs">680</text>
<text class="tl" style="font-size:10.8px" x="332.38" y="838.00" text-anchor="middle" textLength="15.6" lengthAdjust="spacingAndGlyphs">700</text>
<text class="tl" style="font-size:10.8px" x="365.40" y="838.00" text-anchor="middle" textLength="15.6" lengthAdjust="spacingAndGlyphs">720</text>
<text class="tl" style="font-size:10.8px" x="46.50" y="811.90" text-anchor="end" textLength="5.2" lengthAdjust="spacingAndGlyphs">0</text>
<text class="tl" style="font-size:10.8px" x="46.50" y="778.54" text-anchor="end" textLength="15.6" lengthAdjust="spacingAndGlyphs">200</text>
<text class="tl" style="font-size:10.8px" x="46.50" y="745.19" text-anchor="end" textLength="15.6" lengthAdjust="spacingAndGlyphs">400</text>
<text class="tl" style="font-size:10.8px" x="46.50" y="711.83" text-anchor="end" textLength="15.6" lengthAdjust="spacingAndGlyphs">600</text>
<text class="tl" style="font-size:10.8px" x="46.50" y="678.47" text-anchor="end" textLength="15.6" lengthAdjust="spacingAndGlyphs">800</text>
<text class="tl" style="font-size:10.8px" x="46.50" y="645.12" text-anchor="end" textLength="20.8" lengthAdjust="spacingAndGlyphs">1000</text>
<text class="tl" style="font-size:10.8px" x="46.50" y="611.76" text-anchor="end" textLength="20.8" lengthAdjust="spacingAndGlyphs">1200</text>
<text class="yt" transform="translate(10.10 756.30) rotate(-90)" textLength="106.3" lengthAdjust="spacingAndGlyphs">Fluorescence(a. u. )</text>
<text class="xt" x="162.50" y="853.50" textLength="90.2" lengthAdjust="spacingAndGlyphs">Wavelength(nm)</text>
<text class="lab" x="1.50" y="858.70" textLength="19.1" lengthAdjust="spacingAndGlyphs">(E)</text>
<polyline class="c" stroke="#515151" points="491.3,808.9 499.6,808.9 508,808.8 516.3,808.7 524.7,808.6 533.1,808.3 541.4,808.1 549.8,807.8 558.2,807.4 566.5,807 574.9,806.4 576.6,806.4 578.2,806.3 579.9,806.2 581.6,806.1 583.2,806 584.9,805.9 586.6,805.7 588.3,805.6 589.9,805.4 591.6,805.2 593.3,804.9 595,804.6 596.6,804.3 598.3,803.9 600,803.5 601.6,803.1 603.3,802.7 605,802.2 606.7,801.8 608.3,801.3 610,800.8 611.7,800.4 613.4,800 615,799.7 616.7,799.5 618.4,799.4 620,799.4 621.7,799.4 623.4,799.6 625.1,799.9 626.7,800.2 628.4,800.6 630.1,801 631.8,801.4 633.4,801.8 635.1,802.2 636.8,802.7 638.4,803.1 640.1,803.4 641.8,803.8 643.5,804.1 645.1,804.4 646.8,804.7 648.5,804.9 650.2,805.1 651.8,805.3 653.5,805.5 655.2,805.7 656.8,805.8 658.5,806 660.2,806.1 661.9,806.2 663.5,806.3 665.2,806.4 666.9,806.5 668.6,806.6 670.2,806.7 671.9,806.7 673.6,806.8 675.2,806.8 676.9,806.8 678.6,806.9 680.3,806.9 681.9,806.9 683.6,806.9 685.3,806.9 687,806.9 688.6,806.9 690.3,806.9 692,806.9 693.6,806.9 695.3,806.8 697,806.8 698.7,806.8 700.3,806.8 702,806.7 703.7,806.7 705.3,806.7 707,806.7 708.7,806.7 710.4,806.7 712,806.7 713.7,806.6 715.4,806.6 717.1,806.6 718.7,806.6 720.4,806.6 722.1,806.6 723.7,806.6 725.4,806.6 727.1,806.6 728.8,806.6 730.4,806.6 732.1,806.5 733.8,806.5 735.5,806.5 737.1,806.5 738.8,806.5 740.5,806.4 742.1,806.4"/>
<polyline class="c" stroke="#F14040" points="491.3,808.9 499.6,808.9 508,808.8 516.3,808.7 524.7,808.5 533.1,808.3 541.4,808 549.8,807.7 558.2,807.3 566.5,806.8 574.9,806.2 576.6,806.1 578.2,806 579.9,805.9 581.6,805.8 583.2,805.6 584.9,805.4 586.6,805.2 588.3,804.9 589.9,804.6 591.6,804.3 593.3,803.9 595,803.4 596.6,802.9 598.3,802.3 600,801.6 601.6,800.9 603.3,800.1 605,799.3 606.7,798.5 608.3,797.7 610,796.9 611.7,796.2 613.4,795.5 615,795 616.7,794.6 618.4,794.3 620,794.3 621.7,794.4 623.4,794.7 625.1,795.1 626.7,795.7 628.4,796.3 630.1,797.1 631.8,797.8 633.4,798.6 635.1,799.3 636.8,800.1 638.4,800.8 640.1,801.4 641.8,802 643.5,802.6 645.1,803 646.8,803.5 648.5,803.8 650.2,804.2 651.8,804.5 653.5,804.7 655.2,804.9 656.8,805.1 658.5,805.3 660.2,805.4 661.9,805.6 663.5,805.7 665.2,805.8 666.9,805.8 668.6,805.9 670.2,806 671.9,806 673.6,806.1 675.2,806.1 676.9,806.1 678.6,806.1 680.3,806.1 681.9,806.2 683.6,806.2 685.3,806.2 687,806.2 688.6,806.1 690.3,806.1 692,806.1 693.6,806.1 695.3,806.1 697,806.1 698.7,806 700.3,806 702,806 703.7,806 705.3,805.9 707,805.9 708.7,805.9 710.4,805.9 712,805.9 713.7,805.9 715.4,805.8 717.1,805.8 718.7,805.8 720.4,805.8 722.1,805.8 723.7,805.8 725.4,805.8 727.1,805.7 728.8,805.7 730.4,805.7 732.1,805.7 733.8,805.7 735.5,805.6 737.1,805.6 738.8,805.6 740.5,805.6 742.1,805.5"/>
<polyline class="c" stroke="#1A6FDF" points="491.3,808.9 499.6,808.9 508,808.8 516.3,808.7 524.7,808.5 533.1,808.3 541.4,808 549.8,807.7 558.2,807.3 566.5,806.9 574.9,806.3 576.6,806.2 578.2,806.1 579.9,806 581.6,805.8 583.2,805.7 584.9,805.5 586.6,805.3 588.3,805 589.9,804.8 591.6,804.4 593.3,804 595,803.6 596.6,803.1 598.3,802.6 600,802 601.6,801.4 603.3,800.7 605,800 606.7,799.4 608.3,798.7 610,798 611.7,797.5 613.4,797 615,796.6 616.7,796.4 618.4,796.3 620,796.3 621.7,796.5 623.4,796.8 625.1,797.2 626.7,797.8 628.4,798.3 630.1,799 631.8,799.6 633.4,800.2 635.1,800.8 636.8,801.4 638.4,802 640.1,802.5 641.8,802.9 643.5,803.4 645.1,803.7 646.8,804.1 648.5,804.3 650.2,804.6 651.8,804.8 653.5,805 655.2,805.2 656.8,805.3 658.5,805.5 660.2,805.6 661.9,805.7 663.5,805.8 665.2,805.9 666.9,805.9 668.6,806 670.2,806 671.9,806.1 673.6,806.1 675.2,806.1 676.9,806.2 678.6,806.2 680.3,806.2 681.9,806.2 683.6,806.2 685.3,806.2 687,806.2 688.6,806.2 690.3,806.2 692,806.1 693.6,806.1 695.3,806.1 697,806.1 698.7,806.1 700.3,806 702,806 703.7,806 705.3,806 707,805.9 708.7,805.9 710.4,805.9 712,805.8 713.7,805.8 715.4,805.8 717.1,805.7 718.7,805.7 720.4,805.7 722.1,805.6 723.7,805.6 725.4,805.6 727.1,805.6 728.8,805.5 730.4,805.5 732.1,805.5 733.8,805.4 735.5,805.4 737.1,805.4 738.8,805.3 740.5,805.3 742.1,805.3"/>
<polyline class="c" stroke="#37AD6B" points="491.3,808.9 499.6,808.9 508,808.8 516.3,808.7 524.7,808.5 533.1,808.3 541.4,808 549.8,807.7 558.2,807.3 566.5,806.8 574.9,806.3 576.6,806.2 578.2,806.1 579.9,806 581.6,805.9 583.2,805.8 584.9,805.6 586.6,805.4 588.3,805.2 589.9,804.9 591.6,804.6 593.3,804.3 595,803.9 596.6,803.4 598.3,802.9 600,802.3 601.6,801.6 603.3,800.8 605,800 606.7,799.2 608.3,798.3 610,797.4 611.7,796.5 613.4,795.6 615,794.8 616.7,794.1 618.4,793.5 620,793.1 621.7,792.9 623.4,792.9 625.1,793 626.7,793.4 628.4,793.9 630.1,794.6 631.8,795.3 633.4,796.1 635.1,797 636.8,797.8 638.4,798.7 640.1,799.5 641.8,800.3 643.5,801 645.1,801.6 646.8,802.2 648.5,802.7 650.2,803.1 651.8,803.5 653.5,803.9 655.2,804.2 656.8,804.4 658.5,804.6 660.2,804.8 661.9,804.9 663.5,805 665.2,805.1 666.9,805.2 668.6,805.3 670.2,805.3 671.9,805.4 673.6,805.4 675.2,805.4 676.9,805.4 678.6,805.5 680.3,805.5 681.9,805.5 683.6,805.5 685.3,805.4 687,805.4 688.6,805.4 690.3,805.4 692,805.4 693.6,805.4 695.3,805.4 697,805.3 698.7,805.3 700.3,805.3 702,805.3 703.7,805.2 705.3,805.2 707,805.2 708.7,805.2 710.4,805.1 712,805.1 713.7,805.1 715.4,805 717.1,805 718.7,805 720.4,804.9 722.1,804.9 723.7,804.9 725.4,804.8 727.1,804.8 728.8,804.8 730.4,804.8 732.1,804.7 733.8,804.7 735.5,804.7 737.1,804.6 738.8,804.6 740.5,804.6 742.1,804.5"/>
<polyline class="c" stroke="#B177DE" points="491.3,809 499.6,808.9 508,808.9 516.3,808.7 524.7,808.6 533.1,808.4 541.4,808.1 549.8,807.8 558.2,807.4 566.5,807 574.9,806.5 576.6,806.4 578.2,806.3 579.9,806.2 581.6,806.1 583.2,806 584.9,805.9 586.6,805.7 588.3,805.6 589.9,805.4 591.6,805.2 593.3,804.9 595,804.6 596.6,804.3 598.3,804 600,803.6 601.6,803.2 603.3,802.8 605,802.4 606.7,802 608.3,801.6 610,801.3 611.7,801 613.4,800.7 615,800.5 616.7,800.4 618.4,800.4 620,800.4 621.7,800.5 623.4,800.8 625.1,801 626.7,801.3 628.4,801.7 630.1,802 631.8,802.4 633.4,802.8 635.1,803.1 636.8,803.4 638.4,803.8 640.1,804.1 641.8,804.3 643.5,804.6 645.1,804.8 646.8,805 648.5,805.2 650.2,805.4 651.8,805.5 653.5,805.7 655.2,805.8 656.8,805.9 658.5,806.1 660.2,806.2 661.9,806.3 663.5,806.4 665.2,806.5 666.9,806.6 668.6,806.6 670.2,806.7 671.9,806.8 673.6,806.8 675.2,806.8 676.9,806.9 678.6,806.9 680.3,806.9 681.9,806.9 683.6,806.9 685.3,806.9 687,806.9 688.6,806.9 690.3,806.9 692,806.9 693.6,806.9 695.3,806.9 697,806.8 698.7,806.8 700.3,806.8 702,806.8 703.7,806.7 705.3,806.7 707,806.7 708.7,806.7 710.4,806.7 712,806.7 713.7,806.7 715.4,806.7 717.1,806.7 718.7,806.7 720.4,806.8 722.1,806.8 723.7,806.8 725.4,806.8 727.1,806.8 728.8,806.8 730.4,806.8 732.1,806.8 733.8,806.8 735.5,806.8 737.1,806.8 738.8,806.7 740.5,806.7 742.1,806.7"/>
<polyline class="c" stroke="#CC9900" points="491.3,808.9 499.6,808.8 508,808.7 516.3,808.6 524.7,808.4 533.1,808.2 541.4,807.9 549.8,807.6 558.2,807.1 566.5,806.7 574.9,806.1 576.6,806 578.2,805.9 579.9,805.8 581.6,805.7 583.2,805.6 584.9,805.5 586.6,805.3 588.3,805.1 589.9,804.8 591.6,804.4 593.3,803.9 595,803.3 596.6,802.5 598.3,801.5 600,800.1 601.6,798.4 603.3,796.2 605,793.6 606.7,790.4 608.3,786.6 610,782.1 611.7,777.1 613.4,771.4 615,765.1 616.7,758.5 618.4,751.5 620,744.5 621.7,737.5 623.4,731 625.1,725.1 626.7,720.1 628.4,716.2 630.1,713.7 631.8,712.7 633.4,713.2 635.1,715.4 636.8,718.9 638.4,723.7 640.1,729.5 641.8,735.9 643.5,742.7 645.1,749.6 646.8,756.3 648.5,762.6 650.2,768.4 651.8,773.6 653.5,778.1 655.2,781.8 656.8,785 658.5,787.5 660.2,789.4 661.9,790.9 663.5,792 665.2,792.8 666.9,793.3 668.6,793.7 670.2,793.9 671.9,794 673.6,794 675.2,794 676.9,794 678.6,794 680.3,793.9 681.9,793.8 683.6,793.8 685.3,793.7 687,793.7 688.6,793.6 690.3,793.5 692,793.4 693.6,793.3 695.3,793.1 697,792.8 698.7,792.5 700.3,792.2 702,791.9 703.7,791.5 705.3,791.1 707,790.7 708.7,790.3 710.4,789.8 712,789.4 713.7,788.9 715.4,788.4 717.1,787.9 718.7,787.4 720.4,786.9 722.1,786.4 723.7,785.9 725.4,785.4 727.1,784.9 728.8,784.4 730.4,784 732.1,783.6 733.8,783.1 735.5,782.7 737.1,782.4 738.8,782 740.5,781.7 742.1,781.5"/>
<polyline class="c" stroke="#00CBCC" points="491.3,808.9 499.6,808.9 508,808.8 516.3,808.7 524.7,808.5 533.1,808.3 541.4,808.1 549.8,807.7 558.2,807.4 566.5,806.9 574.9,806.4 576.6,806.3 578.2,806.2 579.9,806.1 581.6,806 583.2,805.9 584.9,805.7 586.6,805.6 588.3,805.4 589.9,805.1 591.6,804.9 593.3,804.6 595,804.2 596.6,803.8 598.3,803.4 600,802.9 601.6,802.3 603.3,801.8 605,801.2 606.7,800.6 608.3,799.9 610,799.3 611.7,798.7 613.4,798.2 615,797.8 616.7,797.4 618.4,797.2 620,797.1 621.7,797.1 623.4,797.3 625.1,797.6 626.7,798 628.4,798.5 630.1,799 631.8,799.5 633.4,800.1 635.1,800.7 636.8,801.2 638.4,801.7 640.1,802.2 641.8,802.7 643.5,803.1 645.1,803.4 646.8,803.8 648.5,804.1 650.2,804.3 651.8,804.5 653.5,804.7 655.2,804.8 656.8,805 658.5,805.1 660.2,805.2 661.9,805.3 663.5,805.3 665.2,805.4 666.9,805.4 668.6,805.5 670.2,805.5 671.9,805.5 673.6,805.5 675.2,805.6 676.9,805.6 678.6,805.6 680.3,805.6 681.9,805.6 683.6,805.6 685.3,805.5 687,805.5 688.6,805.5 690.3,805.5 692,805.5 693.6,805.5 695.3,805.4 697,805.4 698.7,805.4 700.3,805.3 702,805.3 703.7,805.3 705.3,805.3 707,805.2 708.7,805.2 710.4,805.2 712,805.1 713.7,805.1 715.4,805.1 717.1,805 718.7,805 720.4,805 722.1,804.9 723.7,804.9 725.4,804.9 727.1,804.8 728.8,804.8 730.4,804.8 732.1,804.7 733.8,804.7 735.5,804.7 737.1,804.6 738.8,804.6 740.5,804.6 742.1,804.5"/>
<polyline class="c" stroke="#7D4E4E" points="491.3,808.9 499.6,808.8 508,808.7 516.3,808.6 524.7,808.4 533.1,808.2 541.4,807.9 549.8,807.5 558.2,807.1 566.5,806.6 574.9,806.1 576.6,806 578.2,805.9 579.9,805.8 581.6,805.7 583.2,805.6 584.9,805.4 586.6,805.2 588.3,805 589.9,804.7 591.6,804.3 593.3,803.8 595,803.2 596.6,802.3 598.3,801.2 600,799.8 601.6,798 603.3,795.8 605,793 606.7,789.7 608.3,785.7 610,781.1 611.7,775.7 613.4,769.8 615,763.3 616.7,756.3 618.4,749 620,741.6 621.7,734.4 623.4,727.6 625.1,721.4 626.7,716.1 628.4,712.1 630.1,709.5 631.8,708.4 633.4,709 635.1,711.3 636.8,715 638.4,720 640.1,726.1 641.8,732.8 643.5,739.9 645.1,747.1 646.8,754.1 648.5,760.7 650.2,766.8 651.8,772.2 653.5,776.9 655.2,780.9 656.8,784.2 658.5,786.8 660.2,788.9 661.9,790.4 663.5,791.6 665.2,792.4 666.9,793 668.6,793.4 670.2,793.6 671.9,793.7 673.6,793.7 675.2,793.7 676.9,793.7 678.6,793.7 680.3,793.6 681.9,793.6 683.6,793.5 685.3,793.4 687,793.4 688.6,793.3 690.3,793.3 692,793.1 693.6,793 695.3,792.8 697,792.5 698.7,792.2 700.3,791.9 702,791.5 703.7,791.2 705.3,790.8 707,790.3 708.7,789.9 710.4,789.4 712,788.9 713.7,788.4 715.4,787.9 717.1,787.4 718.7,786.9 720.4,786.4 722.1,785.8 723.7,785.3 725.4,784.8 727.1,784.3 728.8,783.8 730.4,783.4 732.1,782.9 733.8,782.5 735.5,782.1 737.1,781.7 738.8,781.4 740.5,781 742.1,780.8"/>
<polyline class="c" stroke="#8E8E00" points="491.3,808.9 499.6,808.8 508,808.8 516.3,808.6 524.7,808.4 533.1,808.2 541.4,807.9 549.8,807.6 558.2,807.2 566.5,806.7 574.9,806.1 576.6,806 578.2,805.9 579.9,805.8 581.6,805.7 583.2,805.6 584.9,805.5 586.6,805.3 588.3,805.1 589.9,804.8 591.6,804.4 593.3,804 595,803.3 596.6,802.5 598.3,801.5 600,800.1 601.6,798.4 603.3,796.3 605,793.7 606.7,790.5 608.3,786.7 610,782.3 611.7,777.3 613.4,771.6 615,765.4 616.7,758.8 618.4,751.9 620,744.9 621.7,738 623.4,731.5 625.1,725.7 626.7,720.7 628.4,716.9 630.1,714.4 631.8,713.4 633.4,713.9 635.1,716.1 636.8,719.6 638.4,724.4 640.1,730.1 641.8,736.5 643.5,743.2 645.1,750.1 646.8,756.7 648.5,763 650.2,768.8 651.8,773.9 653.5,778.4 655.2,782.1 656.8,785.3 658.5,787.8 660.2,789.7 661.9,791.2 663.5,792.3 665.2,793.1 666.9,793.6 668.6,793.9 670.2,794.2 671.9,794.3 673.6,794.3 675.2,794.3 676.9,794.3 678.6,794.2 680.3,794.2 681.9,794.1 683.6,794.1 685.3,794 687,793.9 688.6,793.9 690.3,793.8 692,793.7 693.6,793.6 695.3,793.4 697,793.1 698.7,792.9 700.3,792.6 702,792.2 703.7,791.9 705.3,791.5 707,791.1 708.7,790.7 710.4,790.2 712,789.8 713.7,789.3 715.4,788.8 717.1,788.4 718.7,787.9 720.4,787.4 722.1,786.9 723.7,786.4 725.4,786 727.1,785.5 728.8,785 730.4,784.6 732.1,784.2 733.8,783.8 735.5,783.4 737.1,783.1 738.8,782.7 740.5,782.4 742.1,782.2"/>
<polyline class="c" stroke="#FB6501" points="491.3,808.8 499.6,808.8 508,808.7 516.3,808.5 524.7,808.3 533.1,808.1 541.4,807.8 549.8,807.4 558.2,807 566.5,806.4 574.9,805.8 576.6,805.7 578.2,805.6 579.9,805.4 581.6,805.3 583.2,805.1 584.9,804.9 586.6,804.7 588.3,804.4 589.9,804 591.6,803.5 593.3,802.8 595,801.8 596.6,800.6 598.3,799.1 600,797 601.6,794.5 603.3,791.3 605,787.3 606.7,782.5 608.3,776.8 610,770.2 611.7,762.6 613.4,754 615,744.7 616.7,734.7 618.4,724.3 620,713.7 621.7,703.3 623.4,693.5 625.1,684.6 626.7,677.1 628.4,671.3 630.1,667.6 631.8,666 633.4,666.8 635.1,670 636.8,675.4 638.4,682.6 640.1,691.2 641.8,700.8 643.5,711 645.1,721.3 646.8,731.3 648.5,740.8 650.2,749.4 651.8,757.2 653.5,763.9 655.2,769.6 656.8,774.2 658.5,778 660.2,780.9 661.9,783.1 663.5,784.7 665.2,785.9 666.9,786.7 668.6,787.2 670.2,787.5 671.9,787.7 673.6,787.8 675.2,787.8 676.9,787.7 678.6,787.7 680.3,787.6 681.9,787.5 683.6,787.4 685.3,787.4 687,787.3 688.6,787.2 690.3,787.1 692,787 693.6,786.7 695.3,786.4 697,786.1 698.7,785.6 700.3,785.2 702,784.7 703.7,784.1 705.3,783.5 707,782.9 708.7,782.2 710.4,781.5 712,780.8 713.7,780 715.4,779.3 717.1,778.5 718.7,777.8 720.4,777 722.1,776.2 723.7,775.4 725.4,774.7 727.1,774 728.8,773.2 730.4,772.5 732.1,771.9 733.8,771.2 735.5,770.6 737.1,770.1 738.8,769.6 740.5,769.1 742.1,768.7"/>
<polyline class="c" stroke="#6699CC" points="491.3,808.8 499.6,808.7 508,808.6 516.3,808.5 524.7,808.2 533.1,808 541.4,807.7 549.8,807.3 558.2,806.8 566.5,806.2 574.9,805.5 576.6,805.4 578.2,805.2 579.9,805.1 581.6,805 583.2,804.8 584.9,804.6 586.6,804.3 588.3,804 589.9,803.6 591.6,803 593.3,802.3 595,801.3 596.6,800.1 598.3,798.4 600,796.3 601.6,793.5 603.3,790 605,785.6 606.7,780.1 608.3,773.5 610,765.7 611.7,756.5 613.4,746 615,734.2 616.7,721.3 618.4,707.5 620,693.1 621.7,678.5 623.4,664.1 625.1,650.6 626.7,638.3 628.4,627.9 630.1,619.8 631.8,614.5 633.4,612.3 635.1,613.3 636.8,617.6 638.4,624.8 640.1,634.6 641.8,646.3 643.5,659.4 645.1,673.3 646.8,687.3 648.5,701 650.2,714 651.8,725.8 653.5,736.4 655.2,745.6 656.8,753.4 658.5,759.8 660.2,764.9 661.9,768.9 663.5,772 665.2,774.2 666.9,775.9 668.6,777 670.2,777.7 671.9,778.1 673.6,778.4 675.2,778.5 676.9,778.5 678.6,778.5 680.3,778.4 681.9,778.3 683.6,778.3 685.3,778.2 687,778.1 688.6,778 690.3,777.9 692,777.7 693.6,777.4 695.3,777 697,776.5 698.7,776 700.3,775.4 702,774.8 703.7,774.1 705.3,773.3 707,772.5 708.7,771.6 710.4,770.7 712,769.8 713.7,768.9 715.4,767.9 717.1,767 718.7,766 720.4,765 722.1,764 723.7,763.1 725.4,762.1 727.1,761.2 728.8,760.2 730.4,759.4 732.1,758.5 733.8,757.7 735.5,757 737.1,756.3 738.8,755.6 740.5,755 742.1,754.5"/>
<polyline class="c" stroke="#6FB802" points="491.3,808.8 499.6,808.8 508,808.7 516.3,808.6 524.7,808.4 533.1,808.1 541.4,807.8 549.8,807.4 558.2,807 566.5,806.5 574.9,805.9 576.6,805.8 578.2,805.7 579.9,805.6 581.6,805.4 583.2,805.3 584.9,805.1 586.6,804.9 588.3,804.6 589.9,804.2 591.6,803.7 593.3,803.1 595,802.3 596.6,801.2 598.3,799.8 600,797.9 601.6,795.6 603.3,792.7 605,789.1 606.7,784.8 608.3,779.7 610,773.6 611.7,766.8 613.4,759.1 615,750.6 616.7,741.6 618.4,732.2 620,722.6 621.7,713.2 623.4,704.3 625.1,696.3 626.7,689.5 628.4,684.3 630.1,680.9 631.8,679.4 633.4,680.2 635.1,683 636.8,687.8 638.4,694.3 640.1,702 641.8,710.7 643.5,719.8 645.1,729 646.8,738.1 648.5,746.6 650.2,754.4 651.8,761.3 653.5,767.3 655.2,772.4 656.8,776.6 658.5,779.9 660.2,782.5 661.9,784.5 663.5,785.9 665.2,787 666.9,787.7 668.6,788.1 670.2,788.4 671.9,788.5 673.6,788.5 675.2,788.5 676.9,788.5 678.6,788.4 680.3,788.3 681.9,788.3 683.6,788.2 685.3,788.1 687,788 688.6,788 690.3,787.9 692,787.7 693.6,787.5 695.3,787.3 697,787 698.7,786.6 700.3,786.3 702,785.8 703.7,785.4 705.3,784.9 707,784.4 708.7,783.8 710.4,783.3 712,782.7 713.7,782.1 715.4,781.5 717.1,780.9 718.7,780.3 720.4,779.6 722.1,779 723.7,778.4 725.4,777.8 727.1,777.2 728.8,776.6 730.4,776.1 732.1,775.5 733.8,775 735.5,774.5 737.1,774.1 738.8,773.7 740.5,773.3 742.1,773"/>
<rect class="lg" x="664.70" y="586.40" width="110.40" height="159.50"/>
<path class="ls" stroke="#515151" d="M665.60 593.70H684.40"/>
<text class="lt" style="font-size:9.28px" x="688.90" y="596.60" textLength="58.8" lengthAdjust="spacingAndGlyphs"><tspan y="596.60">AT</tspan><tspan y="596.60">+NH</tspan><tspan class="sb" y="598.20">4</tspan><tspan class="sp" y="593.70">+</tspan><tspan y="596.60">+Na</tspan><tspan class="sp" y="593.70">+</tspan><tspan y="596.60">+K</tspan><tspan class="sp" y="593.70">+</tspan></text>
<path class="ls" stroke="#F14040" d="M665.60 606.90H684.40"/>
<text class="lt" style="font-size:9.28px" x="688.90" y="609.80" textLength="58.8" lengthAdjust="spacingAndGlyphs"><tspan y="609.80">BT</tspan><tspan y="609.80">+NH</tspan><tspan class="sb" y="611.40">4</tspan><tspan class="sp" y="606.90">+</tspan><tspan y="609.80">+Na</tspan><tspan class="sp" y="606.90">+</tspan><tspan y="609.80">+K</tspan><tspan class="sp" y="606.90">+</tspan></text>
<path class="ls" stroke="#1A6FDF" d="M665.60 620.10H684.40"/>
<text class="lt" style="font-size:9.28px" x="688.90" y="623.00" textLength="58.8" lengthAdjust="spacingAndGlyphs"><tspan y="623.00">OT</tspan><tspan y="623.00">+NH</tspan><tspan class="sb" y="624.60">4</tspan><tspan class="sp" y="620.10">+</tspan><tspan y="623.00">+Na</tspan><tspan class="sp" y="620.10">+</tspan><tspan y="623.00">+K</tspan><tspan class="sp" y="620.10">+</tspan></text>
<path class="ls" stroke="#37AD6B" d="M665.60 633.30H684.40"/>
<text class="lt" style="font-size:9.28px" x="688.90" y="636.20" textLength="58.8" lengthAdjust="spacingAndGlyphs"><tspan y="636.20">TT</tspan><tspan y="636.20">+NH</tspan><tspan class="sb" y="637.80">4</tspan><tspan class="sp" y="633.30">+</tspan><tspan y="636.20">+Na</tspan><tspan class="sp" y="633.30">+</tspan><tspan y="636.20">+K</tspan><tspan class="sp" y="633.30">+</tspan></text>
<path class="ls" stroke="#B177DE" d="M665.60 646.50H684.40"/>
<text class="lt" style="font-size:9.28px" x="688.90" y="649.40" textLength="58.8" lengthAdjust="spacingAndGlyphs"><tspan y="649.40">HT</tspan><tspan y="649.40">+NH</tspan><tspan class="sb" y="651.00">4</tspan><tspan class="sp" y="646.50">+</tspan><tspan y="649.40">+Na</tspan><tspan class="sp" y="646.50">+</tspan><tspan y="649.40">+K</tspan><tspan class="sp" y="646.50">+</tspan></text>
<path class="ls" stroke="#CC9900" d="M665.60 659.70H684.40"/>
<text class="lt" style="font-size:9.28px" x="688.90" y="662.60" textLength="77.6" lengthAdjust="spacingAndGlyphs"><tspan y="662.60">HT&#8722;V15</tspan><tspan y="662.60">+NH</tspan><tspan class="sb" y="664.20">4</tspan><tspan class="sp" y="659.70">+</tspan><tspan y="662.60">+Na</tspan><tspan class="sp" y="659.70">+</tspan><tspan y="662.60">+K</tspan><tspan class="sp" y="659.70">+</tspan></text>
<path class="ls" stroke="#00CBCC" d="M665.60 672.90H684.40"/>
<text class="lt" style="font-size:9.28px" x="688.90" y="675.80" textLength="77.6" lengthAdjust="spacingAndGlyphs"><tspan y="675.80">HT&#8722;V18</tspan><tspan y="675.80">+NH</tspan><tspan class="sb" y="677.40">4</tspan><tspan class="sp" y="672.90">+</tspan><tspan y="675.80">+Na</tspan><tspan class="sp" y="672.90">+</tspan><tspan y="675.80">+K</tspan><tspan class="sp" y="672.90">+</tspan></text>
<path class="ls" stroke="#7D4E4E" d="M665.60 686.10H684.40"/>
<text class="lt" style="font-size:9.28px" x="688.90" y="689.00" textLength="68.2" lengthAdjust="spacingAndGlyphs"><tspan y="689.00">PW17</tspan><tspan y="689.00">+NH</tspan><tspan class="sb" y="690.60">4</tspan><tspan class="sp" y="686.10">+</tspan><tspan y="689.00">+Na</tspan><tspan class="sp" y="686.10">+</tspan><tspan y="689.00">+K</tspan><tspan class="sp" y="686.10">+</tspan></text>
<path class="ls" stroke="#8E8E00" d="M665.60 699.30H684.40"/>
<text class="lt" style="font-size:9.28px" x="688.90" y="702.20" textLength="77.6" lengthAdjust="spacingAndGlyphs"><tspan y="702.20">PS2. M</tspan><tspan y="702.20">+NH</tspan><tspan class="sb" y="703.80">4</tspan><tspan class="sp" y="699.30">+</tspan><tspan y="702.20">+Na</tspan><tspan class="sp" y="699.30">+</tspan><tspan y="702.20">+K</tspan><tspan class="sp" y="699.30">+</tspan></text>
<path class="ls" stroke="#FB6501" d="M665.60 712.50H684.40"/>
<text class="lt" style="font-size:9.28px" x="688.90" y="715.40" textLength="77.6" lengthAdjust="spacingAndGlyphs"><tspan y="715.40">PS5. M</tspan><tspan y="715.40">+NH</tspan><tspan class="sb" y="717.00">4</tspan><tspan class="sp" y="712.50">+</tspan><tspan y="715.40">+Na</tspan><tspan class="sp" y="712.50">+</tspan><tspan y="715.40">+K</tspan><tspan class="sp" y="712.50">+</tspan></text>
<path class="ls" stroke="#6699CC" d="M665.60 725.70H684.40"/>
<text class="lt" style="font-size:9.28px" x="688.90" y="728.60" textLength="77.6" lengthAdjust="spacingAndGlyphs"><tspan y="728.60">T30695</tspan><tspan y="728.60">+NH</tspan><tspan class="sb" y="730.20">4</tspan><tspan class="sp" y="725.70">+</tspan><tspan y="728.60">+Na</tspan><tspan class="sp" y="725.70">+</tspan><tspan y="728.60">+K</tspan><tspan class="sp" y="725.70">+</tspan></text>
<path class="ls" stroke="#6FB802" d="M665.60 738.90H684.40"/>
<text class="lt" style="font-size:9.28px" x="688.90" y="741.80" textLength="82.3" lengthAdjust="spacingAndGlyphs"><tspan y="741.80">AGRO100</tspan><tspan y="741.80">+NH</tspan><tspan class="sb" y="743.40">4</tspan><tspan class="sp" y="738.90">+</tspan><tspan y="741.80">+Na</tspan><tspan class="sp" y="738.90">+</tspan><tspan y="741.80">+K</tspan><tspan class="sp" y="738.90">+</tspan></text>
<rect class="fr" x="457.80" y="584.70" width="317.80" height="240.40"/>
<path class="tk" d="M474.53 825.10v-4.3 M491.25 825.10v-2.5 M507.98 825.10v-4.3 M524.71 825.10v-2.5 M541.43 825.10v-4.3 M558.16 825.10v-2.5 M574.88 825.10v-4.3 M591.61 825.10v-2.5 M608.34 825.10v-4.3 M625.06 825.10v-2.5 M641.79 825.10v-4.3 M658.52 825.10v-2.5 M675.24 825.10v-4.3 M691.97 825.10v-2.5 M708.69 825.10v-4.3 M725.42 825.10v-2.5 M742.15 825.10v-4.3 M758.87 825.10v-2.5 M457.80 810.96h4.3 M457.80 796.82h2.5 M457.80 782.68h4.3 M457.80 768.54h2.5 M457.80 754.39h4.3 M457.80 740.25h2.5 M457.80 726.11h4.3 M457.80 711.97h2.5 M457.80 697.83h4.3 M457.80 683.69h2.5 M457.80 669.55h4.3 M457.80 655.41h2.5 M457.80 641.26h4.3 M457.80 627.12h2.5 M457.80 612.98h4.3 M457.80 598.84h2.5"/>
<text class="tl" style="font-size:11.3px" x="474.53" y="839.50" text-anchor="middle" textLength="15.6" lengthAdjust="spacingAndGlyphs">540</text>
<text class="tl" style="font-size:11.3px" x="507.98" y="839.50" text-anchor="middle" textLength="15.6" lengthAdjust="spacingAndGlyphs">560</text>
<text class="tl" style="font-size:11.3px" x="541.43" y="839.50" text-anchor="middle" textLength="15.6" lengthAdjust="spacingAndGlyphs">580</text>
<text class="tl" style="font-size:11.3px" x="574.88" y="839.50" text-anchor="middle" textLength="15.6" lengthAdjust="spacingAndGlyphs">600</text>
<text class="tl" style="font-size:11.3px" x="608.34" y="839.50" text-anchor="middle" textLength="15.6" lengthAdjust="spacingAndGlyphs">620</text>
<text class="tl" style="font-size:11.3px" x="641.79" y="839.50" text-anchor="middle" textLength="15.6" lengthAdjust="spacingAndGlyphs">640</text>
<text class="tl" style="font-size:11.3px" x="675.24" y="839.50" text-anchor="middle" textLength="15.6" lengthAdjust="spacingAndGlyphs">660</text>
<text class="tl" style="font-size:11.3px" x="708.69" y="839.50" text-anchor="middle" textLength="15.6" lengthAdjust="spacingAndGlyphs">680</text>
<text class="tl" style="font-size:11.3px" x="742.15" y="839.50" text-anchor="middle" textLength="15.6" lengthAdjust="spacingAndGlyphs">700</text>
<text class="tl" style="font-size:11.3px" x="775.60" y="839.50" text-anchor="middle" textLength="15.6" lengthAdjust="spacingAndGlyphs">720</text>
<text class="tl" style="font-size:11.3px" x="452.60" y="815.21" text-anchor="end" textLength="5.2" lengthAdjust="spacingAndGlyphs">0</text>
<text class="tl" style="font-size:11.3px" x="452.60" y="786.93" text-anchor="end" textLength="15.6" lengthAdjust="spacingAndGlyphs">200</text>
<text class="tl" style="font-size:11.3px" x="452.60" y="758.65" text-anchor="end" textLength="15.6" lengthAdjust="spacingAndGlyphs">400</text>
<text class="tl" style="font-size:11.3px" x="452.60" y="730.37" text-anchor="end" textLength="15.6" lengthAdjust="spacingAndGlyphs">600</text>
<text class="tl" style="font-size:11.3px" x="452.60" y="702.08" text-anchor="end" textLength="15.6" lengthAdjust="spacingAndGlyphs">800</text>
<text class="tl" style="font-size:11.3px" x="452.60" y="673.80" text-anchor="end" textLength="20.8" lengthAdjust="spacingAndGlyphs">1000</text>
<text class="tl" style="font-size:11.3px" x="452.60" y="645.52" text-anchor="end" textLength="20.8" lengthAdjust="spacingAndGlyphs">1200</text>
<text class="tl" style="font-size:11.3px" x="452.60" y="617.24" text-anchor="end" textLength="20.8" lengthAdjust="spacingAndGlyphs">1400</text>
<text class="tl" style="font-size:11.3px" x="452.60" y="588.96" text-anchor="end" textLength="20.8" lengthAdjust="spacingAndGlyphs">1600</text>
<text class="yt" transform="translate(416.70 755.50) rotate(-90)" textLength="109.5" lengthAdjust="spacingAndGlyphs">Fluorescence(a. u. )</text>
<text class="xt" x="570.20" y="855.50" textLength="91.8" lengthAdjust="spacingAndGlyphs">Wavelength(nm)</text>
<text class="lab" x="404.90" y="858.30" textLength="20.1" lengthAdjust="spacingAndGlyphs">(F)</text>
</svg></body></html>
